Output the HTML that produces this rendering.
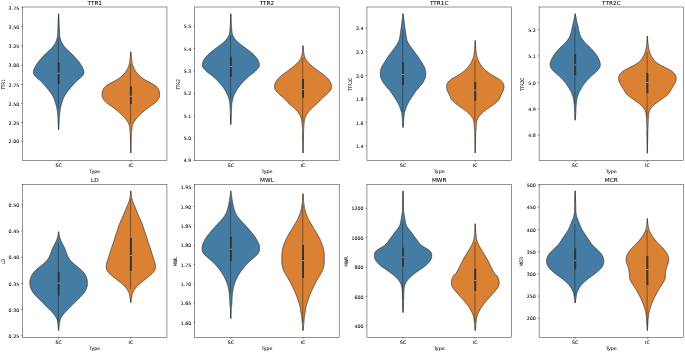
<!DOCTYPE html>
<html><head><meta charset="utf-8"><title>Violin plots</title>
<style>html,body{margin:0;padding:0;background:#fff}svg{display:block}text{font-family:"DejaVu Sans","Liberation Sans",sans-serif;fill:#000;stroke:#000;stroke-width:0.15px;text-rendering:geometricPrecision}</style>
</head><body>
<svg width="685" height="352" viewBox="0 0 685 352">
<rect width="685" height="352" fill="#fff"/>
<path d="M58.59,13.76 L58.58,14.16 L58.56,14.56 L58.55,14.96 L58.53,15.36 L58.51,15.76 L58.49,16.16 L58.48,16.56 L58.46,16.96 L58.44,17.36 L58.42,17.76 L58.41,18.16 L58.39,18.56 L58.37,18.96 L58.35,19.36 L58.33,19.76 L58.31,20.16 L58.29,20.56 L58.27,20.96 L58.25,21.36 L58.24,21.76 L58.22,22.16 L58.20,22.56 L58.18,22.96 L58.16,23.36 L58.14,23.76 L58.11,24.16 L58.09,24.56 L58.07,24.96 L58.05,25.36 L58.03,25.76 L58.01,26.16 L57.99,26.56 L57.98,26.96 L57.96,27.36 L57.94,27.76 L57.93,28.16 L57.91,28.56 L57.89,28.96 L57.88,29.36 L57.87,29.76 L57.85,30.16 L57.84,30.56 L57.82,30.96 L57.81,31.36 L57.79,31.76 L57.77,32.16 L57.75,32.56 L57.73,32.96 L57.71,33.36 L57.69,33.76 L57.66,34.16 L57.63,34.56 L57.59,34.96 L57.55,35.36 L57.51,35.76 L57.47,36.16 L57.42,36.56 L57.36,36.96 L57.30,37.36 L57.24,37.76 L57.16,38.16 L57.08,38.56 L56.98,38.96 L56.86,39.36 L56.73,39.76 L56.59,40.16 L56.44,40.56 L56.28,40.96 L56.12,41.36 L55.94,41.76 L55.75,42.16 L55.56,42.56 L55.35,42.96 L55.13,43.36 L54.90,43.76 L54.66,44.16 L54.40,44.56 L54.14,44.96 L53.86,45.36 L53.57,45.76 L53.26,46.16 L52.95,46.56 L52.62,46.96 L52.28,47.36 L51.93,47.76 L51.57,48.16 L51.19,48.56 L50.80,48.96 L50.40,49.36 L49.99,49.76 L49.57,50.16 L49.15,50.56 L48.72,50.96 L48.29,51.36 L47.85,51.76 L47.41,52.16 L46.96,52.56 L46.52,52.96 L46.08,53.36 L45.65,53.76 L45.23,54.16 L44.83,54.56 L44.44,54.96 L44.06,55.36 L43.70,55.76 L43.34,56.16 L42.98,56.56 L42.63,56.96 L42.28,57.36 L41.92,57.76 L41.55,58.16 L41.19,58.56 L40.82,58.96 L40.45,59.36 L40.09,59.76 L39.73,60.16 L39.39,60.56 L39.05,60.96 L38.73,61.36 L38.41,61.76 L38.11,62.16 L37.82,62.56 L37.54,62.96 L37.26,63.36 L36.99,63.76 L36.73,64.16 L36.48,64.56 L36.23,64.96 L35.99,65.36 L35.76,65.76 L35.54,66.16 L35.32,66.56 L35.10,66.96 L34.89,67.36 L34.69,67.76 L34.49,68.16 L34.29,68.56 L34.11,68.96 L33.94,69.36 L33.80,69.76 L33.68,70.16 L33.59,70.56 L33.51,70.96 L33.45,71.36 L33.41,71.76 L33.39,72.16 L33.40,72.56 L33.44,72.96 L33.52,73.36 L33.63,73.76 L33.78,74.16 L33.96,74.56 L34.18,74.96 L34.44,75.36 L34.75,75.76 L35.11,76.16 L35.51,76.56 L35.93,76.96 L36.38,77.36 L36.84,77.76 L37.31,78.16 L37.79,78.56 L38.27,78.96 L38.75,79.36 L39.22,79.76 L39.68,80.16 L40.13,80.56 L40.56,80.96 L40.98,81.36 L41.39,81.76 L41.79,82.16 L42.18,82.56 L42.56,82.96 L42.94,83.36 L43.31,83.76 L43.66,84.16 L44.02,84.56 L44.36,84.96 L44.70,85.36 L45.04,85.76 L45.37,86.16 L45.71,86.56 L46.05,86.96 L46.39,87.36 L46.73,87.76 L47.08,88.16 L47.42,88.56 L47.77,88.96 L48.10,89.36 L48.44,89.76 L48.76,90.16 L49.07,90.56 L49.38,90.96 L49.67,91.36 L49.96,91.76 L50.25,92.16 L50.53,92.56 L50.80,92.96 L51.07,93.36 L51.33,93.76 L51.59,94.16 L51.85,94.56 L52.10,94.96 L52.35,95.36 L52.60,95.76 L52.83,96.16 L53.06,96.56 L53.27,96.96 L53.48,97.36 L53.67,97.76 L53.85,98.16 L54.02,98.56 L54.18,98.96 L54.34,99.36 L54.49,99.76 L54.64,100.16 L54.78,100.56 L54.91,100.96 L55.05,101.36 L55.17,101.76 L55.30,102.16 L55.42,102.56 L55.54,102.96 L55.65,103.36 L55.76,103.76 L55.87,104.16 L55.98,104.56 L56.09,104.96 L56.19,105.36 L56.29,105.76 L56.39,106.16 L56.49,106.56 L56.58,106.96 L56.68,107.36 L56.77,107.76 L56.85,108.16 L56.94,108.56 L57.01,108.96 L57.08,109.36 L57.14,109.76 L57.20,110.16 L57.26,110.56 L57.31,110.96 L57.36,111.36 L57.41,111.76 L57.45,112.16 L57.50,112.56 L57.54,112.96 L57.58,113.36 L57.62,113.76 L57.66,114.16 L57.69,114.56 L57.73,114.96 L57.77,115.36 L57.80,115.76 L57.84,116.16 L57.87,116.56 L57.90,116.96 L57.93,117.36 L57.96,117.76 L57.98,118.16 L58.01,118.56 L58.03,118.96 L58.05,119.36 L58.07,119.76 L58.09,120.16 L58.11,120.56 L58.13,120.96 L58.14,121.36 L58.16,121.76 L58.18,122.16 L58.20,122.56 L58.22,122.96 L58.24,123.36 L58.26,123.76 L58.28,124.16 L58.30,124.56 L58.32,124.96 L58.35,125.36 L58.37,125.76 L58.39,126.16 L58.41,126.56 L58.43,126.96 L58.45,127.36 L58.48,127.76 L58.50,128.16 L58.52,128.56 L58.54,128.96 L58.56,129.36 L58.57,129.76 L58.73,129.76 L58.74,129.36 L58.76,128.96 L58.78,128.56 L58.80,128.16 L58.82,127.76 L58.85,127.36 L58.87,126.96 L58.89,126.56 L58.91,126.16 L58.93,125.76 L58.95,125.36 L58.98,124.96 L59.00,124.56 L59.02,124.16 L59.04,123.76 L59.06,123.36 L59.08,122.96 L59.10,122.56 L59.12,122.16 L59.14,121.76 L59.16,121.36 L59.17,120.96 L59.19,120.56 L59.21,120.16 L59.23,119.76 L59.25,119.36 L59.27,118.96 L59.29,118.56 L59.32,118.16 L59.34,117.76 L59.37,117.36 L59.40,116.96 L59.43,116.56 L59.46,116.16 L59.50,115.76 L59.53,115.36 L59.57,114.96 L59.61,114.56 L59.64,114.16 L59.68,113.76 L59.72,113.36 L59.76,112.96 L59.80,112.56 L59.85,112.16 L59.89,111.76 L59.94,111.36 L59.99,110.96 L60.04,110.56 L60.10,110.16 L60.16,109.76 L60.22,109.36 L60.29,108.96 L60.36,108.56 L60.45,108.16 L60.53,107.76 L60.62,107.36 L60.72,106.96 L60.81,106.56 L60.91,106.16 L61.01,105.76 L61.11,105.36 L61.21,104.96 L61.32,104.56 L61.43,104.16 L61.54,103.76 L61.65,103.36 L61.76,102.96 L61.88,102.56 L62.00,102.16 L62.13,101.76 L62.25,101.36 L62.39,100.96 L62.52,100.56 L62.66,100.16 L62.81,99.76 L62.96,99.36 L63.12,98.96 L63.28,98.56 L63.45,98.16 L63.63,97.76 L63.82,97.36 L64.03,96.96 L64.24,96.56 L64.47,96.16 L64.70,95.76 L64.95,95.36 L65.20,94.96 L65.45,94.56 L65.71,94.16 L65.97,93.76 L66.23,93.36 L66.50,92.96 L66.77,92.56 L67.05,92.16 L67.34,91.76 L67.63,91.36 L67.92,90.96 L68.23,90.56 L68.54,90.16 L68.86,89.76 L69.20,89.36 L69.53,88.96 L69.88,88.56 L70.22,88.16 L70.57,87.76 L70.91,87.36 L71.25,86.96 L71.59,86.56 L71.93,86.16 L72.26,85.76 L72.60,85.36 L72.94,84.96 L73.28,84.56 L73.64,84.16 L73.99,83.76 L74.36,83.36 L74.74,82.96 L75.12,82.56 L75.51,82.16 L75.91,81.76 L76.32,81.36 L76.74,80.96 L77.17,80.56 L77.62,80.16 L78.08,79.76 L78.55,79.36 L79.03,78.96 L79.51,78.56 L79.99,78.16 L80.46,77.76 L80.92,77.36 L81.37,76.96 L81.79,76.56 L82.19,76.16 L82.55,75.76 L82.86,75.36 L83.12,74.96 L83.34,74.56 L83.52,74.16 L83.67,73.76 L83.78,73.36 L83.86,72.96 L83.90,72.56 L83.91,72.16 L83.89,71.76 L83.85,71.36 L83.79,70.96 L83.71,70.56 L83.62,70.16 L83.50,69.76 L83.36,69.36 L83.19,68.96 L83.01,68.56 L82.81,68.16 L82.61,67.76 L82.41,67.36 L82.20,66.96 L81.98,66.56 L81.76,66.16 L81.54,65.76 L81.31,65.36 L81.07,64.96 L80.82,64.56 L80.57,64.16 L80.31,63.76 L80.04,63.36 L79.76,62.96 L79.48,62.56 L79.19,62.16 L78.89,61.76 L78.57,61.36 L78.25,60.96 L77.91,60.56 L77.57,60.16 L77.21,59.76 L76.85,59.36 L76.48,58.96 L76.11,58.56 L75.75,58.16 L75.38,57.76 L75.02,57.36 L74.67,56.96 L74.32,56.56 L73.96,56.16 L73.60,55.76 L73.24,55.36 L72.86,54.96 L72.47,54.56 L72.07,54.16 L71.65,53.76 L71.22,53.36 L70.78,52.96 L70.34,52.56 L69.89,52.16 L69.45,51.76 L69.01,51.36 L68.58,50.96 L68.15,50.56 L67.73,50.16 L67.31,49.76 L66.90,49.36 L66.50,48.96 L66.11,48.56 L65.73,48.16 L65.37,47.76 L65.02,47.36 L64.68,46.96 L64.35,46.56 L64.04,46.16 L63.73,45.76 L63.44,45.36 L63.16,44.96 L62.90,44.56 L62.64,44.16 L62.40,43.76 L62.17,43.36 L61.95,42.96 L61.74,42.56 L61.55,42.16 L61.36,41.76 L61.18,41.36 L61.02,40.96 L60.86,40.56 L60.71,40.16 L60.57,39.76 L60.44,39.36 L60.32,38.96 L60.22,38.56 L60.14,38.16 L60.06,37.76 L60.00,37.36 L59.94,36.96 L59.88,36.56 L59.83,36.16 L59.79,35.76 L59.75,35.36 L59.71,34.96 L59.67,34.56 L59.64,34.16 L59.61,33.76 L59.59,33.36 L59.57,32.96 L59.55,32.56 L59.53,32.16 L59.51,31.76 L59.49,31.36 L59.48,30.96 L59.46,30.56 L59.45,30.16 L59.43,29.76 L59.42,29.36 L59.41,28.96 L59.39,28.56 L59.37,28.16 L59.36,27.76 L59.34,27.36 L59.32,26.96 L59.31,26.56 L59.29,26.16 L59.27,25.76 L59.25,25.36 L59.23,24.96 L59.21,24.56 L59.19,24.16 L59.16,23.76 L59.14,23.36 L59.12,22.96 L59.10,22.56 L59.08,22.16 L59.06,21.76 L59.05,21.36 L59.03,20.96 L59.01,20.56 L58.99,20.16 L58.97,19.76 L58.95,19.36 L58.93,18.96 L58.91,18.56 L58.89,18.16 L58.88,17.76 L58.86,17.36 L58.84,16.96 L58.82,16.56 L58.81,16.16 L58.79,15.76 L58.77,15.36 L58.75,14.96 L58.74,14.56 L58.72,14.16 L58.71,13.76Z" fill="#457ca3" stroke="#303030" stroke-width="0.72" stroke-linejoin="round"/>
<line x1="58.45" x2="58.45" y1="13.76" y2="22.56" stroke="#222" stroke-width="0.45"/>
<line x1="58.45" x2="58.45" y1="122.16" y2="129.76" stroke="#222" stroke-width="0.45"/>
<line x1="58.35" x2="58.35" y1="38" y2="108.4" stroke="#222" stroke-width="0.5"/>
<line x1="58.65" x2="58.65" y1="62.7" y2="83.8" stroke="#333" stroke-width="1.9"/>
<rect x="57.65" y="72.90" width="2.0" height="0.6" fill="#fff" opacity="0.8"/>
<path d="M130.77,51.76 L130.75,52.16 L130.72,52.56 L130.68,52.96 L130.65,53.36 L130.61,53.76 L130.57,54.16 L130.53,54.56 L130.49,54.96 L130.45,55.36 L130.41,55.76 L130.38,56.16 L130.34,56.56 L130.30,56.96 L130.26,57.36 L130.23,57.76 L130.19,58.16 L130.15,58.56 L130.11,58.96 L130.07,59.36 L130.03,59.76 L129.99,60.16 L129.94,60.56 L129.89,60.96 L129.83,61.36 L129.77,61.76 L129.71,62.16 L129.65,62.56 L129.58,62.96 L129.51,63.36 L129.43,63.76 L129.34,64.16 L129.23,64.56 L129.11,64.96 L128.97,65.36 L128.82,65.76 L128.66,66.16 L128.50,66.56 L128.33,66.96 L128.16,67.36 L127.98,67.76 L127.79,68.16 L127.59,68.56 L127.38,68.96 L127.17,69.36 L126.95,69.76 L126.72,70.16 L126.48,70.56 L126.23,70.96 L125.97,71.36 L125.70,71.76 L125.42,72.16 L125.13,72.56 L124.82,72.96 L124.50,73.36 L124.16,73.76 L123.80,74.16 L123.42,74.56 L123.02,74.96 L122.60,75.36 L122.17,75.76 L121.72,76.16 L121.26,76.56 L120.79,76.96 L120.29,77.36 L119.78,77.76 L119.25,78.16 L118.69,78.56 L118.11,78.96 L117.49,79.36 L116.83,79.76 L116.13,80.16 L115.39,80.56 L114.63,80.96 L113.85,81.36 L113.07,81.76 L112.30,82.16 L111.54,82.56 L110.80,82.96 L110.07,83.36 L109.36,83.76 L108.67,84.16 L108.00,84.56 L107.36,84.96 L106.77,85.36 L106.22,85.76 L105.73,86.16 L105.29,86.56 L104.89,86.96 L104.52,87.36 L104.19,87.76 L103.88,88.16 L103.61,88.56 L103.37,88.96 L103.16,89.36 L102.97,89.76 L102.81,90.16 L102.67,90.56 L102.54,90.96 L102.42,91.36 L102.32,91.76 L102.25,92.16 L102.19,92.56 L102.15,92.96 L102.13,93.36 L102.12,93.76 L102.12,94.16 L102.12,94.56 L102.12,94.96 L102.12,95.36 L102.13,95.76 L102.15,96.16 L102.19,96.56 L102.26,96.96 L102.38,97.36 L102.53,97.76 L102.72,98.16 L102.95,98.56 L103.20,98.96 L103.46,99.36 L103.75,99.76 L104.05,100.16 L104.37,100.56 L104.73,100.96 L105.10,101.36 L105.51,101.76 L105.93,102.16 L106.38,102.56 L106.84,102.96 L107.32,103.36 L107.82,103.76 L108.34,104.16 L108.89,104.56 L109.45,104.96 L110.02,105.36 L110.60,105.76 L111.17,106.16 L111.74,106.56 L112.31,106.96 L112.87,107.36 L113.42,107.76 L113.97,108.16 L114.52,108.56 L115.05,108.96 L115.58,109.36 L116.10,109.76 L116.61,110.16 L117.10,110.56 L117.59,110.96 L118.06,111.36 L118.53,111.76 L118.99,112.16 L119.44,112.56 L119.88,112.96 L120.32,113.36 L120.75,113.76 L121.17,114.16 L121.59,114.56 L122.00,114.96 L122.40,115.36 L122.80,115.76 L123.19,116.16 L123.56,116.56 L123.93,116.96 L124.28,117.36 L124.63,117.76 L124.97,118.16 L125.30,118.56 L125.62,118.96 L125.93,119.36 L126.23,119.76 L126.52,120.16 L126.80,120.56 L127.08,120.96 L127.35,121.36 L127.61,121.76 L127.86,122.16 L128.09,122.56 L128.31,122.96 L128.51,123.36 L128.70,123.76 L128.86,124.16 L129.02,124.56 L129.15,124.96 L129.27,125.36 L129.36,125.76 L129.45,126.16 L129.52,126.56 L129.59,126.96 L129.64,127.36 L129.70,127.76 L129.75,128.16 L129.80,128.56 L129.84,128.96 L129.88,129.36 L129.93,129.76 L129.97,130.16 L130.01,130.56 L130.05,130.96 L130.09,131.36 L130.13,131.76 L130.17,132.16 L130.21,132.56 L130.24,132.96 L130.28,133.36 L130.31,133.76 L130.34,134.16 L130.36,134.56 L130.39,134.96 L130.41,135.36 L130.43,135.76 L130.45,136.16 L130.47,136.56 L130.48,136.96 L130.50,137.36 L130.51,137.76 L130.52,138.16 L130.54,138.56 L130.55,138.96 L130.56,139.36 L130.57,139.76 L130.58,140.16 L130.59,140.56 L130.60,140.96 L130.62,141.36 L130.63,141.76 L130.64,142.16 L130.65,142.56 L130.66,142.96 L130.67,143.36 L130.67,143.76 L130.68,144.16 L130.69,144.56 L130.70,144.96 L130.71,145.36 L130.72,145.76 L130.73,146.16 L130.73,146.56 L130.74,146.96 L130.75,147.36 L130.75,147.76 L130.76,148.16 L130.76,148.56 L130.77,148.96 L130.77,149.36 L130.78,149.76 L130.78,150.16 L130.79,150.56 L130.79,150.96 L130.79,151.36 L130.79,151.76 L130.80,152.16 L130.80,152.56 L130.80,152.96 L130.90,152.96 L130.90,152.56 L130.90,152.16 L130.91,151.76 L130.91,151.36 L130.91,150.96 L130.91,150.56 L130.92,150.16 L130.92,149.76 L130.93,149.36 L130.93,148.96 L130.94,148.56 L130.94,148.16 L130.95,147.76 L130.95,147.36 L130.96,146.96 L130.97,146.56 L130.97,146.16 L130.98,145.76 L130.99,145.36 L131.00,144.96 L131.01,144.56 L131.02,144.16 L131.03,143.76 L131.03,143.36 L131.04,142.96 L131.05,142.56 L131.06,142.16 L131.07,141.76 L131.08,141.36 L131.10,140.96 L131.11,140.56 L131.12,140.16 L131.13,139.76 L131.14,139.36 L131.15,138.96 L131.16,138.56 L131.18,138.16 L131.19,137.76 L131.20,137.36 L131.22,136.96 L131.23,136.56 L131.25,136.16 L131.27,135.76 L131.29,135.36 L131.31,134.96 L131.34,134.56 L131.36,134.16 L131.39,133.76 L131.42,133.36 L131.46,132.96 L131.49,132.56 L131.53,132.16 L131.57,131.76 L131.61,131.36 L131.65,130.96 L131.69,130.56 L131.73,130.16 L131.77,129.76 L131.82,129.36 L131.86,128.96 L131.90,128.56 L131.95,128.16 L132.00,127.76 L132.06,127.36 L132.11,126.96 L132.18,126.56 L132.25,126.16 L132.34,125.76 L132.43,125.36 L132.55,124.96 L132.68,124.56 L132.84,124.16 L133.00,123.76 L133.19,123.36 L133.39,122.96 L133.61,122.56 L133.84,122.16 L134.09,121.76 L134.35,121.36 L134.62,120.96 L134.90,120.56 L135.18,120.16 L135.47,119.76 L135.77,119.36 L136.08,118.96 L136.40,118.56 L136.73,118.16 L137.07,117.76 L137.42,117.36 L137.77,116.96 L138.14,116.56 L138.51,116.16 L138.90,115.76 L139.30,115.36 L139.70,114.96 L140.11,114.56 L140.53,114.16 L140.95,113.76 L141.38,113.36 L141.82,112.96 L142.26,112.56 L142.71,112.16 L143.17,111.76 L143.64,111.36 L144.11,110.96 L144.60,110.56 L145.09,110.16 L145.60,109.76 L146.12,109.36 L146.65,108.96 L147.18,108.56 L147.73,108.16 L148.28,107.76 L148.83,107.36 L149.39,106.96 L149.96,106.56 L150.53,106.16 L151.10,105.76 L151.68,105.36 L152.25,104.96 L152.81,104.56 L153.36,104.16 L153.88,103.76 L154.38,103.36 L154.86,102.96 L155.32,102.56 L155.77,102.16 L156.19,101.76 L156.60,101.36 L156.97,100.96 L157.33,100.56 L157.65,100.16 L157.95,99.76 L158.24,99.36 L158.50,98.96 L158.75,98.56 L158.98,98.16 L159.17,97.76 L159.32,97.36 L159.44,96.96 L159.51,96.56 L159.55,96.16 L159.57,95.76 L159.58,95.36 L159.58,94.96 L159.58,94.56 L159.58,94.16 L159.58,93.76 L159.57,93.36 L159.55,92.96 L159.51,92.56 L159.45,92.16 L159.38,91.76 L159.28,91.36 L159.16,90.96 L159.03,90.56 L158.89,90.16 L158.73,89.76 L158.54,89.36 L158.33,88.96 L158.09,88.56 L157.82,88.16 L157.51,87.76 L157.18,87.36 L156.81,86.96 L156.41,86.56 L155.97,86.16 L155.48,85.76 L154.93,85.36 L154.34,84.96 L153.70,84.56 L153.03,84.16 L152.34,83.76 L151.63,83.36 L150.90,82.96 L150.16,82.56 L149.40,82.16 L148.63,81.76 L147.85,81.36 L147.07,80.96 L146.31,80.56 L145.57,80.16 L144.87,79.76 L144.21,79.36 L143.59,78.96 L143.01,78.56 L142.45,78.16 L141.92,77.76 L141.41,77.36 L140.91,76.96 L140.44,76.56 L139.98,76.16 L139.53,75.76 L139.10,75.36 L138.68,74.96 L138.28,74.56 L137.90,74.16 L137.54,73.76 L137.20,73.36 L136.88,72.96 L136.57,72.56 L136.28,72.16 L136.00,71.76 L135.73,71.36 L135.47,70.96 L135.22,70.56 L134.98,70.16 L134.75,69.76 L134.53,69.36 L134.32,68.96 L134.11,68.56 L133.91,68.16 L133.72,67.76 L133.54,67.36 L133.37,66.96 L133.20,66.56 L133.04,66.16 L132.88,65.76 L132.73,65.36 L132.59,64.96 L132.47,64.56 L132.36,64.16 L132.27,63.76 L132.19,63.36 L132.12,62.96 L132.05,62.56 L131.99,62.16 L131.93,61.76 L131.87,61.36 L131.81,60.96 L131.76,60.56 L131.71,60.16 L131.67,59.76 L131.63,59.36 L131.59,58.96 L131.55,58.56 L131.51,58.16 L131.47,57.76 L131.44,57.36 L131.40,56.96 L131.36,56.56 L131.32,56.16 L131.29,55.76 L131.25,55.36 L131.21,54.96 L131.17,54.56 L131.13,54.16 L131.09,53.76 L131.05,53.36 L131.02,52.96 L130.98,52.56 L130.95,52.16 L130.93,51.76Z" fill="#db8134" stroke="#303030" stroke-width="0.72" stroke-linejoin="round"/>
<line x1="130.65" x2="130.65" y1="51.76" y2="56.16" stroke="#222" stroke-width="0.45"/>
<line x1="130.65" x2="130.65" y1="134.96" y2="152.96" stroke="#222" stroke-width="0.45"/>
<line x1="130.55" x2="130.55" y1="64" y2="124" stroke="#222" stroke-width="0.5"/>
<line x1="130.85" x2="130.85" y1="86.4" y2="104.0" stroke="#333" stroke-width="1.9"/>
<rect x="129.85" y="95.90" width="2.0" height="0.6" fill="#fff" opacity="0.8"/>
<rect x="22.55" y="7.0" width="144.40" height="153.40" fill="none" stroke="#000" stroke-width="0.42"/>
<line x1="21.15" x2="22.55" y1="7.75" y2="7.75" stroke="#000" stroke-width="0.42"/>
<text transform="translate(19.20,9.85) scale(0.3425,0.33)" text-anchor="end" font-size="13.89">3.75</text>
<line x1="21.15" x2="22.55" y1="26.7" y2="26.7" stroke="#000" stroke-width="0.42"/>
<text transform="translate(19.20,28.80) scale(0.3425,0.33)" text-anchor="end" font-size="13.89">3.50</text>
<line x1="21.15" x2="22.55" y1="46.0" y2="46.0" stroke="#000" stroke-width="0.42"/>
<text transform="translate(19.20,48.10) scale(0.3425,0.33)" text-anchor="end" font-size="13.89">3.25</text>
<line x1="21.15" x2="22.55" y1="65.3" y2="65.3" stroke="#000" stroke-width="0.42"/>
<text transform="translate(19.20,67.40) scale(0.3425,0.33)" text-anchor="end" font-size="13.89">3.00</text>
<line x1="21.15" x2="22.55" y1="84.5" y2="84.5" stroke="#000" stroke-width="0.42"/>
<text transform="translate(19.20,86.60) scale(0.3425,0.33)" text-anchor="end" font-size="13.89">2.75</text>
<line x1="21.15" x2="22.55" y1="103.5" y2="103.5" stroke="#000" stroke-width="0.42"/>
<text transform="translate(19.20,105.60) scale(0.3425,0.33)" text-anchor="end" font-size="13.89">2.50</text>
<line x1="21.15" x2="22.55" y1="122.4" y2="122.4" stroke="#000" stroke-width="0.42"/>
<text transform="translate(19.20,124.50) scale(0.3425,0.33)" text-anchor="end" font-size="13.89">2.25</text>
<line x1="21.15" x2="22.55" y1="141.3" y2="141.3" stroke="#000" stroke-width="0.42"/>
<text transform="translate(19.20,143.40) scale(0.3425,0.33)" text-anchor="end" font-size="13.89">2.00</text>
<line x1="58.65" x2="58.65" y1="160.4" y2="161.80" stroke="#000" stroke-width="0.42"/>
<text transform="translate(58.65,166.85) scale(0.3425,0.33)" text-anchor="middle" font-size="13.89">SC</text>
<line x1="130.85" x2="130.85" y1="160.4" y2="161.80" stroke="#000" stroke-width="0.42"/>
<text transform="translate(130.85,166.85) scale(0.3425,0.33)" text-anchor="middle" font-size="13.89">IC</text>
<text transform="translate(94.75,172.55) scale(0.3425,0.33)" text-anchor="middle" font-size="13.89">Type</text>
<text transform="translate(94.75,4.70) scale(0.3425,0.33)" text-anchor="middle" font-size="16.67">TTR1</text>
<text transform="translate(4.83,84.40) scale(0.3425,0.2933) rotate(-90)" text-anchor="middle" font-size="13.89">TTR1</text>
<path d="M230.79,13.76 L230.78,14.16 L230.76,14.56 L230.75,14.96 L230.73,15.36 L230.71,15.76 L230.69,16.16 L230.68,16.56 L230.66,16.96 L230.64,17.36 L230.62,17.76 L230.61,18.16 L230.59,18.56 L230.57,18.96 L230.55,19.36 L230.53,19.76 L230.51,20.16 L230.49,20.56 L230.48,20.96 L230.46,21.36 L230.44,21.76 L230.42,22.16 L230.41,22.56 L230.39,22.96 L230.37,23.36 L230.35,23.76 L230.33,24.16 L230.31,24.56 L230.29,24.96 L230.27,25.36 L230.25,25.76 L230.22,26.16 L230.20,26.56 L230.17,26.96 L230.15,27.36 L230.12,27.76 L230.09,28.16 L230.06,28.56 L230.02,28.96 L229.99,29.36 L229.95,29.76 L229.91,30.16 L229.87,30.56 L229.83,30.96 L229.78,31.36 L229.73,31.76 L229.68,32.16 L229.62,32.56 L229.56,32.96 L229.49,33.36 L229.41,33.76 L229.31,34.16 L229.20,34.56 L229.05,34.96 L228.89,35.36 L228.71,35.76 L228.52,36.16 L228.31,36.56 L228.09,36.96 L227.85,37.36 L227.60,37.76 L227.32,38.16 L227.03,38.56 L226.72,38.96 L226.39,39.36 L226.05,39.76 L225.69,40.16 L225.32,40.56 L224.94,40.96 L224.54,41.36 L224.13,41.76 L223.71,42.16 L223.27,42.56 L222.82,42.96 L222.35,43.36 L221.88,43.76 L221.39,44.16 L220.88,44.56 L220.37,44.96 L219.84,45.36 L219.30,45.76 L218.75,46.16 L218.20,46.56 L217.65,46.96 L217.11,47.36 L216.57,47.76 L216.04,48.16 L215.51,48.56 L214.98,48.96 L214.46,49.36 L213.94,49.76 L213.43,50.16 L212.92,50.56 L212.41,50.96 L211.90,51.36 L211.40,51.76 L210.90,52.16 L210.41,52.56 L209.93,52.96 L209.46,53.36 L209.00,53.76 L208.56,54.16 L208.14,54.56 L207.73,54.96 L207.33,55.36 L206.95,55.76 L206.58,56.16 L206.23,56.56 L205.89,56.96 L205.57,57.36 L205.26,57.76 L204.97,58.16 L204.68,58.56 L204.41,58.96 L204.15,59.36 L203.91,59.76 L203.68,60.16 L203.48,60.56 L203.29,60.96 L203.12,61.36 L202.97,61.76 L202.83,62.16 L202.71,62.56 L202.59,62.96 L202.50,63.36 L202.42,63.76 L202.37,64.16 L202.34,64.56 L202.33,64.96 L202.35,65.36 L202.39,65.76 L202.46,66.16 L202.57,66.56 L202.73,66.96 L202.96,67.36 L203.26,67.76 L203.59,68.16 L203.94,68.56 L204.29,68.96 L204.62,69.36 L204.95,69.76 L205.29,70.16 L205.63,70.56 L206.01,70.96 L206.41,71.36 L206.86,71.76 L207.34,72.16 L207.85,72.56 L208.39,72.96 L208.95,73.36 L209.51,73.76 L210.06,74.16 L210.60,74.56 L211.11,74.96 L211.61,75.36 L212.10,75.76 L212.57,76.16 L213.04,76.56 L213.49,76.96 L213.94,77.36 L214.38,77.76 L214.81,78.16 L215.24,78.56 L215.66,78.96 L216.07,79.36 L216.47,79.76 L216.87,80.16 L217.27,80.56 L217.66,80.96 L218.04,81.36 L218.42,81.76 L218.80,82.16 L219.17,82.56 L219.54,82.96 L219.91,83.36 L220.27,83.76 L220.62,84.16 L220.96,84.56 L221.30,84.96 L221.63,85.36 L221.95,85.76 L222.26,86.16 L222.57,86.56 L222.87,86.96 L223.17,87.36 L223.45,87.76 L223.73,88.16 L224.00,88.56 L224.27,88.96 L224.52,89.36 L224.77,89.76 L225.01,90.16 L225.25,90.56 L225.48,90.96 L225.71,91.36 L225.94,91.76 L226.15,92.16 L226.37,92.56 L226.58,92.96 L226.79,93.36 L226.99,93.76 L227.19,94.16 L227.38,94.56 L227.56,94.96 L227.73,95.36 L227.89,95.76 L228.05,96.16 L228.20,96.56 L228.34,96.96 L228.48,97.36 L228.62,97.76 L228.74,98.16 L228.87,98.56 L228.98,98.96 L229.10,99.36 L229.20,99.76 L229.29,100.16 L229.37,100.56 L229.45,100.96 L229.51,101.36 L229.58,101.76 L229.63,102.16 L229.69,102.56 L229.74,102.96 L229.79,103.36 L229.84,103.76 L229.88,104.16 L229.92,104.56 L229.96,104.96 L229.99,105.36 L230.02,105.76 L230.05,106.16 L230.07,106.56 L230.09,106.96 L230.10,107.36 L230.12,107.76 L230.14,108.16 L230.15,108.56 L230.17,108.96 L230.19,109.36 L230.21,109.76 L230.23,110.16 L230.25,110.56 L230.27,110.96 L230.29,111.36 L230.31,111.76 L230.32,112.16 L230.34,112.56 L230.35,112.96 L230.37,113.36 L230.38,113.76 L230.39,114.16 L230.40,114.56 L230.40,114.96 L230.41,115.36 L230.42,115.76 L230.43,116.16 L230.44,116.56 L230.45,116.96 L230.46,117.36 L230.47,117.76 L230.48,118.16 L230.49,118.56 L230.50,118.96 L230.52,119.36 L230.53,119.76 L230.55,120.16 L230.56,120.56 L230.58,120.96 L230.60,121.36 L230.62,121.76 L230.64,122.16 L230.67,122.56 L230.69,122.96 L230.71,123.36 L230.73,123.76 L230.75,124.16 L230.77,124.56 L230.93,124.56 L230.95,124.16 L230.97,123.76 L230.99,123.36 L231.01,122.96 L231.03,122.56 L231.06,122.16 L231.08,121.76 L231.10,121.36 L231.12,120.96 L231.14,120.56 L231.15,120.16 L231.17,119.76 L231.18,119.36 L231.20,118.96 L231.21,118.56 L231.22,118.16 L231.23,117.76 L231.24,117.36 L231.25,116.96 L231.26,116.56 L231.27,116.16 L231.28,115.76 L231.29,115.36 L231.30,114.96 L231.30,114.56 L231.31,114.16 L231.32,113.76 L231.33,113.36 L231.35,112.96 L231.36,112.56 L231.38,112.16 L231.39,111.76 L231.41,111.36 L231.43,110.96 L231.45,110.56 L231.47,110.16 L231.49,109.76 L231.51,109.36 L231.53,108.96 L231.55,108.56 L231.56,108.16 L231.58,107.76 L231.60,107.36 L231.61,106.96 L231.63,106.56 L231.65,106.16 L231.68,105.76 L231.71,105.36 L231.74,104.96 L231.78,104.56 L231.82,104.16 L231.86,103.76 L231.91,103.36 L231.96,102.96 L232.01,102.56 L232.07,102.16 L232.12,101.76 L232.19,101.36 L232.25,100.96 L232.33,100.56 L232.41,100.16 L232.50,99.76 L232.60,99.36 L232.72,98.96 L232.83,98.56 L232.96,98.16 L233.08,97.76 L233.22,97.36 L233.36,96.96 L233.50,96.56 L233.65,96.16 L233.81,95.76 L233.97,95.36 L234.14,94.96 L234.32,94.56 L234.51,94.16 L234.71,93.76 L234.91,93.36 L235.12,92.96 L235.33,92.56 L235.55,92.16 L235.76,91.76 L235.99,91.36 L236.22,90.96 L236.45,90.56 L236.69,90.16 L236.93,89.76 L237.18,89.36 L237.43,88.96 L237.70,88.56 L237.97,88.16 L238.25,87.76 L238.53,87.36 L238.83,86.96 L239.13,86.56 L239.44,86.16 L239.75,85.76 L240.07,85.36 L240.40,84.96 L240.74,84.56 L241.08,84.16 L241.43,83.76 L241.79,83.36 L242.16,82.96 L242.53,82.56 L242.90,82.16 L243.28,81.76 L243.66,81.36 L244.04,80.96 L244.43,80.56 L244.83,80.16 L245.23,79.76 L245.63,79.36 L246.04,78.96 L246.46,78.56 L246.89,78.16 L247.32,77.76 L247.76,77.36 L248.21,76.96 L248.66,76.56 L249.13,76.16 L249.60,75.76 L250.09,75.36 L250.59,74.96 L251.10,74.56 L251.64,74.16 L252.19,73.76 L252.75,73.36 L253.31,72.96 L253.85,72.56 L254.36,72.16 L254.84,71.76 L255.29,71.36 L255.69,70.96 L256.07,70.56 L256.41,70.16 L256.75,69.76 L257.08,69.36 L257.41,68.96 L257.76,68.56 L258.11,68.16 L258.44,67.76 L258.74,67.36 L258.97,66.96 L259.13,66.56 L259.24,66.16 L259.31,65.76 L259.35,65.36 L259.37,64.96 L259.36,64.56 L259.33,64.16 L259.28,63.76 L259.20,63.36 L259.11,62.96 L258.99,62.56 L258.87,62.16 L258.73,61.76 L258.58,61.36 L258.41,60.96 L258.22,60.56 L258.02,60.16 L257.79,59.76 L257.55,59.36 L257.29,58.96 L257.02,58.56 L256.73,58.16 L256.44,57.76 L256.13,57.36 L255.81,56.96 L255.47,56.56 L255.12,56.16 L254.75,55.76 L254.37,55.36 L253.97,54.96 L253.56,54.56 L253.14,54.16 L252.70,53.76 L252.24,53.36 L251.77,52.96 L251.29,52.56 L250.80,52.16 L250.30,51.76 L249.80,51.36 L249.29,50.96 L248.78,50.56 L248.27,50.16 L247.76,49.76 L247.24,49.36 L246.72,48.96 L246.19,48.56 L245.66,48.16 L245.13,47.76 L244.59,47.36 L244.05,46.96 L243.50,46.56 L242.95,46.16 L242.40,45.76 L241.86,45.36 L241.33,44.96 L240.82,44.56 L240.31,44.16 L239.82,43.76 L239.35,43.36 L238.88,42.96 L238.43,42.56 L237.99,42.16 L237.57,41.76 L237.16,41.36 L236.76,40.96 L236.38,40.56 L236.01,40.16 L235.65,39.76 L235.31,39.36 L234.98,38.96 L234.67,38.56 L234.38,38.16 L234.10,37.76 L233.85,37.36 L233.61,36.96 L233.39,36.56 L233.18,36.16 L232.99,35.76 L232.81,35.36 L232.65,34.96 L232.50,34.56 L232.39,34.16 L232.29,33.76 L232.21,33.36 L232.14,32.96 L232.08,32.56 L232.02,32.16 L231.97,31.76 L231.92,31.36 L231.87,30.96 L231.83,30.56 L231.79,30.16 L231.75,29.76 L231.71,29.36 L231.68,28.96 L231.64,28.56 L231.61,28.16 L231.58,27.76 L231.55,27.36 L231.53,26.96 L231.50,26.56 L231.48,26.16 L231.45,25.76 L231.43,25.36 L231.41,24.96 L231.39,24.56 L231.37,24.16 L231.35,23.76 L231.33,23.36 L231.31,22.96 L231.29,22.56 L231.28,22.16 L231.26,21.76 L231.24,21.36 L231.22,20.96 L231.21,20.56 L231.19,20.16 L231.17,19.76 L231.15,19.36 L231.13,18.96 L231.11,18.56 L231.09,18.16 L231.08,17.76 L231.06,17.36 L231.04,16.96 L231.02,16.56 L231.01,16.16 L230.99,15.76 L230.97,15.36 L230.95,14.96 L230.94,14.56 L230.92,14.16 L230.91,13.76Z" fill="#457ca3" stroke="#303030" stroke-width="0.72" stroke-linejoin="round"/>
<line x1="230.65" x2="230.65" y1="13.76" y2="22.96" stroke="#222" stroke-width="0.45"/>
<line x1="230.65" x2="230.65" y1="114.56" y2="124.56" stroke="#222" stroke-width="0.45"/>
<line x1="230.55" x2="230.55" y1="36" y2="99.6" stroke="#222" stroke-width="0.5"/>
<line x1="230.85" x2="230.85" y1="56.5" y2="76.5" stroke="#333" stroke-width="1.9"/>
<rect x="229.85" y="66.40" width="2.0" height="0.6" fill="#fff" opacity="0.8"/>
<path d="M302.98,45.71 L302.96,46.11 L302.94,46.51 L302.92,46.91 L302.89,47.31 L302.85,47.71 L302.82,48.11 L302.78,48.51 L302.74,48.91 L302.70,49.31 L302.66,49.71 L302.62,50.11 L302.57,50.51 L302.53,50.91 L302.48,51.31 L302.43,51.71 L302.38,52.11 L302.32,52.51 L302.27,52.91 L302.21,53.31 L302.15,53.71 L302.09,54.11 L302.02,54.51 L301.95,54.91 L301.86,55.31 L301.77,55.71 L301.67,56.11 L301.56,56.51 L301.43,56.91 L301.27,57.31 L301.09,57.71 L300.90,58.11 L300.69,58.51 L300.47,58.91 L300.24,59.31 L299.99,59.71 L299.74,60.11 L299.46,60.51 L299.17,60.91 L298.87,61.31 L298.54,61.71 L298.19,62.11 L297.83,62.51 L297.45,62.91 L297.05,63.31 L296.65,63.71 L296.23,64.11 L295.80,64.51 L295.36,64.91 L294.91,65.31 L294.45,65.71 L293.97,66.11 L293.49,66.51 L292.99,66.91 L292.49,67.31 L291.98,67.71 L291.47,68.11 L290.94,68.51 L290.41,68.91 L289.88,69.31 L289.34,69.71 L288.79,70.11 L288.24,70.51 L287.70,70.91 L287.15,71.31 L286.60,71.71 L286.05,72.11 L285.50,72.51 L284.96,72.91 L284.41,73.31 L283.88,73.71 L283.35,74.11 L282.83,74.51 L282.32,74.91 L281.82,75.31 L281.33,75.71 L280.84,76.11 L280.37,76.51 L279.92,76.91 L279.48,77.31 L279.07,77.71 L278.68,78.11 L278.30,78.51 L277.95,78.91 L277.62,79.31 L277.30,79.71 L277.00,80.11 L276.71,80.51 L276.45,80.91 L276.20,81.31 L275.97,81.71 L275.75,82.11 L275.53,82.51 L275.34,82.91 L275.15,83.31 L275.00,83.71 L274.87,84.11 L274.78,84.51 L274.72,84.91 L274.68,85.31 L274.67,85.71 L274.66,86.11 L274.66,86.51 L274.66,86.91 L274.66,87.31 L274.68,87.71 L274.71,88.11 L274.77,88.51 L274.87,88.91 L275.03,89.31 L275.24,89.71 L275.50,90.11 L275.79,90.51 L276.11,90.91 L276.45,91.31 L276.79,91.71 L277.14,92.11 L277.49,92.51 L277.87,92.91 L278.25,93.31 L278.66,93.71 L279.08,94.11 L279.51,94.51 L279.96,94.91 L280.42,95.31 L280.90,95.71 L281.41,96.11 L281.92,96.51 L282.44,96.91 L282.96,97.31 L283.45,97.71 L283.90,98.11 L284.32,98.51 L284.70,98.91 L285.05,99.31 L285.38,99.71 L285.71,100.11 L286.05,100.51 L286.40,100.91 L286.77,101.31 L287.14,101.71 L287.53,102.11 L287.92,102.51 L288.33,102.91 L288.75,103.31 L289.18,103.71 L289.62,104.11 L290.07,104.51 L290.54,104.91 L291.00,105.31 L291.47,105.71 L291.93,106.11 L292.38,106.51 L292.82,106.91 L293.25,107.31 L293.68,107.71 L294.09,108.11 L294.50,108.51 L294.90,108.91 L295.28,109.31 L295.66,109.71 L296.03,110.11 L296.39,110.51 L296.74,110.91 L297.09,111.31 L297.42,111.71 L297.74,112.11 L298.06,112.51 L298.36,112.91 L298.64,113.31 L298.92,113.71 L299.18,114.11 L299.43,114.51 L299.67,114.91 L299.90,115.31 L300.12,115.71 L300.32,116.11 L300.51,116.51 L300.69,116.91 L300.85,117.31 L301.00,117.71 L301.15,118.11 L301.28,118.51 L301.39,118.91 L301.49,119.31 L301.57,119.71 L301.64,120.11 L301.71,120.51 L301.77,120.91 L301.82,121.31 L301.86,121.71 L301.91,122.11 L301.95,122.51 L301.99,122.91 L302.03,123.31 L302.06,123.71 L302.10,124.11 L302.14,124.51 L302.17,124.91 L302.21,125.31 L302.24,125.71 L302.27,126.11 L302.31,126.51 L302.34,126.91 L302.36,127.31 L302.39,127.71 L302.41,128.11 L302.44,128.51 L302.46,128.91 L302.48,129.31 L302.49,129.71 L302.51,130.11 L302.53,130.51 L302.54,130.91 L302.55,131.31 L302.57,131.71 L302.58,132.11 L302.59,132.51 L302.60,132.91 L302.61,133.31 L302.62,133.71 L302.63,134.11 L302.64,134.51 L302.65,134.91 L302.66,135.31 L302.67,135.71 L302.68,136.11 L302.69,136.51 L302.69,136.91 L302.70,137.31 L302.71,137.71 L302.72,138.11 L302.73,138.51 L302.74,138.91 L302.75,139.31 L302.75,139.71 L302.76,140.11 L302.77,140.51 L302.78,140.91 L302.79,141.31 L302.80,141.71 L302.80,142.11 L302.81,142.51 L302.82,142.91 L302.83,143.31 L302.84,143.71 L302.84,144.11 L302.85,144.51 L302.86,144.91 L302.87,145.31 L302.87,145.71 L302.88,146.11 L302.89,146.51 L302.90,146.91 L302.90,147.31 L302.91,147.71 L302.92,148.11 L302.92,148.51 L302.93,148.91 L302.94,149.31 L302.94,149.71 L302.95,150.11 L302.96,150.51 L302.96,150.91 L302.97,151.31 L302.98,151.71 L302.98,152.11 L302.99,152.51 L302.99,152.91 L303.11,152.91 L303.11,152.51 L303.12,152.11 L303.12,151.71 L303.13,151.31 L303.14,150.91 L303.14,150.51 L303.15,150.11 L303.16,149.71 L303.16,149.31 L303.17,148.91 L303.18,148.51 L303.18,148.11 L303.19,147.71 L303.20,147.31 L303.20,146.91 L303.21,146.51 L303.22,146.11 L303.23,145.71 L303.23,145.31 L303.24,144.91 L303.25,144.51 L303.26,144.11 L303.26,143.71 L303.27,143.31 L303.28,142.91 L303.29,142.51 L303.30,142.11 L303.30,141.71 L303.31,141.31 L303.32,140.91 L303.33,140.51 L303.34,140.11 L303.35,139.71 L303.35,139.31 L303.36,138.91 L303.37,138.51 L303.38,138.11 L303.39,137.71 L303.40,137.31 L303.41,136.91 L303.41,136.51 L303.42,136.11 L303.43,135.71 L303.44,135.31 L303.45,134.91 L303.46,134.51 L303.47,134.11 L303.48,133.71 L303.49,133.31 L303.50,132.91 L303.51,132.51 L303.52,132.11 L303.53,131.71 L303.55,131.31 L303.56,130.91 L303.57,130.51 L303.59,130.11 L303.61,129.71 L303.62,129.31 L303.64,128.91 L303.66,128.51 L303.69,128.11 L303.71,127.71 L303.74,127.31 L303.76,126.91 L303.79,126.51 L303.83,126.11 L303.86,125.71 L303.89,125.31 L303.93,124.91 L303.96,124.51 L304.00,124.11 L304.04,123.71 L304.07,123.31 L304.11,122.91 L304.15,122.51 L304.19,122.11 L304.24,121.71 L304.28,121.31 L304.33,120.91 L304.39,120.51 L304.46,120.11 L304.53,119.71 L304.61,119.31 L304.71,118.91 L304.82,118.51 L304.95,118.11 L305.10,117.71 L305.25,117.31 L305.41,116.91 L305.59,116.51 L305.78,116.11 L305.98,115.71 L306.20,115.31 L306.43,114.91 L306.67,114.51 L306.92,114.11 L307.18,113.71 L307.46,113.31 L307.74,112.91 L308.04,112.51 L308.36,112.11 L308.68,111.71 L309.01,111.31 L309.36,110.91 L309.71,110.51 L310.07,110.11 L310.44,109.71 L310.82,109.31 L311.20,108.91 L311.60,108.51 L312.01,108.11 L312.42,107.71 L312.85,107.31 L313.28,106.91 L313.72,106.51 L314.17,106.11 L314.63,105.71 L315.10,105.31 L315.56,104.91 L316.03,104.51 L316.48,104.11 L316.92,103.71 L317.35,103.31 L317.77,102.91 L318.18,102.51 L318.57,102.11 L318.96,101.71 L319.33,101.31 L319.70,100.91 L320.05,100.51 L320.39,100.11 L320.72,99.71 L321.05,99.31 L321.40,98.91 L321.78,98.51 L322.20,98.11 L322.65,97.71 L323.14,97.31 L323.66,96.91 L324.18,96.51 L324.69,96.11 L325.20,95.71 L325.68,95.31 L326.14,94.91 L326.59,94.51 L327.02,94.11 L327.44,93.71 L327.85,93.31 L328.23,92.91 L328.61,92.51 L328.96,92.11 L329.31,91.71 L329.65,91.31 L329.99,90.91 L330.31,90.51 L330.60,90.11 L330.86,89.71 L331.07,89.31 L331.23,88.91 L331.33,88.51 L331.39,88.11 L331.42,87.71 L331.44,87.31 L331.44,86.91 L331.44,86.51 L331.44,86.11 L331.43,85.71 L331.42,85.31 L331.38,84.91 L331.32,84.51 L331.23,84.11 L331.10,83.71 L330.95,83.31 L330.76,82.91 L330.57,82.51 L330.35,82.11 L330.13,81.71 L329.90,81.31 L329.65,80.91 L329.39,80.51 L329.10,80.11 L328.80,79.71 L328.48,79.31 L328.15,78.91 L327.80,78.51 L327.42,78.11 L327.03,77.71 L326.62,77.31 L326.18,76.91 L325.73,76.51 L325.26,76.11 L324.77,75.71 L324.28,75.31 L323.78,74.91 L323.27,74.51 L322.75,74.11 L322.22,73.71 L321.69,73.31 L321.14,72.91 L320.60,72.51 L320.05,72.11 L319.50,71.71 L318.95,71.31 L318.40,70.91 L317.86,70.51 L317.31,70.11 L316.76,69.71 L316.22,69.31 L315.69,68.91 L315.16,68.51 L314.63,68.11 L314.12,67.71 L313.61,67.31 L313.11,66.91 L312.61,66.51 L312.13,66.11 L311.65,65.71 L311.19,65.31 L310.74,64.91 L310.30,64.51 L309.87,64.11 L309.45,63.71 L309.05,63.31 L308.65,62.91 L308.27,62.51 L307.91,62.11 L307.56,61.71 L307.23,61.31 L306.93,60.91 L306.64,60.51 L306.36,60.11 L306.11,59.71 L305.86,59.31 L305.63,58.91 L305.41,58.51 L305.20,58.11 L305.01,57.71 L304.83,57.31 L304.67,56.91 L304.54,56.51 L304.43,56.11 L304.33,55.71 L304.24,55.31 L304.15,54.91 L304.08,54.51 L304.01,54.11 L303.95,53.71 L303.89,53.31 L303.83,52.91 L303.78,52.51 L303.72,52.11 L303.67,51.71 L303.62,51.31 L303.57,50.91 L303.53,50.51 L303.48,50.11 L303.44,49.71 L303.40,49.31 L303.36,48.91 L303.32,48.51 L303.28,48.11 L303.25,47.71 L303.21,47.31 L303.18,46.91 L303.16,46.51 L303.14,46.11 L303.12,45.71Z" fill="#db8134" stroke="#303030" stroke-width="0.72" stroke-linejoin="round"/>
<line x1="302.85" x2="302.85" y1="45.71" y2="50.51" stroke="#222" stroke-width="0.45"/>
<line x1="302.85" x2="302.85" y1="132.51" y2="152.91" stroke="#222" stroke-width="0.45"/>
<line x1="302.75" x2="302.75" y1="58" y2="122" stroke="#222" stroke-width="0.5"/>
<line x1="303.05" x2="303.05" y1="79.0" y2="97.8" stroke="#333" stroke-width="1.9"/>
<rect x="302.05" y="89.00" width="2.0" height="0.6" fill="#fff" opacity="0.8"/>
<rect x="194.75" y="7.0" width="144.40" height="153.40" fill="none" stroke="#000" stroke-width="0.42"/>
<line x1="193.35" x2="194.75" y1="26.1" y2="26.1" stroke="#000" stroke-width="0.42"/>
<text transform="translate(191.40,28.20) scale(0.3425,0.33)" text-anchor="end" font-size="13.89">5.5</text>
<line x1="193.35" x2="194.75" y1="48.4" y2="48.4" stroke="#000" stroke-width="0.42"/>
<text transform="translate(191.40,50.50) scale(0.3425,0.33)" text-anchor="end" font-size="13.89">5.4</text>
<line x1="193.35" x2="194.75" y1="70.9" y2="70.9" stroke="#000" stroke-width="0.42"/>
<text transform="translate(191.40,73.00) scale(0.3425,0.33)" text-anchor="end" font-size="13.89">5.3</text>
<line x1="193.35" x2="194.75" y1="93.25" y2="93.25" stroke="#000" stroke-width="0.42"/>
<text transform="translate(191.40,95.35) scale(0.3425,0.33)" text-anchor="end" font-size="13.89">5.2</text>
<line x1="193.35" x2="194.75" y1="115.5" y2="115.5" stroke="#000" stroke-width="0.42"/>
<text transform="translate(191.40,117.60) scale(0.3425,0.33)" text-anchor="end" font-size="13.89">5.1</text>
<line x1="193.35" x2="194.75" y1="137.9" y2="137.9" stroke="#000" stroke-width="0.42"/>
<text transform="translate(191.40,140.00) scale(0.3425,0.33)" text-anchor="end" font-size="13.89">5.0</text>
<line x1="193.35" x2="194.75" y1="160.2" y2="160.2" stroke="#000" stroke-width="0.42"/>
<text transform="translate(191.40,162.30) scale(0.3425,0.33)" text-anchor="end" font-size="13.89">4.9</text>
<line x1="230.85" x2="230.85" y1="160.4" y2="161.80" stroke="#000" stroke-width="0.42"/>
<text transform="translate(230.85,166.85) scale(0.3425,0.33)" text-anchor="middle" font-size="13.89">SC</text>
<line x1="303.05" x2="303.05" y1="160.4" y2="161.80" stroke="#000" stroke-width="0.42"/>
<text transform="translate(303.05,166.85) scale(0.3425,0.33)" text-anchor="middle" font-size="13.89">IC</text>
<text transform="translate(266.95,172.55) scale(0.3425,0.33)" text-anchor="middle" font-size="13.89">Type</text>
<text transform="translate(266.95,4.70) scale(0.3425,0.33)" text-anchor="middle" font-size="16.67">TTR2</text>
<text transform="translate(180.06,84.40) scale(0.3425,0.2933) rotate(-90)" text-anchor="middle" font-size="13.89">TTR2</text>
<path d="M402.95,13.76 L402.92,14.16 L402.87,14.56 L402.82,14.96 L402.76,15.36 L402.70,15.76 L402.64,16.16 L402.58,16.56 L402.52,16.96 L402.46,17.36 L402.40,17.76 L402.34,18.16 L402.29,18.56 L402.24,18.96 L402.19,19.36 L402.14,19.76 L402.09,20.16 L402.05,20.56 L402.00,20.96 L401.96,21.36 L401.92,21.76 L401.88,22.16 L401.84,22.56 L401.79,22.96 L401.75,23.36 L401.71,23.76 L401.66,24.16 L401.62,24.56 L401.57,24.96 L401.53,25.36 L401.48,25.76 L401.43,26.16 L401.37,26.56 L401.32,26.96 L401.26,27.36 L401.20,27.76 L401.14,28.16 L401.08,28.56 L401.02,28.96 L400.96,29.36 L400.90,29.76 L400.84,30.16 L400.78,30.56 L400.72,30.96 L400.66,31.36 L400.60,31.76 L400.54,32.16 L400.48,32.56 L400.42,32.96 L400.36,33.36 L400.30,33.76 L400.24,34.16 L400.18,34.56 L400.13,34.96 L400.07,35.36 L400.01,35.76 L399.95,36.16 L399.89,36.56 L399.82,36.96 L399.75,37.36 L399.67,37.76 L399.59,38.16 L399.50,38.56 L399.40,38.96 L399.30,39.36 L399.19,39.76 L399.07,40.16 L398.94,40.56 L398.80,40.96 L398.64,41.36 L398.47,41.76 L398.28,42.16 L398.08,42.56 L397.87,42.96 L397.65,43.36 L397.42,43.76 L397.18,44.16 L396.93,44.56 L396.68,44.96 L396.41,45.36 L396.13,45.76 L395.85,46.16 L395.56,46.56 L395.26,46.96 L394.97,47.36 L394.67,47.76 L394.38,48.16 L394.08,48.56 L393.78,48.96 L393.48,49.36 L393.18,49.76 L392.88,50.16 L392.58,50.56 L392.27,50.96 L391.97,51.36 L391.67,51.76 L391.37,52.16 L391.07,52.56 L390.76,52.96 L390.47,53.36 L390.17,53.76 L389.87,54.16 L389.58,54.56 L389.29,54.96 L389.00,55.36 L388.72,55.76 L388.44,56.16 L388.16,56.56 L387.88,56.96 L387.61,57.36 L387.35,57.76 L387.09,58.16 L386.84,58.56 L386.59,58.96 L386.35,59.36 L386.10,59.76 L385.85,60.16 L385.60,60.56 L385.34,60.96 L385.09,61.36 L384.83,61.76 L384.58,62.16 L384.32,62.56 L384.07,62.96 L383.82,63.36 L383.58,63.76 L383.33,64.16 L383.09,64.56 L382.84,64.96 L382.60,65.36 L382.35,65.76 L382.12,66.16 L381.90,66.56 L381.69,66.96 L381.51,67.36 L381.34,67.76 L381.20,68.16 L381.07,68.56 L380.96,68.96 L380.86,69.36 L380.77,69.76 L380.69,70.16 L380.61,70.56 L380.55,70.96 L380.49,71.36 L380.44,71.76 L380.40,72.16 L380.37,72.56 L380.35,72.96 L380.33,73.36 L380.32,73.76 L380.31,74.16 L380.32,74.56 L380.34,74.96 L380.37,75.36 L380.41,75.76 L380.47,76.16 L380.53,76.56 L380.62,76.96 L380.73,77.36 L380.86,77.76 L381.00,78.16 L381.16,78.56 L381.33,78.96 L381.51,79.36 L381.70,79.76 L381.89,80.16 L382.09,80.56 L382.29,80.96 L382.50,81.36 L382.72,81.76 L382.96,82.16 L383.20,82.56 L383.46,82.96 L383.74,83.36 L384.03,83.76 L384.35,84.16 L384.69,84.56 L385.06,84.96 L385.42,85.36 L385.78,85.76 L386.10,86.16 L386.40,86.56 L386.67,86.96 L386.94,87.36 L387.23,87.76 L387.55,88.16 L387.91,88.56 L388.30,88.96 L388.71,89.36 L389.11,89.76 L389.48,90.16 L389.82,90.56 L390.13,90.96 L390.42,91.36 L390.69,91.76 L390.95,92.16 L391.21,92.56 L391.46,92.96 L391.71,93.36 L391.97,93.76 L392.24,94.16 L392.51,94.56 L392.79,94.96 L393.08,95.36 L393.36,95.76 L393.65,96.16 L393.94,96.56 L394.22,96.96 L394.50,97.36 L394.78,97.76 L395.04,98.16 L395.30,98.56 L395.56,98.96 L395.81,99.36 L396.05,99.76 L396.29,100.16 L396.53,100.56 L396.76,100.96 L396.99,101.36 L397.21,101.76 L397.43,102.16 L397.65,102.56 L397.87,102.96 L398.09,103.36 L398.31,103.76 L398.52,104.16 L398.72,104.56 L398.92,104.96 L399.11,105.36 L399.30,105.76 L399.47,106.16 L399.64,106.56 L399.79,106.96 L399.94,107.36 L400.08,107.76 L400.22,108.16 L400.35,108.56 L400.48,108.96 L400.60,109.36 L400.73,109.76 L400.86,110.16 L400.98,110.56 L401.11,110.96 L401.24,111.36 L401.36,111.76 L401.47,112.16 L401.56,112.56 L401.65,112.96 L401.72,113.36 L401.79,113.76 L401.85,114.16 L401.90,114.56 L401.95,114.96 L401.99,115.36 L402.03,115.76 L402.07,116.16 L402.11,116.56 L402.14,116.96 L402.18,117.36 L402.21,117.76 L402.24,118.16 L402.27,118.56 L402.30,118.96 L402.32,119.36 L402.35,119.76 L402.38,120.16 L402.41,120.56 L402.43,120.96 L402.46,121.36 L402.49,121.76 L402.52,122.16 L402.55,122.56 L402.58,122.96 L402.61,123.36 L402.64,123.76 L402.67,124.16 L402.70,124.56 L402.74,124.96 L402.77,125.36 L402.81,125.76 L402.84,126.16 L402.88,126.56 L402.91,126.96 L402.93,127.36 L403.17,127.36 L403.19,126.96 L403.22,126.56 L403.26,126.16 L403.29,125.76 L403.33,125.36 L403.36,124.96 L403.40,124.56 L403.43,124.16 L403.46,123.76 L403.49,123.36 L403.52,122.96 L403.55,122.56 L403.58,122.16 L403.61,121.76 L403.64,121.36 L403.67,120.96 L403.69,120.56 L403.72,120.16 L403.75,119.76 L403.78,119.36 L403.80,118.96 L403.83,118.56 L403.86,118.16 L403.89,117.76 L403.92,117.36 L403.96,116.96 L403.99,116.56 L404.03,116.16 L404.07,115.76 L404.11,115.36 L404.15,114.96 L404.20,114.56 L404.25,114.16 L404.31,113.76 L404.38,113.36 L404.45,112.96 L404.54,112.56 L404.63,112.16 L404.74,111.76 L404.86,111.36 L404.99,110.96 L405.12,110.56 L405.24,110.16 L405.37,109.76 L405.50,109.36 L405.62,108.96 L405.75,108.56 L405.88,108.16 L406.02,107.76 L406.16,107.36 L406.31,106.96 L406.46,106.56 L406.63,106.16 L406.80,105.76 L406.99,105.36 L407.18,104.96 L407.38,104.56 L407.58,104.16 L407.79,103.76 L408.01,103.36 L408.23,102.96 L408.45,102.56 L408.67,102.16 L408.89,101.76 L409.11,101.36 L409.34,100.96 L409.57,100.56 L409.81,100.16 L410.05,99.76 L410.29,99.36 L410.54,98.96 L410.80,98.56 L411.06,98.16 L411.32,97.76 L411.60,97.36 L411.88,96.96 L412.16,96.56 L412.45,96.16 L412.74,95.76 L413.02,95.36 L413.31,94.96 L413.59,94.56 L413.86,94.16 L414.13,93.76 L414.39,93.36 L414.64,92.96 L414.89,92.56 L415.15,92.16 L415.41,91.76 L415.68,91.36 L415.97,90.96 L416.28,90.56 L416.62,90.16 L416.99,89.76 L417.39,89.36 L417.80,88.96 L418.19,88.56 L418.55,88.16 L418.87,87.76 L419.16,87.36 L419.43,86.96 L419.70,86.56 L420.00,86.16 L420.32,85.76 L420.68,85.36 L421.04,84.96 L421.41,84.56 L421.75,84.16 L422.07,83.76 L422.36,83.36 L422.64,82.96 L422.90,82.56 L423.14,82.16 L423.38,81.76 L423.60,81.36 L423.81,80.96 L424.01,80.56 L424.21,80.16 L424.40,79.76 L424.59,79.36 L424.77,78.96 L424.94,78.56 L425.10,78.16 L425.24,77.76 L425.37,77.36 L425.48,76.96 L425.57,76.56 L425.63,76.16 L425.69,75.76 L425.73,75.36 L425.76,74.96 L425.78,74.56 L425.79,74.16 L425.78,73.76 L425.77,73.36 L425.75,72.96 L425.73,72.56 L425.70,72.16 L425.66,71.76 L425.61,71.36 L425.55,70.96 L425.49,70.56 L425.41,70.16 L425.33,69.76 L425.24,69.36 L425.14,68.96 L425.03,68.56 L424.90,68.16 L424.76,67.76 L424.59,67.36 L424.41,66.96 L424.20,66.56 L423.98,66.16 L423.75,65.76 L423.50,65.36 L423.26,64.96 L423.01,64.56 L422.77,64.16 L422.52,63.76 L422.28,63.36 L422.03,62.96 L421.78,62.56 L421.52,62.16 L421.27,61.76 L421.01,61.36 L420.76,60.96 L420.50,60.56 L420.25,60.16 L420.00,59.76 L419.75,59.36 L419.51,58.96 L419.26,58.56 L419.01,58.16 L418.75,57.76 L418.49,57.36 L418.22,56.96 L417.94,56.56 L417.66,56.16 L417.38,55.76 L417.10,55.36 L416.81,54.96 L416.52,54.56 L416.23,54.16 L415.93,53.76 L415.63,53.36 L415.34,52.96 L415.03,52.56 L414.73,52.16 L414.43,51.76 L414.13,51.36 L413.83,50.96 L413.52,50.56 L413.22,50.16 L412.92,49.76 L412.62,49.36 L412.32,48.96 L412.02,48.56 L411.72,48.16 L411.43,47.76 L411.13,47.36 L410.84,46.96 L410.54,46.56 L410.25,46.16 L409.97,45.76 L409.69,45.36 L409.42,44.96 L409.17,44.56 L408.92,44.16 L408.68,43.76 L408.45,43.36 L408.23,42.96 L408.02,42.56 L407.82,42.16 L407.63,41.76 L407.46,41.36 L407.30,40.96 L407.16,40.56 L407.03,40.16 L406.91,39.76 L406.80,39.36 L406.70,38.96 L406.60,38.56 L406.51,38.16 L406.43,37.76 L406.35,37.36 L406.28,36.96 L406.21,36.56 L406.15,36.16 L406.09,35.76 L406.03,35.36 L405.97,34.96 L405.92,34.56 L405.86,34.16 L405.80,33.76 L405.74,33.36 L405.68,32.96 L405.62,32.56 L405.56,32.16 L405.50,31.76 L405.44,31.36 L405.38,30.96 L405.32,30.56 L405.26,30.16 L405.20,29.76 L405.14,29.36 L405.08,28.96 L405.02,28.56 L404.96,28.16 L404.90,27.76 L404.84,27.36 L404.78,26.96 L404.73,26.56 L404.67,26.16 L404.62,25.76 L404.57,25.36 L404.53,24.96 L404.48,24.56 L404.44,24.16 L404.39,23.76 L404.35,23.36 L404.31,22.96 L404.26,22.56 L404.22,22.16 L404.18,21.76 L404.14,21.36 L404.10,20.96 L404.05,20.56 L404.01,20.16 L403.96,19.76 L403.91,19.36 L403.86,18.96 L403.81,18.56 L403.76,18.16 L403.70,17.76 L403.64,17.36 L403.58,16.96 L403.52,16.56 L403.46,16.16 L403.40,15.76 L403.34,15.36 L403.28,14.96 L403.23,14.56 L403.18,14.16 L403.15,13.76Z" fill="#457ca3" stroke="#303030" stroke-width="0.72" stroke-linejoin="round"/>
<line x1="402.85" x2="402.85" y1="13.76" y2="16.56" stroke="#222" stroke-width="0.45"/>
<line x1="402.85" x2="402.85" y1="122.96" y2="127.36" stroke="#222" stroke-width="0.45"/>
<line x1="402.75" x2="402.75" y1="30.5" y2="112" stroke="#222" stroke-width="0.5"/>
<line x1="403.05" x2="403.05" y1="62.6" y2="85.0" stroke="#333" stroke-width="1.9"/>
<rect x="402.05" y="74.00" width="2.0" height="0.6" fill="#fff" opacity="0.8"/>
<path d="M475.19,40.56 L475.18,40.96 L475.17,41.36 L475.16,41.76 L475.15,42.16 L475.13,42.56 L475.11,42.96 L475.09,43.36 L475.07,43.76 L475.05,44.16 L475.03,44.56 L475.01,44.96 L474.98,45.36 L474.96,45.76 L474.93,46.16 L474.90,46.56 L474.88,46.96 L474.85,47.36 L474.81,47.76 L474.78,48.16 L474.74,48.56 L474.71,48.96 L474.67,49.36 L474.62,49.76 L474.58,50.16 L474.54,50.56 L474.49,50.96 L474.45,51.36 L474.40,51.76 L474.35,52.16 L474.30,52.56 L474.24,52.96 L474.18,53.36 L474.13,53.76 L474.06,54.16 L474.00,54.56 L473.93,54.96 L473.86,55.36 L473.78,55.76 L473.70,56.16 L473.60,56.56 L473.49,56.96 L473.36,57.36 L473.23,57.76 L473.09,58.16 L472.95,58.56 L472.80,58.96 L472.63,59.36 L472.47,59.76 L472.29,60.16 L472.11,60.56 L471.92,60.96 L471.72,61.36 L471.52,61.76 L471.31,62.16 L471.09,62.56 L470.87,62.96 L470.64,63.36 L470.40,63.76 L470.15,64.16 L469.90,64.56 L469.63,64.96 L469.36,65.36 L469.08,65.76 L468.79,66.16 L468.49,66.56 L468.18,66.96 L467.86,67.36 L467.52,67.76 L467.17,68.16 L466.80,68.56 L466.42,68.96 L466.02,69.36 L465.59,69.76 L465.15,70.16 L464.70,70.56 L464.22,70.96 L463.73,71.36 L463.22,71.76 L462.70,72.16 L462.16,72.56 L461.61,72.96 L461.03,73.36 L460.44,73.76 L459.83,74.16 L459.21,74.56 L458.58,74.96 L457.92,75.36 L457.25,75.76 L456.56,76.16 L455.86,76.56 L455.14,76.96 L454.42,77.36 L453.71,77.76 L453.03,78.16 L452.37,78.56 L451.76,78.96 L451.18,79.36 L450.64,79.76 L450.13,80.16 L449.65,80.56 L449.21,80.96 L448.81,81.36 L448.43,81.76 L448.09,82.16 L447.78,82.56 L447.50,82.96 L447.26,83.36 L447.07,83.76 L446.92,84.16 L446.80,84.56 L446.72,84.96 L446.65,85.36 L446.60,85.76 L446.57,86.16 L446.56,86.56 L446.56,86.96 L446.58,87.36 L446.62,87.76 L446.68,88.16 L446.75,88.56 L446.82,88.96 L446.92,89.36 L447.03,89.76 L447.16,90.16 L447.30,90.56 L447.46,90.96 L447.63,91.36 L447.81,91.76 L448.00,92.16 L448.19,92.56 L448.38,92.96 L448.58,93.36 L448.78,93.76 L448.99,94.16 L449.20,94.56 L449.40,94.96 L449.60,95.36 L449.79,95.76 L449.97,96.16 L450.14,96.56 L450.29,96.96 L450.44,97.36 L450.59,97.76 L450.75,98.16 L450.93,98.56 L451.12,98.96 L451.35,99.36 L451.61,99.76 L451.92,100.16 L452.27,100.56 L452.65,100.96 L453.06,101.36 L453.50,101.76 L453.95,102.16 L454.42,102.56 L454.90,102.96 L455.39,103.36 L455.90,103.76 L456.43,104.16 L456.97,104.56 L457.52,104.96 L458.08,105.36 L458.64,105.76 L459.21,106.16 L459.79,106.56 L460.37,106.96 L460.96,107.36 L461.54,107.76 L462.13,108.16 L462.71,108.56 L463.28,108.96 L463.84,109.36 L464.38,109.76 L464.91,110.16 L465.42,110.56 L465.92,110.96 L466.41,111.36 L466.89,111.76 L467.35,112.16 L467.79,112.56 L468.22,112.96 L468.64,113.36 L469.04,113.76 L469.43,114.16 L469.81,114.56 L470.17,114.96 L470.52,115.36 L470.86,115.76 L471.17,116.16 L471.48,116.56 L471.78,116.96 L472.06,117.36 L472.33,117.76 L472.59,118.16 L472.83,118.56 L473.04,118.96 L473.23,119.36 L473.40,119.76 L473.53,120.16 L473.64,120.56 L473.72,120.96 L473.79,121.36 L473.85,121.76 L473.91,122.16 L473.95,122.56 L474.00,122.96 L474.04,123.36 L474.07,123.76 L474.10,124.16 L474.13,124.56 L474.16,124.96 L474.19,125.36 L474.22,125.76 L474.24,126.16 L474.27,126.56 L474.30,126.96 L474.34,127.36 L474.37,127.76 L474.40,128.16 L474.44,128.56 L474.47,128.96 L474.50,129.36 L474.54,129.76 L474.56,130.16 L474.59,130.56 L474.62,130.96 L474.64,131.36 L474.67,131.76 L474.69,132.16 L474.72,132.56 L474.74,132.96 L474.76,133.36 L474.78,133.76 L474.80,134.16 L474.82,134.56 L474.83,134.96 L474.85,135.36 L474.87,135.76 L474.88,136.16 L474.89,136.56 L474.91,136.96 L474.92,137.36 L474.93,137.76 L474.94,138.16 L474.95,138.56 L474.96,138.96 L474.97,139.36 L474.98,139.76 L474.99,140.16 L475.01,140.56 L475.02,140.96 L475.03,141.36 L475.04,141.76 L475.05,142.16 L475.05,142.56 L475.06,142.96 L475.07,143.36 L475.08,143.76 L475.09,144.16 L475.10,144.56 L475.11,144.96 L475.12,145.36 L475.12,145.76 L475.13,146.16 L475.14,146.56 L475.14,146.96 L475.15,147.36 L475.16,147.76 L475.16,148.16 L475.17,148.56 L475.17,148.96 L475.18,149.36 L475.18,149.76 L475.18,150.16 L475.19,150.56 L475.19,150.96 L475.19,151.36 L475.19,151.76 L475.20,152.16 L475.20,152.56 L475.20,152.96 L475.30,152.96 L475.30,152.56 L475.30,152.16 L475.31,151.76 L475.31,151.36 L475.31,150.96 L475.31,150.56 L475.32,150.16 L475.32,149.76 L475.32,149.36 L475.33,148.96 L475.33,148.56 L475.34,148.16 L475.34,147.76 L475.35,147.36 L475.36,146.96 L475.36,146.56 L475.37,146.16 L475.38,145.76 L475.38,145.36 L475.39,144.96 L475.40,144.56 L475.41,144.16 L475.42,143.76 L475.43,143.36 L475.44,142.96 L475.45,142.56 L475.45,142.16 L475.46,141.76 L475.47,141.36 L475.48,140.96 L475.49,140.56 L475.51,140.16 L475.52,139.76 L475.53,139.36 L475.54,138.96 L475.55,138.56 L475.56,138.16 L475.57,137.76 L475.58,137.36 L475.59,136.96 L475.61,136.56 L475.62,136.16 L475.63,135.76 L475.65,135.36 L475.67,134.96 L475.68,134.56 L475.70,134.16 L475.72,133.76 L475.74,133.36 L475.76,132.96 L475.78,132.56 L475.81,132.16 L475.83,131.76 L475.86,131.36 L475.88,130.96 L475.91,130.56 L475.94,130.16 L475.96,129.76 L476.00,129.36 L476.03,128.96 L476.06,128.56 L476.10,128.16 L476.13,127.76 L476.16,127.36 L476.20,126.96 L476.23,126.56 L476.26,126.16 L476.28,125.76 L476.31,125.36 L476.34,124.96 L476.37,124.56 L476.40,124.16 L476.43,123.76 L476.46,123.36 L476.50,122.96 L476.55,122.56 L476.59,122.16 L476.65,121.76 L476.71,121.36 L476.78,120.96 L476.86,120.56 L476.97,120.16 L477.10,119.76 L477.27,119.36 L477.46,118.96 L477.67,118.56 L477.91,118.16 L478.17,117.76 L478.44,117.36 L478.72,116.96 L479.02,116.56 L479.33,116.16 L479.64,115.76 L479.98,115.36 L480.33,114.96 L480.69,114.56 L481.07,114.16 L481.46,113.76 L481.86,113.36 L482.28,112.96 L482.71,112.56 L483.15,112.16 L483.61,111.76 L484.09,111.36 L484.58,110.96 L485.08,110.56 L485.59,110.16 L486.12,109.76 L486.66,109.36 L487.22,108.96 L487.79,108.56 L488.37,108.16 L488.96,107.76 L489.54,107.36 L490.13,106.96 L490.71,106.56 L491.29,106.16 L491.86,105.76 L492.42,105.36 L492.98,104.96 L493.53,104.56 L494.07,104.16 L494.60,103.76 L495.11,103.36 L495.60,102.96 L496.08,102.56 L496.55,102.16 L497.00,101.76 L497.44,101.36 L497.85,100.96 L498.23,100.56 L498.58,100.16 L498.89,99.76 L499.15,99.36 L499.38,98.96 L499.57,98.56 L499.75,98.16 L499.91,97.76 L500.06,97.36 L500.21,96.96 L500.36,96.56 L500.53,96.16 L500.71,95.76 L500.90,95.36 L501.10,94.96 L501.30,94.56 L501.51,94.16 L501.72,93.76 L501.92,93.36 L502.12,92.96 L502.31,92.56 L502.50,92.16 L502.69,91.76 L502.87,91.36 L503.04,90.96 L503.20,90.56 L503.34,90.16 L503.47,89.76 L503.58,89.36 L503.68,88.96 L503.75,88.56 L503.82,88.16 L503.88,87.76 L503.92,87.36 L503.94,86.96 L503.94,86.56 L503.93,86.16 L503.90,85.76 L503.85,85.36 L503.78,84.96 L503.70,84.56 L503.58,84.16 L503.43,83.76 L503.24,83.36 L503.00,82.96 L502.72,82.56 L502.41,82.16 L502.07,81.76 L501.69,81.36 L501.29,80.96 L500.85,80.56 L500.37,80.16 L499.86,79.76 L499.32,79.36 L498.74,78.96 L498.13,78.56 L497.47,78.16 L496.79,77.76 L496.08,77.36 L495.36,76.96 L494.64,76.56 L493.94,76.16 L493.25,75.76 L492.58,75.36 L491.92,74.96 L491.29,74.56 L490.67,74.16 L490.06,73.76 L489.47,73.36 L488.89,72.96 L488.34,72.56 L487.80,72.16 L487.28,71.76 L486.77,71.36 L486.28,70.96 L485.80,70.56 L485.35,70.16 L484.91,69.76 L484.48,69.36 L484.08,68.96 L483.70,68.56 L483.33,68.16 L482.98,67.76 L482.64,67.36 L482.32,66.96 L482.01,66.56 L481.71,66.16 L481.42,65.76 L481.14,65.36 L480.87,64.96 L480.60,64.56 L480.35,64.16 L480.10,63.76 L479.86,63.36 L479.63,62.96 L479.41,62.56 L479.19,62.16 L478.98,61.76 L478.78,61.36 L478.58,60.96 L478.39,60.56 L478.21,60.16 L478.03,59.76 L477.87,59.36 L477.70,58.96 L477.55,58.56 L477.41,58.16 L477.27,57.76 L477.14,57.36 L477.01,56.96 L476.90,56.56 L476.80,56.16 L476.72,55.76 L476.64,55.36 L476.57,54.96 L476.50,54.56 L476.44,54.16 L476.37,53.76 L476.32,53.36 L476.26,52.96 L476.20,52.56 L476.15,52.16 L476.10,51.76 L476.05,51.36 L476.01,50.96 L475.96,50.56 L475.92,50.16 L475.88,49.76 L475.83,49.36 L475.79,48.96 L475.76,48.56 L475.72,48.16 L475.69,47.76 L475.65,47.36 L475.62,46.96 L475.60,46.56 L475.57,46.16 L475.54,45.76 L475.52,45.36 L475.49,44.96 L475.47,44.56 L475.45,44.16 L475.43,43.76 L475.41,43.36 L475.39,42.96 L475.37,42.56 L475.35,42.16 L475.34,41.76 L475.33,41.36 L475.32,40.96 L475.31,40.56Z" fill="#db8134" stroke="#303030" stroke-width="0.72" stroke-linejoin="round"/>
<line x1="475.05" x2="475.05" y1="40.56" y2="48.16" stroke="#222" stroke-width="0.45"/>
<line x1="475.05" x2="475.05" y1="134.16" y2="152.96" stroke="#222" stroke-width="0.45"/>
<line x1="474.95" x2="474.95" y1="60" y2="121.6" stroke="#222" stroke-width="0.5"/>
<line x1="475.25" x2="475.25" y1="82.1" y2="100.8" stroke="#333" stroke-width="1.9"/>
<rect x="474.25" y="89.80" width="2.0" height="0.6" fill="#fff" opacity="0.8"/>
<rect x="366.95" y="7.0" width="144.40" height="153.40" fill="none" stroke="#000" stroke-width="0.42"/>
<line x1="365.55" x2="366.95" y1="28.1" y2="28.1" stroke="#000" stroke-width="0.42"/>
<text transform="translate(363.60,30.20) scale(0.3425,0.33)" text-anchor="end" font-size="13.89">2.4</text>
<line x1="365.55" x2="366.95" y1="51.7" y2="51.7" stroke="#000" stroke-width="0.42"/>
<text transform="translate(363.60,53.80) scale(0.3425,0.33)" text-anchor="end" font-size="13.89">2.2</text>
<line x1="365.55" x2="366.95" y1="75.5" y2="75.5" stroke="#000" stroke-width="0.42"/>
<text transform="translate(363.60,77.60) scale(0.3425,0.33)" text-anchor="end" font-size="13.89">2.0</text>
<line x1="365.55" x2="366.95" y1="99.0" y2="99.0" stroke="#000" stroke-width="0.42"/>
<text transform="translate(363.60,101.10) scale(0.3425,0.33)" text-anchor="end" font-size="13.89">1.8</text>
<line x1="365.55" x2="366.95" y1="122.4" y2="122.4" stroke="#000" stroke-width="0.42"/>
<text transform="translate(363.60,124.50) scale(0.3425,0.33)" text-anchor="end" font-size="13.89">1.6</text>
<line x1="365.55" x2="366.95" y1="145.9" y2="145.9" stroke="#000" stroke-width="0.42"/>
<text transform="translate(363.60,148.00) scale(0.3425,0.33)" text-anchor="end" font-size="13.89">1.4</text>
<line x1="403.05" x2="403.05" y1="160.4" y2="161.80" stroke="#000" stroke-width="0.42"/>
<text transform="translate(403.05,166.85) scale(0.3425,0.33)" text-anchor="middle" font-size="13.89">SC</text>
<line x1="475.25" x2="475.25" y1="160.4" y2="161.80" stroke="#000" stroke-width="0.42"/>
<text transform="translate(475.25,166.85) scale(0.3425,0.33)" text-anchor="middle" font-size="13.89">IC</text>
<text transform="translate(439.15,172.55) scale(0.3425,0.33)" text-anchor="middle" font-size="13.89">Type</text>
<text transform="translate(439.15,4.70) scale(0.3425,0.33)" text-anchor="middle" font-size="16.67">TTR1C</text>
<text transform="translate(352.26,84.40) scale(0.3425,0.2933) rotate(-90)" text-anchor="middle" font-size="13.89">TTR1C</text>
<path d="M575.09,13.76 L575.04,14.16 L574.98,14.56 L574.91,14.96 L574.83,15.36 L574.75,15.76 L574.66,16.16 L574.57,16.56 L574.49,16.96 L574.40,17.36 L574.33,17.76 L574.25,18.16 L574.17,18.56 L574.10,18.96 L574.03,19.36 L573.96,19.76 L573.89,20.16 L573.81,20.56 L573.74,20.96 L573.66,21.36 L573.57,21.76 L573.48,22.16 L573.39,22.56 L573.29,22.96 L573.18,23.36 L573.08,23.76 L572.98,24.16 L572.88,24.56 L572.78,24.96 L572.68,25.36 L572.58,25.76 L572.48,26.16 L572.38,26.56 L572.29,26.96 L572.20,27.36 L572.12,27.76 L572.04,28.16 L571.96,28.56 L571.88,28.96 L571.80,29.36 L571.72,29.76 L571.64,30.16 L571.55,30.56 L571.46,30.96 L571.37,31.36 L571.28,31.76 L571.18,32.16 L571.08,32.56 L570.98,32.96 L570.87,33.36 L570.75,33.76 L570.63,34.16 L570.49,34.56 L570.35,34.96 L570.20,35.36 L570.05,35.76 L569.88,36.16 L569.70,36.56 L569.51,36.96 L569.30,37.36 L569.08,37.76 L568.84,38.16 L568.58,38.56 L568.30,38.96 L568.02,39.36 L567.72,39.76 L567.41,40.16 L567.09,40.56 L566.77,40.96 L566.44,41.36 L566.10,41.76 L565.75,42.16 L565.39,42.56 L565.03,42.96 L564.65,43.36 L564.26,43.76 L563.86,44.16 L563.44,44.56 L563.01,44.96 L562.58,45.36 L562.13,45.76 L561.68,46.16 L561.24,46.56 L560.81,46.96 L560.38,47.36 L559.98,47.76 L559.59,48.16 L559.21,48.56 L558.84,48.96 L558.48,49.36 L558.12,49.76 L557.77,50.16 L557.43,50.56 L557.09,50.96 L556.75,51.36 L556.41,51.76 L556.08,52.16 L555.75,52.56 L555.43,52.96 L555.11,53.36 L554.81,53.76 L554.52,54.16 L554.24,54.56 L553.97,54.96 L553.71,55.36 L553.46,55.76 L553.21,56.16 L552.98,56.56 L552.75,56.96 L552.53,57.36 L552.31,57.76 L552.10,58.16 L551.90,58.56 L551.70,58.96 L551.50,59.36 L551.32,59.76 L551.15,60.16 L550.99,60.56 L550.85,60.96 L550.72,61.36 L550.60,61.76 L550.49,62.16 L550.39,62.56 L550.30,62.96 L550.22,63.36 L550.16,63.76 L550.12,64.16 L550.11,64.56 L550.12,64.96 L550.16,65.36 L550.22,65.76 L550.31,66.16 L550.43,66.56 L550.57,66.96 L550.74,67.36 L550.94,67.76 L551.16,68.16 L551.40,68.56 L551.66,68.96 L551.94,69.36 L552.25,69.76 L552.58,70.16 L552.94,70.56 L553.33,70.96 L553.75,71.36 L554.17,71.76 L554.61,72.16 L555.05,72.56 L555.49,72.96 L555.95,73.36 L556.40,73.76 L556.87,74.16 L557.33,74.56 L557.80,74.96 L558.26,75.36 L558.71,75.76 L559.15,76.16 L559.59,76.56 L560.01,76.96 L560.43,77.36 L560.83,77.76 L561.23,78.16 L561.63,78.56 L562.01,78.96 L562.39,79.36 L562.76,79.76 L563.13,80.16 L563.49,80.56 L563.84,80.96 L564.18,81.36 L564.52,81.76 L564.85,82.16 L565.17,82.56 L565.48,82.96 L565.79,83.36 L566.09,83.76 L566.38,84.16 L566.67,84.56 L566.95,84.96 L567.22,85.36 L567.49,85.76 L567.76,86.16 L568.02,86.56 L568.27,86.96 L568.53,87.36 L568.77,87.76 L569.02,88.16 L569.25,88.56 L569.49,88.96 L569.72,89.36 L569.94,89.76 L570.16,90.16 L570.38,90.56 L570.59,90.96 L570.80,91.36 L571.00,91.76 L571.20,92.16 L571.39,92.56 L571.57,92.96 L571.74,93.36 L571.90,93.76 L572.06,94.16 L572.21,94.56 L572.35,94.96 L572.49,95.36 L572.62,95.76 L572.75,96.16 L572.87,96.56 L572.99,96.96 L573.11,97.36 L573.22,97.76 L573.32,98.16 L573.43,98.56 L573.52,98.96 L573.60,99.36 L573.67,99.76 L573.73,100.16 L573.79,100.56 L573.84,100.96 L573.89,101.36 L573.93,101.76 L573.97,102.16 L574.01,102.56 L574.05,102.96 L574.09,103.36 L574.12,103.76 L574.16,104.16 L574.19,104.56 L574.22,104.96 L574.25,105.36 L574.28,105.76 L574.31,106.16 L574.34,106.56 L574.36,106.96 L574.38,107.36 L574.40,107.76 L574.42,108.16 L574.44,108.56 L574.46,108.96 L574.47,109.36 L574.49,109.76 L574.51,110.16 L574.53,110.56 L574.54,110.96 L574.56,111.36 L574.58,111.76 L574.60,112.16 L574.62,112.56 L574.64,112.96 L574.66,113.36 L574.69,113.76 L574.71,114.16 L574.73,114.56 L574.76,114.96 L574.78,115.36 L574.81,115.76 L574.83,116.16 L574.86,116.56 L574.89,116.96 L574.92,117.36 L574.95,117.76 L574.98,118.16 L575.01,118.56 L575.04,118.96 L575.07,119.36 L575.09,119.76 L575.11,120.16 L575.29,120.16 L575.31,119.76 L575.33,119.36 L575.36,118.96 L575.39,118.56 L575.42,118.16 L575.45,117.76 L575.48,117.36 L575.51,116.96 L575.54,116.56 L575.57,116.16 L575.59,115.76 L575.62,115.36 L575.64,114.96 L575.67,114.56 L575.69,114.16 L575.71,113.76 L575.74,113.36 L575.76,112.96 L575.78,112.56 L575.80,112.16 L575.82,111.76 L575.84,111.36 L575.86,110.96 L575.87,110.56 L575.89,110.16 L575.91,109.76 L575.93,109.36 L575.94,108.96 L575.96,108.56 L575.98,108.16 L576.00,107.76 L576.02,107.36 L576.04,106.96 L576.06,106.56 L576.09,106.16 L576.12,105.76 L576.15,105.36 L576.18,104.96 L576.21,104.56 L576.24,104.16 L576.28,103.76 L576.31,103.36 L576.35,102.96 L576.39,102.56 L576.43,102.16 L576.47,101.76 L576.51,101.36 L576.56,100.96 L576.61,100.56 L576.67,100.16 L576.73,99.76 L576.80,99.36 L576.88,98.96 L576.97,98.56 L577.08,98.16 L577.18,97.76 L577.29,97.36 L577.41,96.96 L577.53,96.56 L577.65,96.16 L577.78,95.76 L577.91,95.36 L578.05,94.96 L578.19,94.56 L578.34,94.16 L578.50,93.76 L578.66,93.36 L578.83,92.96 L579.01,92.56 L579.20,92.16 L579.40,91.76 L579.60,91.36 L579.81,90.96 L580.02,90.56 L580.24,90.16 L580.46,89.76 L580.68,89.36 L580.91,88.96 L581.15,88.56 L581.38,88.16 L581.63,87.76 L581.87,87.36 L582.13,86.96 L582.38,86.56 L582.64,86.16 L582.91,85.76 L583.18,85.36 L583.45,84.96 L583.73,84.56 L584.02,84.16 L584.31,83.76 L584.61,83.36 L584.92,82.96 L585.23,82.56 L585.55,82.16 L585.88,81.76 L586.22,81.36 L586.56,80.96 L586.91,80.56 L587.27,80.16 L587.64,79.76 L588.01,79.36 L588.39,78.96 L588.77,78.56 L589.17,78.16 L589.57,77.76 L589.97,77.36 L590.39,76.96 L590.81,76.56 L591.25,76.16 L591.69,75.76 L592.14,75.36 L592.60,74.96 L593.07,74.56 L593.53,74.16 L594.00,73.76 L594.45,73.36 L594.91,72.96 L595.35,72.56 L595.79,72.16 L596.23,71.76 L596.65,71.36 L597.07,70.96 L597.46,70.56 L597.82,70.16 L598.15,69.76 L598.46,69.36 L598.74,68.96 L599.00,68.56 L599.24,68.16 L599.46,67.76 L599.66,67.36 L599.83,66.96 L599.97,66.56 L600.09,66.16 L600.18,65.76 L600.24,65.36 L600.28,64.96 L600.29,64.56 L600.28,64.16 L600.24,63.76 L600.18,63.36 L600.10,62.96 L600.01,62.56 L599.91,62.16 L599.80,61.76 L599.68,61.36 L599.55,60.96 L599.41,60.56 L599.25,60.16 L599.08,59.76 L598.90,59.36 L598.70,58.96 L598.50,58.56 L598.30,58.16 L598.09,57.76 L597.87,57.36 L597.65,56.96 L597.42,56.56 L597.19,56.16 L596.94,55.76 L596.69,55.36 L596.43,54.96 L596.16,54.56 L595.88,54.16 L595.59,53.76 L595.29,53.36 L594.97,52.96 L594.65,52.56 L594.32,52.16 L593.99,51.76 L593.65,51.36 L593.31,50.96 L592.97,50.56 L592.63,50.16 L592.28,49.76 L591.92,49.36 L591.56,48.96 L591.19,48.56 L590.81,48.16 L590.42,47.76 L590.02,47.36 L589.59,46.96 L589.16,46.56 L588.72,46.16 L588.27,45.76 L587.82,45.36 L587.39,44.96 L586.96,44.56 L586.54,44.16 L586.14,43.76 L585.75,43.36 L585.37,42.96 L585.01,42.56 L584.65,42.16 L584.30,41.76 L583.96,41.36 L583.63,40.96 L583.31,40.56 L582.99,40.16 L582.68,39.76 L582.38,39.36 L582.10,38.96 L581.82,38.56 L581.56,38.16 L581.32,37.76 L581.10,37.36 L580.89,36.96 L580.70,36.56 L580.52,36.16 L580.35,35.76 L580.20,35.36 L580.05,34.96 L579.91,34.56 L579.77,34.16 L579.65,33.76 L579.53,33.36 L579.42,32.96 L579.32,32.56 L579.22,32.16 L579.12,31.76 L579.03,31.36 L578.94,30.96 L578.85,30.56 L578.76,30.16 L578.68,29.76 L578.60,29.36 L578.52,28.96 L578.44,28.56 L578.36,28.16 L578.28,27.76 L578.20,27.36 L578.11,26.96 L578.02,26.56 L577.92,26.16 L577.82,25.76 L577.72,25.36 L577.62,24.96 L577.52,24.56 L577.42,24.16 L577.32,23.76 L577.22,23.36 L577.11,22.96 L577.01,22.56 L576.92,22.16 L576.83,21.76 L576.74,21.36 L576.66,20.96 L576.59,20.56 L576.51,20.16 L576.44,19.76 L576.37,19.36 L576.30,18.96 L576.23,18.56 L576.15,18.16 L576.07,17.76 L576.00,17.36 L575.91,16.96 L575.83,16.56 L575.74,16.16 L575.65,15.76 L575.57,15.36 L575.49,14.96 L575.42,14.56 L575.36,14.16 L575.31,13.76Z" fill="#457ca3" stroke="#303030" stroke-width="0.72" stroke-linejoin="round"/>
<line x1="575.00" x2="575.00" y1="13.76" y2="15.76" stroke="#222" stroke-width="0.45"/>
<line x1="575.00" x2="575.00" y1="114.56" y2="120.16" stroke="#222" stroke-width="0.45"/>
<line x1="574.90" x2="574.90" y1="26.2" y2="104" stroke="#222" stroke-width="0.5"/>
<line x1="575.20" x2="575.20" y1="54.1" y2="75.4" stroke="#333" stroke-width="1.9"/>
<rect x="574.20" y="64.70" width="2.0" height="0.6" fill="#fff" opacity="0.8"/>
<path d="M647.34,36.05 L647.32,36.45 L647.31,36.85 L647.29,37.25 L647.27,37.65 L647.25,38.05 L647.22,38.45 L647.20,38.85 L647.17,39.25 L647.14,39.65 L647.12,40.05 L647.09,40.45 L647.05,40.85 L647.02,41.25 L646.99,41.65 L646.95,42.05 L646.92,42.45 L646.87,42.85 L646.83,43.25 L646.78,43.65 L646.73,44.05 L646.68,44.45 L646.62,44.85 L646.57,45.25 L646.50,45.65 L646.44,46.05 L646.38,46.45 L646.32,46.85 L646.25,47.25 L646.19,47.65 L646.13,48.05 L646.06,48.45 L645.99,48.85 L645.92,49.25 L645.84,49.65 L645.75,50.05 L645.65,50.45 L645.54,50.85 L645.42,51.25 L645.30,51.65 L645.17,52.05 L645.04,52.45 L644.91,52.85 L644.76,53.25 L644.61,53.65 L644.45,54.05 L644.28,54.45 L644.10,54.85 L643.92,55.25 L643.71,55.65 L643.50,56.05 L643.28,56.45 L643.05,56.85 L642.81,57.25 L642.56,57.65 L642.30,58.05 L642.02,58.45 L641.74,58.85 L641.44,59.25 L641.13,59.65 L640.80,60.05 L640.46,60.45 L640.09,60.85 L639.69,61.25 L639.27,61.65 L638.82,62.05 L638.33,62.45 L637.82,62.85 L637.27,63.25 L636.70,63.65 L636.10,64.05 L635.46,64.45 L634.79,64.85 L634.08,65.25 L633.32,65.65 L632.54,66.05 L631.72,66.45 L630.90,66.85 L630.08,67.25 L629.27,67.65 L628.48,68.05 L627.71,68.45 L626.95,68.85 L626.21,69.25 L625.49,69.65 L624.79,70.05 L624.13,70.45 L623.51,70.85 L622.94,71.25 L622.41,71.65 L621.92,72.05 L621.47,72.45 L621.05,72.85 L620.66,73.25 L620.30,73.65 L619.99,74.05 L619.72,74.45 L619.49,74.85 L619.29,75.25 L619.13,75.65 L618.99,76.05 L618.88,76.45 L618.80,76.85 L618.74,77.25 L618.70,77.65 L618.68,78.05 L618.67,78.45 L618.67,78.85 L618.67,79.25 L618.69,79.65 L618.71,80.05 L618.77,80.45 L618.85,80.85 L618.97,81.25 L619.12,81.65 L619.29,82.05 L619.48,82.45 L619.68,82.85 L619.89,83.25 L620.10,83.65 L620.32,84.05 L620.55,84.45 L620.78,84.85 L621.02,85.25 L621.27,85.65 L621.52,86.05 L621.77,86.45 L622.01,86.85 L622.26,87.25 L622.50,87.65 L622.74,88.05 L622.98,88.45 L623.22,88.85 L623.46,89.25 L623.70,89.65 L623.94,90.05 L624.17,90.45 L624.40,90.85 L624.63,91.25 L624.85,91.65 L625.08,92.05 L625.32,92.45 L625.57,92.85 L625.85,93.25 L626.15,93.65 L626.49,94.05 L626.87,94.45 L627.29,94.85 L627.75,95.25 L628.25,95.65 L628.77,96.05 L629.30,96.45 L629.85,96.85 L630.39,97.25 L630.94,97.65 L631.49,98.05 L632.05,98.45 L632.61,98.85 L633.17,99.25 L633.74,99.65 L634.30,100.05 L634.87,100.45 L635.43,100.85 L635.99,101.25 L636.55,101.65 L637.11,102.05 L637.66,102.45 L638.20,102.85 L638.73,103.25 L639.25,103.65 L639.74,104.05 L640.21,104.45 L640.67,104.85 L641.11,105.25 L641.54,105.65 L641.95,106.05 L642.34,106.45 L642.71,106.85 L643.06,107.25 L643.38,107.65 L643.69,108.05 L643.98,108.45 L644.25,108.85 L644.51,109.25 L644.75,109.65 L644.97,110.05 L645.17,110.45 L645.35,110.85 L645.51,111.25 L645.65,111.65 L645.76,112.05 L645.86,112.45 L645.94,112.85 L646.01,113.25 L646.07,113.65 L646.13,114.05 L646.17,114.45 L646.21,114.85 L646.25,115.25 L646.29,115.65 L646.32,116.05 L646.34,116.45 L646.37,116.85 L646.39,117.25 L646.42,117.65 L646.44,118.05 L646.46,118.45 L646.47,118.85 L646.49,119.25 L646.51,119.65 L646.52,120.05 L646.54,120.45 L646.55,120.85 L646.57,121.25 L646.58,121.65 L646.60,122.05 L646.62,122.45 L646.63,122.85 L646.65,123.25 L646.67,123.65 L646.69,124.05 L646.71,124.45 L646.73,124.85 L646.75,125.25 L646.77,125.65 L646.79,126.05 L646.81,126.45 L646.83,126.85 L646.85,127.25 L646.86,127.65 L646.88,128.05 L646.90,128.45 L646.91,128.85 L646.92,129.25 L646.93,129.65 L646.95,130.05 L646.96,130.45 L646.97,130.85 L646.98,131.25 L646.99,131.65 L647.00,132.05 L647.01,132.45 L647.01,132.85 L647.02,133.25 L647.03,133.65 L647.04,134.05 L647.05,134.45 L647.06,134.85 L647.06,135.25 L647.07,135.65 L647.08,136.05 L647.09,136.45 L647.10,136.85 L647.10,137.25 L647.11,137.65 L647.12,138.05 L647.13,138.45 L647.13,138.85 L647.14,139.25 L647.15,139.65 L647.16,140.05 L647.16,140.45 L647.17,140.85 L647.18,141.25 L647.19,141.65 L647.19,142.05 L647.20,142.45 L647.21,142.85 L647.21,143.25 L647.22,143.65 L647.23,144.05 L647.23,144.45 L647.24,144.85 L647.25,145.25 L647.25,145.65 L647.26,146.05 L647.26,146.45 L647.27,146.85 L647.28,147.25 L647.28,147.65 L647.29,148.05 L647.29,148.45 L647.30,148.85 L647.30,149.25 L647.31,149.65 L647.31,150.05 L647.32,150.45 L647.32,150.85 L647.33,151.25 L647.33,151.65 L647.33,152.05 L647.34,152.45 L647.34,152.85 L647.34,153.25 L647.46,153.25 L647.46,152.85 L647.46,152.45 L647.47,152.05 L647.47,151.65 L647.47,151.25 L647.48,150.85 L647.48,150.45 L647.49,150.05 L647.49,149.65 L647.50,149.25 L647.50,148.85 L647.51,148.45 L647.51,148.05 L647.52,147.65 L647.52,147.25 L647.53,146.85 L647.54,146.45 L647.54,146.05 L647.55,145.65 L647.55,145.25 L647.56,144.85 L647.57,144.45 L647.57,144.05 L647.58,143.65 L647.59,143.25 L647.59,142.85 L647.60,142.45 L647.61,142.05 L647.61,141.65 L647.62,141.25 L647.63,140.85 L647.64,140.45 L647.64,140.05 L647.65,139.65 L647.66,139.25 L647.67,138.85 L647.67,138.45 L647.68,138.05 L647.69,137.65 L647.70,137.25 L647.70,136.85 L647.71,136.45 L647.72,136.05 L647.73,135.65 L647.74,135.25 L647.74,134.85 L647.75,134.45 L647.76,134.05 L647.77,133.65 L647.78,133.25 L647.79,132.85 L647.79,132.45 L647.80,132.05 L647.81,131.65 L647.82,131.25 L647.83,130.85 L647.84,130.45 L647.85,130.05 L647.87,129.65 L647.88,129.25 L647.89,128.85 L647.90,128.45 L647.92,128.05 L647.94,127.65 L647.95,127.25 L647.97,126.85 L647.99,126.45 L648.01,126.05 L648.03,125.65 L648.05,125.25 L648.07,124.85 L648.09,124.45 L648.11,124.05 L648.13,123.65 L648.15,123.25 L648.17,122.85 L648.18,122.45 L648.20,122.05 L648.22,121.65 L648.23,121.25 L648.25,120.85 L648.26,120.45 L648.28,120.05 L648.29,119.65 L648.31,119.25 L648.33,118.85 L648.34,118.45 L648.36,118.05 L648.38,117.65 L648.41,117.25 L648.43,116.85 L648.46,116.45 L648.48,116.05 L648.51,115.65 L648.55,115.25 L648.59,114.85 L648.63,114.45 L648.67,114.05 L648.73,113.65 L648.79,113.25 L648.86,112.85 L648.94,112.45 L649.04,112.05 L649.15,111.65 L649.29,111.25 L649.45,110.85 L649.63,110.45 L649.83,110.05 L650.05,109.65 L650.29,109.25 L650.55,108.85 L650.82,108.45 L651.11,108.05 L651.42,107.65 L651.74,107.25 L652.09,106.85 L652.46,106.45 L652.85,106.05 L653.26,105.65 L653.69,105.25 L654.13,104.85 L654.59,104.45 L655.06,104.05 L655.55,103.65 L656.07,103.25 L656.60,102.85 L657.14,102.45 L657.69,102.05 L658.25,101.65 L658.81,101.25 L659.37,100.85 L659.93,100.45 L660.50,100.05 L661.06,99.65 L661.63,99.25 L662.19,98.85 L662.75,98.45 L663.31,98.05 L663.86,97.65 L664.41,97.25 L664.95,96.85 L665.50,96.45 L666.03,96.05 L666.55,95.65 L667.05,95.25 L667.51,94.85 L667.93,94.45 L668.31,94.05 L668.65,93.65 L668.95,93.25 L669.23,92.85 L669.48,92.45 L669.72,92.05 L669.95,91.65 L670.17,91.25 L670.40,90.85 L670.63,90.45 L670.86,90.05 L671.10,89.65 L671.34,89.25 L671.58,88.85 L671.82,88.45 L672.06,88.05 L672.30,87.65 L672.54,87.25 L672.79,86.85 L673.03,86.45 L673.28,86.05 L673.53,85.65 L673.78,85.25 L674.02,84.85 L674.25,84.45 L674.48,84.05 L674.70,83.65 L674.91,83.25 L675.12,82.85 L675.32,82.45 L675.51,82.05 L675.68,81.65 L675.83,81.25 L675.95,80.85 L676.03,80.45 L676.09,80.05 L676.11,79.65 L676.13,79.25 L676.13,78.85 L676.13,78.45 L676.12,78.05 L676.10,77.65 L676.06,77.25 L676.00,76.85 L675.92,76.45 L675.81,76.05 L675.67,75.65 L675.51,75.25 L675.31,74.85 L675.08,74.45 L674.81,74.05 L674.50,73.65 L674.14,73.25 L673.75,72.85 L673.33,72.45 L672.88,72.05 L672.39,71.65 L671.86,71.25 L671.29,70.85 L670.67,70.45 L670.01,70.05 L669.31,69.65 L668.59,69.25 L667.85,68.85 L667.09,68.45 L666.32,68.05 L665.53,67.65 L664.72,67.25 L663.90,66.85 L663.08,66.45 L662.26,66.05 L661.48,65.65 L660.72,65.25 L660.01,64.85 L659.34,64.45 L658.70,64.05 L658.10,63.65 L657.53,63.25 L656.98,62.85 L656.47,62.45 L655.98,62.05 L655.53,61.65 L655.11,61.25 L654.71,60.85 L654.34,60.45 L654.00,60.05 L653.67,59.65 L653.36,59.25 L653.06,58.85 L652.78,58.45 L652.50,58.05 L652.24,57.65 L651.99,57.25 L651.75,56.85 L651.52,56.45 L651.30,56.05 L651.09,55.65 L650.88,55.25 L650.70,54.85 L650.52,54.45 L650.35,54.05 L650.19,53.65 L650.04,53.25 L649.89,52.85 L649.76,52.45 L649.63,52.05 L649.50,51.65 L649.38,51.25 L649.26,50.85 L649.15,50.45 L649.05,50.05 L648.96,49.65 L648.88,49.25 L648.81,48.85 L648.74,48.45 L648.67,48.05 L648.61,47.65 L648.55,47.25 L648.48,46.85 L648.42,46.45 L648.36,46.05 L648.30,45.65 L648.23,45.25 L648.18,44.85 L648.12,44.45 L648.07,44.05 L648.02,43.65 L647.97,43.25 L647.93,42.85 L647.88,42.45 L647.85,42.05 L647.81,41.65 L647.78,41.25 L647.75,40.85 L647.71,40.45 L647.68,40.05 L647.66,39.65 L647.63,39.25 L647.60,38.85 L647.58,38.45 L647.55,38.05 L647.53,37.65 L647.51,37.25 L647.49,36.85 L647.48,36.45 L647.46,36.05Z" fill="#db8134" stroke="#303030" stroke-width="0.72" stroke-linejoin="round"/>
<line x1="647.20" x2="647.20" y1="36.05" y2="42.45" stroke="#222" stroke-width="0.45"/>
<line x1="647.20" x2="647.20" y1="130.05" y2="153.25" stroke="#222" stroke-width="0.45"/>
<line x1="647.10" x2="647.10" y1="52" y2="118" stroke="#222" stroke-width="0.5"/>
<line x1="647.40" x2="647.40" y1="72.9" y2="93.2" stroke="#333" stroke-width="1.9"/>
<rect x="646.40" y="82.00" width="2.0" height="0.6" fill="#fff" opacity="0.8"/>
<rect x="539.1" y="7.0" width="144.40" height="153.40" fill="none" stroke="#000" stroke-width="0.42"/>
<line x1="537.70" x2="539.1" y1="29.5" y2="29.5" stroke="#000" stroke-width="0.42"/>
<text transform="translate(535.75,31.60) scale(0.3425,0.33)" text-anchor="end" font-size="13.89">5.2</text>
<line x1="537.70" x2="539.1" y1="55.9" y2="55.9" stroke="#000" stroke-width="0.42"/>
<text transform="translate(535.75,58.00) scale(0.3425,0.33)" text-anchor="end" font-size="13.89">5.1</text>
<line x1="537.70" x2="539.1" y1="82.4" y2="82.4" stroke="#000" stroke-width="0.42"/>
<text transform="translate(535.75,84.50) scale(0.3425,0.33)" text-anchor="end" font-size="13.89">5.0</text>
<line x1="537.70" x2="539.1" y1="109.0" y2="109.0" stroke="#000" stroke-width="0.42"/>
<text transform="translate(535.75,111.10) scale(0.3425,0.33)" text-anchor="end" font-size="13.89">4.9</text>
<line x1="537.70" x2="539.1" y1="135.3" y2="135.3" stroke="#000" stroke-width="0.42"/>
<text transform="translate(535.75,137.40) scale(0.3425,0.33)" text-anchor="end" font-size="13.89">4.8</text>
<line x1="575.20" x2="575.20" y1="160.4" y2="161.80" stroke="#000" stroke-width="0.42"/>
<text transform="translate(575.20,166.85) scale(0.3425,0.33)" text-anchor="middle" font-size="13.89">SC</text>
<line x1="647.40" x2="647.40" y1="160.4" y2="161.80" stroke="#000" stroke-width="0.42"/>
<text transform="translate(647.40,166.85) scale(0.3425,0.33)" text-anchor="middle" font-size="13.89">IC</text>
<text transform="translate(611.30,172.55) scale(0.3425,0.33)" text-anchor="middle" font-size="13.89">Type</text>
<text transform="translate(611.30,4.70) scale(0.3425,0.33)" text-anchor="middle" font-size="16.67">TTR2C</text>
<text transform="translate(524.41,84.40) scale(0.3425,0.2933) rotate(-90)" text-anchor="middle" font-size="13.89">TTR2C</text>
<path d="M58.57,231.76 L58.54,232.16 L58.50,232.56 L58.45,232.96 L58.39,233.36 L58.33,233.76 L58.26,234.16 L58.18,234.56 L58.09,234.96 L58.00,235.36 L57.91,235.76 L57.82,236.16 L57.72,236.56 L57.63,236.96 L57.53,237.36 L57.43,237.76 L57.33,238.16 L57.22,238.56 L57.09,238.96 L56.94,239.36 L56.77,239.76 L56.59,240.16 L56.40,240.56 L56.21,240.96 L56.02,241.36 L55.83,241.76 L55.63,242.16 L55.44,242.56 L55.24,242.96 L55.04,243.36 L54.84,243.76 L54.63,244.16 L54.43,244.56 L54.23,244.96 L54.02,245.36 L53.82,245.76 L53.61,246.16 L53.40,246.56 L53.20,246.96 L53.00,247.36 L52.81,247.76 L52.63,248.16 L52.46,248.56 L52.30,248.96 L52.15,249.36 L52.00,249.76 L51.86,250.16 L51.73,250.56 L51.59,250.96 L51.45,251.36 L51.31,251.76 L51.17,252.16 L51.02,252.56 L50.86,252.96 L50.71,253.36 L50.55,253.76 L50.39,254.16 L50.22,254.56 L50.05,254.96 L49.88,255.36 L49.70,255.76 L49.52,256.16 L49.34,256.56 L49.14,256.96 L48.94,257.36 L48.73,257.76 L48.51,258.16 L48.27,258.56 L48.01,258.96 L47.73,259.36 L47.43,259.76 L47.11,260.16 L46.77,260.56 L46.41,260.96 L46.04,261.36 L45.65,261.76 L45.25,262.16 L44.82,262.56 L44.38,262.96 L43.92,263.36 L43.44,263.76 L42.95,264.16 L42.45,264.56 L41.96,264.96 L41.46,265.36 L40.97,265.76 L40.48,266.16 L39.99,266.56 L39.50,266.96 L39.01,267.36 L38.53,267.76 L38.06,268.16 L37.60,268.56 L37.14,268.96 L36.70,269.36 L36.26,269.76 L35.84,270.16 L35.42,270.56 L35.02,270.96 L34.63,271.36 L34.27,271.76 L33.92,272.16 L33.59,272.56 L33.28,272.96 L32.98,273.36 L32.70,273.76 L32.43,274.16 L32.18,274.56 L31.94,274.96 L31.72,275.36 L31.51,275.76 L31.32,276.16 L31.14,276.56 L30.98,276.96 L30.83,277.36 L30.69,277.76 L30.57,278.16 L30.45,278.56 L30.34,278.96 L30.25,279.36 L30.16,279.76 L30.08,280.16 L30.02,280.56 L29.97,280.96 L29.94,281.36 L29.93,281.76 L29.92,282.16 L29.92,282.56 L29.92,282.96 L29.92,283.36 L29.92,283.76 L29.92,284.16 L29.93,284.56 L29.96,284.96 L30.00,285.36 L30.06,285.76 L30.14,286.16 L30.24,286.56 L30.35,286.96 L30.48,287.36 L30.61,287.76 L30.75,288.16 L30.91,288.56 L31.07,288.96 L31.25,289.36 L31.44,289.76 L31.64,290.16 L31.85,290.56 L32.08,290.96 L32.31,291.36 L32.56,291.76 L32.81,292.16 L33.08,292.56 L33.37,292.96 L33.66,293.36 L33.97,293.76 L34.29,294.16 L34.62,294.56 L34.96,294.96 L35.32,295.36 L35.69,295.76 L36.07,296.16 L36.47,296.56 L36.87,296.96 L37.28,297.36 L37.69,297.76 L38.10,298.16 L38.51,298.56 L38.91,298.96 L39.32,299.36 L39.72,299.76 L40.12,300.16 L40.52,300.56 L40.92,300.96 L41.32,301.36 L41.72,301.76 L42.12,302.16 L42.52,302.56 L42.92,302.96 L43.32,303.36 L43.72,303.76 L44.12,304.16 L44.52,304.56 L44.92,304.96 L45.32,305.36 L45.72,305.76 L46.12,306.16 L46.52,306.56 L46.92,306.96 L47.32,307.36 L47.72,307.76 L48.12,308.16 L48.52,308.56 L48.93,308.96 L49.33,309.36 L49.74,309.76 L50.15,310.16 L50.55,310.56 L50.95,310.96 L51.34,311.36 L51.72,311.76 L52.09,312.16 L52.45,312.56 L52.80,312.96 L53.14,313.36 L53.46,313.76 L53.78,314.16 L54.09,314.56 L54.39,314.96 L54.68,315.36 L54.97,315.76 L55.24,316.16 L55.51,316.56 L55.77,316.96 L56.02,317.36 L56.25,317.76 L56.47,318.16 L56.67,318.56 L56.85,318.96 L57.01,319.36 L57.13,319.76 L57.24,320.16 L57.33,320.56 L57.42,320.96 L57.50,321.36 L57.57,321.76 L57.63,322.16 L57.70,322.56 L57.76,322.96 L57.81,323.36 L57.87,323.76 L57.92,324.16 L57.97,324.56 L58.03,324.96 L58.08,325.36 L58.13,325.76 L58.17,326.16 L58.22,326.56 L58.27,326.96 L58.31,327.36 L58.35,327.76 L58.39,328.16 L58.43,328.56 L58.47,328.96 L58.50,329.36 L58.53,329.76 L58.55,330.16 L58.57,330.56 L58.73,330.56 L58.75,330.16 L58.77,329.76 L58.80,329.36 L58.83,328.96 L58.87,328.56 L58.91,328.16 L58.95,327.76 L58.99,327.36 L59.03,326.96 L59.08,326.56 L59.13,326.16 L59.17,325.76 L59.22,325.36 L59.27,324.96 L59.33,324.56 L59.38,324.16 L59.43,323.76 L59.49,323.36 L59.54,322.96 L59.60,322.56 L59.67,322.16 L59.73,321.76 L59.80,321.36 L59.88,320.96 L59.97,320.56 L60.06,320.16 L60.17,319.76 L60.29,319.36 L60.45,318.96 L60.63,318.56 L60.83,318.16 L61.05,317.76 L61.28,317.36 L61.53,316.96 L61.79,316.56 L62.06,316.16 L62.33,315.76 L62.62,315.36 L62.91,314.96 L63.21,314.56 L63.52,314.16 L63.84,313.76 L64.16,313.36 L64.50,312.96 L64.85,312.56 L65.21,312.16 L65.58,311.76 L65.96,311.36 L66.35,310.96 L66.75,310.56 L67.15,310.16 L67.56,309.76 L67.97,309.36 L68.37,308.96 L68.78,308.56 L69.18,308.16 L69.58,307.76 L69.98,307.36 L70.38,306.96 L70.78,306.56 L71.18,306.16 L71.58,305.76 L71.98,305.36 L72.38,304.96 L72.78,304.56 L73.18,304.16 L73.58,303.76 L73.98,303.36 L74.38,302.96 L74.78,302.56 L75.18,302.16 L75.58,301.76 L75.98,301.36 L76.38,300.96 L76.78,300.56 L77.18,300.16 L77.58,299.76 L77.98,299.36 L78.39,298.96 L78.79,298.56 L79.20,298.16 L79.61,297.76 L80.02,297.36 L80.43,296.96 L80.83,296.56 L81.23,296.16 L81.61,295.76 L81.98,295.36 L82.34,294.96 L82.68,294.56 L83.01,294.16 L83.33,293.76 L83.64,293.36 L83.93,292.96 L84.22,292.56 L84.49,292.16 L84.74,291.76 L84.99,291.36 L85.22,290.96 L85.45,290.56 L85.66,290.16 L85.86,289.76 L86.05,289.36 L86.23,288.96 L86.39,288.56 L86.55,288.16 L86.69,287.76 L86.82,287.36 L86.95,286.96 L87.06,286.56 L87.16,286.16 L87.24,285.76 L87.30,285.36 L87.34,284.96 L87.37,284.56 L87.38,284.16 L87.38,283.76 L87.38,283.36 L87.38,282.96 L87.38,282.56 L87.38,282.16 L87.37,281.76 L87.36,281.36 L87.33,280.96 L87.28,280.56 L87.22,280.16 L87.14,279.76 L87.05,279.36 L86.96,278.96 L86.85,278.56 L86.73,278.16 L86.61,277.76 L86.47,277.36 L86.32,276.96 L86.16,276.56 L85.98,276.16 L85.79,275.76 L85.58,275.36 L85.36,274.96 L85.12,274.56 L84.87,274.16 L84.60,273.76 L84.32,273.36 L84.02,272.96 L83.71,272.56 L83.38,272.16 L83.03,271.76 L82.67,271.36 L82.28,270.96 L81.88,270.56 L81.46,270.16 L81.04,269.76 L80.60,269.36 L80.16,268.96 L79.70,268.56 L79.24,268.16 L78.77,267.76 L78.29,267.36 L77.80,266.96 L77.31,266.56 L76.82,266.16 L76.33,265.76 L75.84,265.36 L75.34,264.96 L74.85,264.56 L74.35,264.16 L73.86,263.76 L73.38,263.36 L72.92,262.96 L72.48,262.56 L72.05,262.16 L71.65,261.76 L71.26,261.36 L70.89,260.96 L70.53,260.56 L70.19,260.16 L69.87,259.76 L69.57,259.36 L69.29,258.96 L69.03,258.56 L68.79,258.16 L68.57,257.76 L68.36,257.36 L68.16,256.96 L67.96,256.56 L67.78,256.16 L67.60,255.76 L67.42,255.36 L67.25,254.96 L67.08,254.56 L66.91,254.16 L66.75,253.76 L66.59,253.36 L66.44,252.96 L66.28,252.56 L66.13,252.16 L65.99,251.76 L65.85,251.36 L65.71,250.96 L65.57,250.56 L65.44,250.16 L65.30,249.76 L65.15,249.36 L65.00,248.96 L64.84,248.56 L64.67,248.16 L64.49,247.76 L64.30,247.36 L64.10,246.96 L63.90,246.56 L63.69,246.16 L63.48,245.76 L63.28,245.36 L63.07,244.96 L62.87,244.56 L62.67,244.16 L62.46,243.76 L62.26,243.36 L62.06,242.96 L61.86,242.56 L61.67,242.16 L61.47,241.76 L61.28,241.36 L61.09,240.96 L60.90,240.56 L60.71,240.16 L60.53,239.76 L60.36,239.36 L60.21,238.96 L60.08,238.56 L59.97,238.16 L59.87,237.76 L59.77,237.36 L59.67,236.96 L59.58,236.56 L59.48,236.16 L59.39,235.76 L59.30,235.36 L59.21,234.96 L59.12,234.56 L59.04,234.16 L58.97,233.76 L58.91,233.36 L58.85,232.96 L58.80,232.56 L58.76,232.16 L58.73,231.76Z" fill="#457ca3" stroke="#303030" stroke-width="0.72" stroke-linejoin="round"/>
<line x1="58.45" x2="58.45" y1="231.76" y2="234.56" stroke="#222" stroke-width="0.45"/>
<line x1="58.45" x2="58.45" y1="326.16" y2="330.56" stroke="#222" stroke-width="0.45"/>
<line x1="58.35" x2="58.35" y1="243" y2="322" stroke="#222" stroke-width="0.5"/>
<line x1="58.65" x2="58.65" y1="272.1" y2="295.6" stroke="#333" stroke-width="1.9"/>
<rect x="57.65" y="282.80" width="2.0" height="0.6" fill="#fff" opacity="0.8"/>
<path d="M130.79,190.90 L130.78,191.30 L130.77,191.70 L130.75,192.10 L130.72,192.50 L130.69,192.90 L130.66,193.30 L130.62,193.70 L130.58,194.10 L130.54,194.50 L130.49,194.90 L130.43,195.30 L130.37,195.70 L130.30,196.10 L130.22,196.50 L130.14,196.90 L130.06,197.30 L129.98,197.70 L129.90,198.10 L129.82,198.50 L129.73,198.90 L129.64,199.30 L129.55,199.70 L129.45,200.10 L129.33,200.50 L129.21,200.90 L129.07,201.30 L128.91,201.70 L128.76,202.10 L128.61,202.50 L128.45,202.90 L128.29,203.30 L128.13,203.70 L127.97,204.10 L127.80,204.50 L127.63,204.90 L127.46,205.30 L127.28,205.70 L127.10,206.10 L126.92,206.50 L126.74,206.90 L126.56,207.30 L126.38,207.70 L126.20,208.10 L126.03,208.50 L125.86,208.90 L125.70,209.30 L125.54,209.70 L125.37,210.10 L125.22,210.50 L125.06,210.90 L124.90,211.30 L124.74,211.70 L124.58,212.10 L124.43,212.50 L124.27,212.90 L124.11,213.30 L123.95,213.70 L123.79,214.10 L123.63,214.50 L123.46,214.90 L123.30,215.30 L123.12,215.70 L122.95,216.10 L122.77,216.50 L122.59,216.90 L122.41,217.30 L122.23,217.70 L122.05,218.10 L121.87,218.50 L121.68,218.90 L121.50,219.30 L121.32,219.70 L121.14,220.10 L120.96,220.50 L120.78,220.90 L120.60,221.30 L120.42,221.70 L120.25,222.10 L120.08,222.50 L119.91,222.90 L119.74,223.30 L119.58,223.70 L119.41,224.10 L119.26,224.50 L119.11,224.90 L118.96,225.30 L118.82,225.70 L118.69,226.10 L118.57,226.50 L118.45,226.90 L118.33,227.30 L118.21,227.70 L118.09,228.10 L117.97,228.50 L117.85,228.90 L117.72,229.30 L117.58,229.70 L117.45,230.10 L117.31,230.50 L117.17,230.90 L117.02,231.30 L116.88,231.70 L116.74,232.10 L116.60,232.50 L116.46,232.90 L116.31,233.30 L116.17,233.70 L116.03,234.10 L115.89,234.50 L115.75,234.90 L115.62,235.30 L115.48,235.70 L115.35,236.10 L115.23,236.50 L115.11,236.90 L114.98,237.30 L114.87,237.70 L114.75,238.10 L114.63,238.50 L114.51,238.90 L114.39,239.30 L114.28,239.70 L114.16,240.10 L114.04,240.50 L113.92,240.90 L113.80,241.30 L113.68,241.70 L113.56,242.10 L113.43,242.50 L113.30,242.90 L113.16,243.30 L113.02,243.70 L112.88,244.10 L112.73,244.50 L112.59,244.90 L112.44,245.30 L112.30,245.70 L112.16,246.10 L112.01,246.50 L111.87,246.90 L111.73,247.30 L111.59,247.70 L111.45,248.10 L111.31,248.50 L111.17,248.90 L111.04,249.30 L110.91,249.70 L110.79,250.10 L110.66,250.50 L110.54,250.90 L110.42,251.30 L110.30,251.70 L110.19,252.10 L110.07,252.50 L109.95,252.90 L109.83,253.30 L109.71,253.70 L109.60,254.10 L109.48,254.50 L109.36,254.90 L109.24,255.30 L109.11,255.70 L108.98,256.10 L108.85,256.50 L108.72,256.90 L108.58,257.30 L108.44,257.70 L108.30,258.10 L108.15,258.50 L108.02,258.90 L107.88,259.30 L107.74,259.70 L107.61,260.10 L107.48,260.50 L107.36,260.90 L107.23,261.30 L107.11,261.70 L106.99,262.10 L106.88,262.50 L106.78,262.90 L106.67,263.30 L106.57,263.70 L106.48,264.10 L106.39,264.50 L106.33,264.90 L106.28,265.30 L106.25,265.70 L106.23,266.10 L106.22,266.50 L106.22,266.90 L106.22,267.30 L106.24,267.70 L106.27,268.10 L106.33,268.50 L106.42,268.90 L106.55,269.30 L106.72,269.70 L106.91,270.10 L107.13,270.50 L107.37,270.90 L107.63,271.30 L107.92,271.70 L108.23,272.10 L108.57,272.50 L108.93,272.90 L109.30,273.30 L109.70,273.70 L110.12,274.10 L110.56,274.50 L111.01,274.90 L111.48,275.30 L111.96,275.70 L112.44,276.10 L112.93,276.50 L113.42,276.90 L113.91,277.30 L114.40,277.70 L114.90,278.10 L115.40,278.50 L115.90,278.90 L116.41,279.30 L116.91,279.70 L117.42,280.10 L117.93,280.50 L118.44,280.90 L118.95,281.30 L119.46,281.70 L119.97,282.10 L120.46,282.50 L120.95,282.90 L121.42,283.30 L121.87,283.70 L122.31,284.10 L122.74,284.50 L123.16,284.90 L123.57,285.30 L123.96,285.70 L124.35,286.10 L124.72,286.50 L125.07,286.90 L125.42,287.30 L125.75,287.70 L126.08,288.10 L126.39,288.50 L126.69,288.90 L126.98,289.30 L127.26,289.70 L127.52,290.10 L127.77,290.50 L128.01,290.90 L128.24,291.30 L128.46,291.70 L128.67,292.10 L128.87,292.50 L129.05,292.90 L129.21,293.30 L129.34,293.70 L129.44,294.10 L129.53,294.50 L129.62,294.90 L129.69,295.30 L129.76,295.70 L129.83,296.10 L129.90,296.50 L129.96,296.90 L130.02,297.30 L130.09,297.70 L130.16,298.10 L130.22,298.50 L130.29,298.90 L130.36,299.30 L130.42,299.70 L130.48,300.10 L130.54,300.50 L130.59,300.90 L130.64,301.30 L130.69,301.70 L130.72,302.10 L130.75,302.50 L130.95,302.50 L130.98,302.10 L131.01,301.70 L131.06,301.30 L131.11,300.90 L131.16,300.50 L131.22,300.10 L131.28,299.70 L131.34,299.30 L131.41,298.90 L131.48,298.50 L131.54,298.10 L131.61,297.70 L131.68,297.30 L131.74,296.90 L131.80,296.50 L131.87,296.10 L131.94,295.70 L132.01,295.30 L132.08,294.90 L132.17,294.50 L132.26,294.10 L132.36,293.70 L132.49,293.30 L132.65,292.90 L132.83,292.50 L133.03,292.10 L133.24,291.70 L133.46,291.30 L133.69,290.90 L133.93,290.50 L134.18,290.10 L134.44,289.70 L134.72,289.30 L135.01,288.90 L135.31,288.50 L135.62,288.10 L135.95,287.70 L136.28,287.30 L136.63,286.90 L136.98,286.50 L137.35,286.10 L137.74,285.70 L138.13,285.30 L138.54,284.90 L138.96,284.50 L139.39,284.10 L139.83,283.70 L140.28,283.30 L140.75,282.90 L141.24,282.50 L141.73,282.10 L142.24,281.70 L142.75,281.30 L143.26,280.90 L143.77,280.50 L144.28,280.10 L144.79,279.70 L145.29,279.30 L145.80,278.90 L146.30,278.50 L146.80,278.10 L147.30,277.70 L147.79,277.30 L148.28,276.90 L148.77,276.50 L149.26,276.10 L149.74,275.70 L150.22,275.30 L150.69,274.90 L151.14,274.50 L151.58,274.10 L152.00,273.70 L152.40,273.30 L152.77,272.90 L153.13,272.50 L153.47,272.10 L153.78,271.70 L154.07,271.30 L154.33,270.90 L154.57,270.50 L154.79,270.10 L154.98,269.70 L155.15,269.30 L155.28,268.90 L155.37,268.50 L155.43,268.10 L155.46,267.70 L155.48,267.30 L155.48,266.90 L155.48,266.50 L155.47,266.10 L155.45,265.70 L155.42,265.30 L155.37,264.90 L155.31,264.50 L155.22,264.10 L155.13,263.70 L155.03,263.30 L154.92,262.90 L154.82,262.50 L154.71,262.10 L154.59,261.70 L154.47,261.30 L154.34,260.90 L154.22,260.50 L154.09,260.10 L153.96,259.70 L153.82,259.30 L153.68,258.90 L153.55,258.50 L153.40,258.10 L153.26,257.70 L153.12,257.30 L152.98,256.90 L152.85,256.50 L152.72,256.10 L152.59,255.70 L152.46,255.30 L152.34,254.90 L152.22,254.50 L152.10,254.10 L151.99,253.70 L151.87,253.30 L151.75,252.90 L151.63,252.50 L151.51,252.10 L151.40,251.70 L151.28,251.30 L151.16,250.90 L151.04,250.50 L150.91,250.10 L150.79,249.70 L150.66,249.30 L150.53,248.90 L150.39,248.50 L150.25,248.10 L150.11,247.70 L149.97,247.30 L149.83,246.90 L149.69,246.50 L149.54,246.10 L149.40,245.70 L149.26,245.30 L149.11,244.90 L148.97,244.50 L148.82,244.10 L148.68,243.70 L148.54,243.30 L148.40,242.90 L148.27,242.50 L148.14,242.10 L148.02,241.70 L147.90,241.30 L147.78,240.90 L147.66,240.50 L147.54,240.10 L147.42,239.70 L147.31,239.30 L147.19,238.90 L147.07,238.50 L146.95,238.10 L146.83,237.70 L146.72,237.30 L146.59,236.90 L146.47,236.50 L146.35,236.10 L146.22,235.70 L146.08,235.30 L145.95,234.90 L145.81,234.50 L145.67,234.10 L145.53,233.70 L145.39,233.30 L145.24,232.90 L145.10,232.50 L144.96,232.10 L144.82,231.70 L144.68,231.30 L144.53,230.90 L144.39,230.50 L144.25,230.10 L144.12,229.70 L143.98,229.30 L143.85,228.90 L143.73,228.50 L143.61,228.10 L143.49,227.70 L143.37,227.30 L143.25,226.90 L143.13,226.50 L143.01,226.10 L142.88,225.70 L142.74,225.30 L142.59,224.90 L142.44,224.50 L142.29,224.10 L142.12,223.70 L141.96,223.30 L141.79,222.90 L141.62,222.50 L141.45,222.10 L141.28,221.70 L141.10,221.30 L140.92,220.90 L140.74,220.50 L140.56,220.10 L140.38,219.70 L140.20,219.30 L140.02,218.90 L139.83,218.50 L139.65,218.10 L139.47,217.70 L139.29,217.30 L139.11,216.90 L138.93,216.50 L138.75,216.10 L138.58,215.70 L138.40,215.30 L138.24,214.90 L138.07,214.50 L137.91,214.10 L137.75,213.70 L137.59,213.30 L137.43,212.90 L137.27,212.50 L137.12,212.10 L136.96,211.70 L136.80,211.30 L136.64,210.90 L136.48,210.50 L136.33,210.10 L136.16,209.70 L136.00,209.30 L135.84,208.90 L135.67,208.50 L135.50,208.10 L135.32,207.70 L135.14,207.30 L134.96,206.90 L134.78,206.50 L134.60,206.10 L134.42,205.70 L134.24,205.30 L134.07,204.90 L133.90,204.50 L133.73,204.10 L133.57,203.70 L133.41,203.30 L133.25,202.90 L133.09,202.50 L132.94,202.10 L132.79,201.70 L132.63,201.30 L132.49,200.90 L132.37,200.50 L132.25,200.10 L132.15,199.70 L132.06,199.30 L131.97,198.90 L131.88,198.50 L131.80,198.10 L131.72,197.70 L131.64,197.30 L131.56,196.90 L131.48,196.50 L131.40,196.10 L131.33,195.70 L131.27,195.30 L131.21,194.90 L131.16,194.50 L131.12,194.10 L131.08,193.70 L131.04,193.30 L131.01,192.90 L130.98,192.50 L130.95,192.10 L130.93,191.70 L130.92,191.30 L130.91,190.90Z" fill="#db8134" stroke="#303030" stroke-width="0.72" stroke-linejoin="round"/>
<line x1="130.65" x2="130.65" y1="190.90" y2="195.70" stroke="#222" stroke-width="0.45"/>
<line x1="130.65" x2="130.65" y1="299.30" y2="302.50" stroke="#222" stroke-width="0.45"/>
<line x1="130.55" x2="130.55" y1="199" y2="289.6" stroke="#222" stroke-width="0.5"/>
<line x1="130.85" x2="130.85" y1="237.9" y2="270.8" stroke="#333" stroke-width="1.9"/>
<rect x="129.85" y="255.10" width="2.0" height="0.6" fill="#fff" opacity="0.8"/>
<rect x="22.55" y="184.4" width="144.40" height="153.05" fill="none" stroke="#000" stroke-width="0.42"/>
<line x1="21.15" x2="22.55" y1="204.65" y2="204.65" stroke="#000" stroke-width="0.42"/>
<text transform="translate(19.20,206.75) scale(0.3425,0.33)" text-anchor="end" font-size="13.89">0.50</text>
<line x1="21.15" x2="22.55" y1="231.0" y2="231.0" stroke="#000" stroke-width="0.42"/>
<text transform="translate(19.20,233.10) scale(0.3425,0.33)" text-anchor="end" font-size="13.89">0.45</text>
<line x1="21.15" x2="22.55" y1="257.35" y2="257.35" stroke="#000" stroke-width="0.42"/>
<text transform="translate(19.20,259.45) scale(0.3425,0.33)" text-anchor="end" font-size="13.89">0.40</text>
<line x1="21.15" x2="22.55" y1="283.5" y2="283.5" stroke="#000" stroke-width="0.42"/>
<text transform="translate(19.20,285.60) scale(0.3425,0.33)" text-anchor="end" font-size="13.89">0.35</text>
<line x1="21.15" x2="22.55" y1="309.6" y2="309.6" stroke="#000" stroke-width="0.42"/>
<text transform="translate(19.20,311.70) scale(0.3425,0.33)" text-anchor="end" font-size="13.89">0.30</text>
<line x1="21.15" x2="22.55" y1="335.7" y2="335.7" stroke="#000" stroke-width="0.42"/>
<text transform="translate(19.20,337.80) scale(0.3425,0.33)" text-anchor="end" font-size="13.89">0.25</text>
<line x1="58.65" x2="58.65" y1="337.45" y2="338.85" stroke="#000" stroke-width="0.42"/>
<text transform="translate(58.65,343.90) scale(0.3425,0.33)" text-anchor="middle" font-size="13.89">SC</text>
<line x1="130.85" x2="130.85" y1="337.45" y2="338.85" stroke="#000" stroke-width="0.42"/>
<text transform="translate(130.85,343.90) scale(0.3425,0.33)" text-anchor="middle" font-size="13.89">IC</text>
<text transform="translate(94.75,349.60) scale(0.3425,0.33)" text-anchor="middle" font-size="13.89">Type</text>
<text transform="translate(94.75,182.10) scale(0.3425,0.33)" text-anchor="middle" font-size="16.67">LD</text>
<text transform="translate(4.83,261.62) scale(0.3425,0.2933) rotate(-90)" text-anchor="middle" font-size="13.89">LD</text>
<path d="M230.77,190.90 L230.75,191.30 L230.72,191.70 L230.68,192.10 L230.64,192.50 L230.59,192.90 L230.55,193.30 L230.49,193.70 L230.44,194.10 L230.38,194.50 L230.32,194.90 L230.25,195.30 L230.18,195.70 L230.11,196.10 L230.04,196.50 L229.97,196.90 L229.91,197.30 L229.84,197.70 L229.78,198.10 L229.72,198.50 L229.67,198.90 L229.61,199.30 L229.55,199.70 L229.50,200.10 L229.44,200.50 L229.38,200.90 L229.31,201.30 L229.25,201.70 L229.18,202.10 L229.11,202.50 L229.03,202.90 L228.95,203.30 L228.87,203.70 L228.79,204.10 L228.71,204.50 L228.62,204.90 L228.53,205.30 L228.44,205.70 L228.35,206.10 L228.25,206.50 L228.15,206.90 L228.05,207.30 L227.94,207.70 L227.84,208.10 L227.73,208.50 L227.62,208.90 L227.51,209.30 L227.40,209.70 L227.29,210.10 L227.17,210.50 L227.04,210.90 L226.91,211.30 L226.76,211.70 L226.61,212.10 L226.45,212.50 L226.27,212.90 L226.09,213.30 L225.89,213.70 L225.68,214.10 L225.46,214.50 L225.23,214.90 L224.99,215.30 L224.74,215.70 L224.47,216.10 L224.19,216.50 L223.89,216.90 L223.59,217.30 L223.27,217.70 L222.95,218.10 L222.63,218.50 L222.29,218.90 L221.95,219.30 L221.60,219.70 L221.25,220.10 L220.89,220.50 L220.53,220.90 L220.16,221.30 L219.79,221.70 L219.41,222.10 L219.04,222.50 L218.66,222.90 L218.28,223.30 L217.90,223.70 L217.52,224.10 L217.14,224.50 L216.76,224.90 L216.38,225.30 L216.01,225.70 L215.64,226.10 L215.27,226.50 L214.91,226.90 L214.55,227.30 L214.19,227.70 L213.83,228.10 L213.48,228.50 L213.13,228.90 L212.78,229.30 L212.43,229.70 L212.09,230.10 L211.74,230.50 L211.40,230.90 L211.07,231.30 L210.73,231.70 L210.40,232.10 L210.06,232.50 L209.73,232.90 L209.40,233.30 L209.07,233.70 L208.75,234.10 L208.43,234.50 L208.12,234.90 L207.81,235.30 L207.51,235.70 L207.22,236.10 L206.94,236.50 L206.67,236.90 L206.40,237.30 L206.14,237.70 L205.88,238.10 L205.64,238.50 L205.40,238.90 L205.17,239.30 L204.95,239.70 L204.74,240.10 L204.54,240.50 L204.34,240.90 L204.14,241.30 L203.94,241.70 L203.74,242.10 L203.55,242.50 L203.35,242.90 L203.15,243.30 L202.98,243.70 L202.82,244.10 L202.68,244.50 L202.55,244.90 L202.45,245.30 L202.36,245.70 L202.28,246.10 L202.22,246.50 L202.17,246.90 L202.14,247.30 L202.13,247.70 L202.12,248.10 L202.12,248.50 L202.12,248.90 L202.13,249.30 L202.15,249.70 L202.18,250.10 L202.25,250.50 L202.34,250.90 L202.47,251.30 L202.62,251.70 L202.80,252.10 L203.00,252.50 L203.24,252.90 L203.50,253.30 L203.80,253.70 L204.13,254.10 L204.48,254.50 L204.85,254.90 L205.24,255.30 L205.64,255.70 L206.05,256.10 L206.48,256.50 L206.92,256.90 L207.37,257.30 L207.83,257.70 L208.30,258.10 L208.78,258.50 L209.25,258.90 L209.71,259.30 L210.17,259.70 L210.62,260.10 L211.07,260.50 L211.52,260.90 L211.96,261.30 L212.40,261.70 L212.83,262.10 L213.25,262.50 L213.66,262.90 L214.07,263.30 L214.46,263.70 L214.85,264.10 L215.24,264.50 L215.62,264.90 L215.98,265.30 L216.35,265.70 L216.70,266.10 L217.05,266.50 L217.39,266.90 L217.72,267.30 L218.04,267.70 L218.36,268.10 L218.68,268.50 L218.99,268.90 L219.29,269.30 L219.59,269.70 L219.89,270.10 L220.18,270.50 L220.47,270.90 L220.75,271.30 L221.03,271.70 L221.30,272.10 L221.57,272.50 L221.83,272.90 L222.09,273.30 L222.35,273.70 L222.60,274.10 L222.84,274.50 L223.08,274.90 L223.32,275.30 L223.55,275.70 L223.77,276.10 L224.00,276.50 L224.21,276.90 L224.43,277.30 L224.63,277.70 L224.84,278.10 L225.04,278.50 L225.23,278.90 L225.42,279.30 L225.60,279.70 L225.78,280.10 L225.96,280.50 L226.13,280.90 L226.29,281.30 L226.45,281.70 L226.61,282.10 L226.76,282.50 L226.91,282.90 L227.05,283.30 L227.19,283.70 L227.32,284.10 L227.45,284.50 L227.57,284.90 L227.69,285.30 L227.80,285.70 L227.91,286.10 L228.02,286.50 L228.11,286.90 L228.21,287.30 L228.29,287.70 L228.38,288.10 L228.46,288.50 L228.54,288.90 L228.61,289.30 L228.68,289.70 L228.75,290.10 L228.82,290.50 L228.89,290.90 L228.95,291.30 L229.01,291.70 L229.07,292.10 L229.13,292.50 L229.18,292.90 L229.22,293.30 L229.27,293.70 L229.30,294.10 L229.34,294.50 L229.37,294.90 L229.40,295.30 L229.43,295.70 L229.46,296.10 L229.49,296.50 L229.52,296.90 L229.55,297.30 L229.58,297.70 L229.61,298.10 L229.64,298.50 L229.66,298.90 L229.69,299.30 L229.72,299.70 L229.74,300.10 L229.76,300.50 L229.78,300.90 L229.79,301.30 L229.81,301.70 L229.82,302.10 L229.83,302.50 L229.85,302.90 L229.87,303.30 L229.89,303.70 L229.92,304.10 L229.95,304.50 L229.98,304.90 L230.02,305.30 L230.07,305.70 L230.12,306.10 L230.17,306.50 L230.21,306.90 L230.26,307.30 L230.30,307.70 L230.33,308.10 L230.36,308.50 L230.39,308.90 L230.42,309.30 L230.44,309.70 L230.47,310.10 L230.49,310.50 L230.51,310.90 L230.54,311.30 L230.56,311.70 L230.58,312.10 L230.60,312.50 L230.62,312.90 L230.64,313.30 L230.65,313.70 L230.67,314.10 L230.69,314.50 L230.70,314.90 L230.71,315.30 L230.72,315.70 L230.74,316.10 L230.74,316.50 L230.75,316.90 L230.76,317.30 L230.76,317.70 L230.77,318.10 L230.77,318.50 L230.93,318.50 L230.93,318.10 L230.94,317.70 L230.94,317.30 L230.95,316.90 L230.96,316.50 L230.96,316.10 L230.98,315.70 L230.99,315.30 L231.00,314.90 L231.01,314.50 L231.03,314.10 L231.05,313.70 L231.06,313.30 L231.08,312.90 L231.10,312.50 L231.12,312.10 L231.14,311.70 L231.16,311.30 L231.19,310.90 L231.21,310.50 L231.23,310.10 L231.26,309.70 L231.28,309.30 L231.31,308.90 L231.34,308.50 L231.37,308.10 L231.40,307.70 L231.44,307.30 L231.49,306.90 L231.53,306.50 L231.58,306.10 L231.63,305.70 L231.68,305.30 L231.72,304.90 L231.75,304.50 L231.78,304.10 L231.81,303.70 L231.83,303.30 L231.85,302.90 L231.87,302.50 L231.88,302.10 L231.89,301.70 L231.91,301.30 L231.92,300.90 L231.94,300.50 L231.96,300.10 L231.98,299.70 L232.01,299.30 L232.04,298.90 L232.06,298.50 L232.09,298.10 L232.12,297.70 L232.15,297.30 L232.18,296.90 L232.21,296.50 L232.24,296.10 L232.27,295.70 L232.30,295.30 L232.33,294.90 L232.36,294.50 L232.40,294.10 L232.43,293.70 L232.48,293.30 L232.52,292.90 L232.57,292.50 L232.63,292.10 L232.69,291.70 L232.75,291.30 L232.81,290.90 L232.88,290.50 L232.95,290.10 L233.02,289.70 L233.09,289.30 L233.16,288.90 L233.24,288.50 L233.32,288.10 L233.41,287.70 L233.49,287.30 L233.59,286.90 L233.68,286.50 L233.79,286.10 L233.90,285.70 L234.01,285.30 L234.13,284.90 L234.25,284.50 L234.38,284.10 L234.51,283.70 L234.65,283.30 L234.79,282.90 L234.94,282.50 L235.09,282.10 L235.25,281.70 L235.41,281.30 L235.57,280.90 L235.74,280.50 L235.92,280.10 L236.10,279.70 L236.28,279.30 L236.47,278.90 L236.66,278.50 L236.86,278.10 L237.07,277.70 L237.27,277.30 L237.49,276.90 L237.70,276.50 L237.93,276.10 L238.15,275.70 L238.38,275.30 L238.62,274.90 L238.86,274.50 L239.10,274.10 L239.35,273.70 L239.61,273.30 L239.87,272.90 L240.13,272.50 L240.40,272.10 L240.67,271.70 L240.95,271.30 L241.23,270.90 L241.52,270.50 L241.81,270.10 L242.11,269.70 L242.41,269.30 L242.71,268.90 L243.02,268.50 L243.34,268.10 L243.66,267.70 L243.98,267.30 L244.31,266.90 L244.65,266.50 L245.00,266.10 L245.35,265.70 L245.72,265.30 L246.08,264.90 L246.46,264.50 L246.85,264.10 L247.24,263.70 L247.63,263.30 L248.04,262.90 L248.45,262.50 L248.87,262.10 L249.30,261.70 L249.74,261.30 L250.18,260.90 L250.63,260.50 L251.08,260.10 L251.53,259.70 L251.99,259.30 L252.45,258.90 L252.92,258.50 L253.40,258.10 L253.87,257.70 L254.33,257.30 L254.78,256.90 L255.22,256.50 L255.65,256.10 L256.06,255.70 L256.46,255.30 L256.85,254.90 L257.22,254.50 L257.57,254.10 L257.90,253.70 L258.20,253.30 L258.46,252.90 L258.70,252.50 L258.90,252.10 L259.08,251.70 L259.23,251.30 L259.36,250.90 L259.45,250.50 L259.52,250.10 L259.55,249.70 L259.57,249.30 L259.58,248.90 L259.58,248.50 L259.58,248.10 L259.57,247.70 L259.56,247.30 L259.53,246.90 L259.48,246.50 L259.42,246.10 L259.34,245.70 L259.25,245.30 L259.15,244.90 L259.02,244.50 L258.88,244.10 L258.72,243.70 L258.55,243.30 L258.35,242.90 L258.15,242.50 L257.96,242.10 L257.76,241.70 L257.56,241.30 L257.36,240.90 L257.16,240.50 L256.96,240.10 L256.75,239.70 L256.53,239.30 L256.30,238.90 L256.06,238.50 L255.82,238.10 L255.56,237.70 L255.30,237.30 L255.03,236.90 L254.76,236.50 L254.48,236.10 L254.19,235.70 L253.89,235.30 L253.58,234.90 L253.27,234.50 L252.95,234.10 L252.63,233.70 L252.30,233.30 L251.97,232.90 L251.64,232.50 L251.30,232.10 L250.97,231.70 L250.63,231.30 L250.30,230.90 L249.96,230.50 L249.61,230.10 L249.27,229.70 L248.92,229.30 L248.57,228.90 L248.22,228.50 L247.87,228.10 L247.51,227.70 L247.15,227.30 L246.79,226.90 L246.43,226.50 L246.06,226.10 L245.69,225.70 L245.32,225.30 L244.94,224.90 L244.56,224.50 L244.18,224.10 L243.80,223.70 L243.42,223.30 L243.04,222.90 L242.66,222.50 L242.29,222.10 L241.91,221.70 L241.54,221.30 L241.17,220.90 L240.81,220.50 L240.45,220.10 L240.10,219.70 L239.75,219.30 L239.41,218.90 L239.07,218.50 L238.75,218.10 L238.43,217.70 L238.11,217.30 L237.81,216.90 L237.51,216.50 L237.23,216.10 L236.96,215.70 L236.71,215.30 L236.47,214.90 L236.24,214.50 L236.02,214.10 L235.81,213.70 L235.61,213.30 L235.43,212.90 L235.25,212.50 L235.09,212.10 L234.94,211.70 L234.79,211.30 L234.66,210.90 L234.53,210.50 L234.41,210.10 L234.30,209.70 L234.19,209.30 L234.08,208.90 L233.97,208.50 L233.86,208.10 L233.76,207.70 L233.65,207.30 L233.55,206.90 L233.45,206.50 L233.35,206.10 L233.26,205.70 L233.17,205.30 L233.08,204.90 L232.99,204.50 L232.91,204.10 L232.83,203.70 L232.75,203.30 L232.67,202.90 L232.59,202.50 L232.52,202.10 L232.45,201.70 L232.39,201.30 L232.32,200.90 L232.26,200.50 L232.20,200.10 L232.15,199.70 L232.09,199.30 L232.03,198.90 L231.98,198.50 L231.92,198.10 L231.86,197.70 L231.79,197.30 L231.73,196.90 L231.66,196.50 L231.59,196.10 L231.52,195.70 L231.45,195.30 L231.38,194.90 L231.32,194.50 L231.26,194.10 L231.21,193.70 L231.15,193.30 L231.11,192.90 L231.06,192.50 L231.02,192.10 L230.98,191.70 L230.95,191.30 L230.93,190.90Z" fill="#457ca3" stroke="#303030" stroke-width="0.72" stroke-linejoin="round"/>
<line x1="230.65" x2="230.65" y1="190.90" y2="194.50" stroke="#222" stroke-width="0.45"/>
<line x1="230.65" x2="230.65" y1="308.90" y2="318.50" stroke="#222" stroke-width="0.45"/>
<line x1="230.55" x2="230.55" y1="202.5" y2="294.4" stroke="#222" stroke-width="0.5"/>
<line x1="230.85" x2="230.85" y1="236.7" y2="261.1" stroke="#333" stroke-width="1.9"/>
<rect x="229.85" y="248.80" width="2.0" height="0.6" fill="#fff" opacity="0.8"/>
<path d="M302.98,193.76 L302.97,194.16 L302.96,194.56 L302.94,194.96 L302.92,195.36 L302.89,195.76 L302.87,196.16 L302.85,196.56 L302.82,196.96 L302.79,197.36 L302.76,197.76 L302.74,198.16 L302.71,198.56 L302.67,198.96 L302.64,199.36 L302.61,199.76 L302.58,200.16 L302.54,200.56 L302.50,200.96 L302.46,201.36 L302.42,201.76 L302.38,202.16 L302.34,202.56 L302.29,202.96 L302.25,203.36 L302.20,203.76 L302.15,204.16 L302.09,204.56 L302.04,204.96 L301.98,205.36 L301.92,205.76 L301.86,206.16 L301.80,206.56 L301.74,206.96 L301.67,207.36 L301.60,207.76 L301.52,208.16 L301.44,208.56 L301.36,208.96 L301.26,209.36 L301.15,209.76 L301.05,210.16 L300.94,210.56 L300.83,210.96 L300.72,211.36 L300.60,211.76 L300.48,212.16 L300.36,212.56 L300.24,212.96 L300.11,213.36 L299.98,213.76 L299.84,214.16 L299.69,214.56 L299.54,214.96 L299.39,215.36 L299.23,215.76 L299.06,216.16 L298.90,216.56 L298.72,216.96 L298.54,217.36 L298.36,217.76 L298.18,218.16 L297.98,218.56 L297.79,218.96 L297.58,219.36 L297.38,219.76 L297.17,220.16 L296.95,220.56 L296.73,220.96 L296.50,221.36 L296.27,221.76 L296.03,222.16 L295.79,222.56 L295.55,222.96 L295.30,223.36 L295.06,223.76 L294.81,224.16 L294.57,224.56 L294.33,224.96 L294.09,225.36 L293.85,225.76 L293.61,226.16 L293.37,226.56 L293.13,226.96 L292.89,227.36 L292.65,227.76 L292.41,228.16 L292.17,228.56 L291.93,228.96 L291.69,229.36 L291.45,229.76 L291.21,230.16 L290.97,230.56 L290.73,230.96 L290.49,231.36 L290.25,231.76 L290.00,232.16 L289.76,232.56 L289.52,232.96 L289.28,233.36 L289.05,233.76 L288.81,234.16 L288.58,234.56 L288.35,234.96 L288.12,235.36 L287.89,235.76 L287.67,236.16 L287.45,236.56 L287.24,236.96 L287.03,237.36 L286.83,237.76 L286.63,238.16 L286.44,238.56 L286.25,238.96 L286.07,239.36 L285.89,239.76 L285.71,240.16 L285.54,240.56 L285.37,240.96 L285.20,241.36 L285.03,241.76 L284.86,242.16 L284.70,242.56 L284.53,242.96 L284.37,243.36 L284.22,243.76 L284.07,244.16 L283.92,244.56 L283.78,244.96 L283.65,245.36 L283.51,245.76 L283.39,246.16 L283.26,246.56 L283.15,246.96 L283.03,247.36 L282.93,247.76 L282.83,248.16 L282.73,248.56 L282.64,248.96 L282.55,249.36 L282.47,249.76 L282.39,250.16 L282.32,250.56 L282.25,250.96 L282.19,251.36 L282.13,251.76 L282.07,252.16 L282.02,252.56 L281.97,252.96 L281.93,253.36 L281.90,253.76 L281.87,254.16 L281.85,254.56 L281.84,254.96 L281.83,255.36 L281.83,255.76 L281.83,256.16 L281.83,256.56 L281.83,256.96 L281.83,257.36 L281.83,257.76 L281.83,258.16 L281.83,258.56 L281.83,258.96 L281.83,259.36 L281.83,259.76 L281.83,260.16 L281.83,260.56 L281.83,260.96 L281.84,261.36 L281.85,261.76 L281.86,262.16 L281.88,262.56 L281.92,262.96 L281.95,263.36 L282.00,263.76 L282.05,264.16 L282.10,264.56 L282.16,264.96 L282.22,265.36 L282.28,265.76 L282.35,266.16 L282.42,266.56 L282.50,266.96 L282.59,267.36 L282.68,267.76 L282.78,268.16 L282.89,268.56 L283.02,268.96 L283.15,269.36 L283.29,269.76 L283.45,270.16 L283.61,270.56 L283.79,270.96 L283.97,271.36 L284.17,271.76 L284.37,272.16 L284.59,272.56 L284.81,272.96 L285.05,273.36 L285.29,273.76 L285.54,274.16 L285.79,274.56 L286.04,274.96 L286.28,275.36 L286.53,275.76 L286.77,276.16 L287.02,276.56 L287.26,276.96 L287.50,277.36 L287.74,277.76 L287.97,278.16 L288.21,278.56 L288.44,278.96 L288.67,279.36 L288.89,279.76 L289.11,280.16 L289.33,280.56 L289.55,280.96 L289.77,281.36 L289.98,281.76 L290.19,282.16 L290.40,282.56 L290.60,282.96 L290.81,283.36 L291.01,283.76 L291.21,284.16 L291.40,284.56 L291.60,284.96 L291.80,285.36 L292.00,285.76 L292.20,286.16 L292.40,286.56 L292.61,286.96 L292.81,287.36 L293.01,287.76 L293.20,288.16 L293.40,288.56 L293.59,288.96 L293.78,289.36 L293.97,289.76 L294.15,290.16 L294.34,290.56 L294.52,290.96 L294.69,291.36 L294.87,291.76 L295.04,292.16 L295.21,292.56 L295.38,292.96 L295.54,293.36 L295.71,293.76 L295.87,294.16 L296.03,294.56 L296.18,294.96 L296.34,295.36 L296.49,295.76 L296.64,296.16 L296.78,296.56 L296.92,296.96 L297.06,297.36 L297.20,297.76 L297.34,298.16 L297.48,298.56 L297.62,298.96 L297.76,299.36 L297.90,299.76 L298.04,300.16 L298.18,300.56 L298.32,300.96 L298.46,301.36 L298.60,301.76 L298.74,302.16 L298.87,302.56 L299.01,302.96 L299.14,303.36 L299.27,303.76 L299.39,304.16 L299.52,304.56 L299.63,304.96 L299.74,305.36 L299.84,305.76 L299.94,306.16 L300.02,306.56 L300.10,306.96 L300.17,307.36 L300.24,307.76 L300.31,308.16 L300.37,308.56 L300.43,308.96 L300.49,309.36 L300.54,309.76 L300.60,310.16 L300.65,310.56 L300.71,310.96 L300.77,311.36 L300.83,311.76 L300.89,312.16 L300.95,312.56 L301.02,312.96 L301.09,313.36 L301.17,313.76 L301.25,314.16 L301.33,314.56 L301.41,314.96 L301.48,315.36 L301.55,315.76 L301.62,316.16 L301.68,316.56 L301.74,316.96 L301.79,317.36 L301.84,317.76 L301.88,318.16 L301.92,318.56 L301.95,318.96 L301.99,319.36 L302.02,319.76 L302.05,320.16 L302.08,320.56 L302.11,320.96 L302.14,321.36 L302.17,321.76 L302.20,322.16 L302.23,322.56 L302.26,322.96 L302.29,323.36 L302.33,323.76 L302.36,324.16 L302.40,324.56 L302.44,324.96 L302.47,325.36 L302.51,325.76 L302.55,326.16 L302.59,326.56 L302.63,326.96 L302.67,327.36 L302.71,327.76 L302.74,328.16 L302.78,328.56 L302.82,328.96 L302.86,329.36 L302.89,329.76 L302.92,330.16 L302.94,330.56 L303.16,330.56 L303.18,330.16 L303.21,329.76 L303.24,329.36 L303.28,328.96 L303.32,328.56 L303.36,328.16 L303.39,327.76 L303.43,327.36 L303.47,326.96 L303.51,326.56 L303.55,326.16 L303.59,325.76 L303.63,325.36 L303.66,324.96 L303.70,324.56 L303.74,324.16 L303.77,323.76 L303.81,323.36 L303.84,322.96 L303.87,322.56 L303.90,322.16 L303.93,321.76 L303.96,321.36 L303.99,320.96 L304.02,320.56 L304.05,320.16 L304.08,319.76 L304.11,319.36 L304.15,318.96 L304.18,318.56 L304.22,318.16 L304.26,317.76 L304.31,317.36 L304.36,316.96 L304.42,316.56 L304.48,316.16 L304.55,315.76 L304.62,315.36 L304.69,314.96 L304.77,314.56 L304.85,314.16 L304.93,313.76 L305.01,313.36 L305.08,312.96 L305.15,312.56 L305.21,312.16 L305.27,311.76 L305.33,311.36 L305.39,310.96 L305.45,310.56 L305.50,310.16 L305.56,309.76 L305.61,309.36 L305.67,308.96 L305.73,308.56 L305.79,308.16 L305.86,307.76 L305.93,307.36 L306.00,306.96 L306.08,306.56 L306.16,306.16 L306.26,305.76 L306.36,305.36 L306.47,304.96 L306.58,304.56 L306.71,304.16 L306.83,303.76 L306.96,303.36 L307.09,302.96 L307.23,302.56 L307.36,302.16 L307.50,301.76 L307.64,301.36 L307.78,300.96 L307.92,300.56 L308.06,300.16 L308.20,299.76 L308.34,299.36 L308.48,298.96 L308.62,298.56 L308.76,298.16 L308.90,297.76 L309.04,297.36 L309.18,296.96 L309.32,296.56 L309.46,296.16 L309.61,295.76 L309.76,295.36 L309.92,294.96 L310.07,294.56 L310.23,294.16 L310.39,293.76 L310.56,293.36 L310.72,292.96 L310.89,292.56 L311.06,292.16 L311.23,291.76 L311.41,291.36 L311.58,290.96 L311.76,290.56 L311.95,290.16 L312.13,289.76 L312.32,289.36 L312.51,288.96 L312.70,288.56 L312.90,288.16 L313.09,287.76 L313.29,287.36 L313.49,286.96 L313.70,286.56 L313.90,286.16 L314.10,285.76 L314.30,285.36 L314.50,284.96 L314.70,284.56 L314.89,284.16 L315.09,283.76 L315.29,283.36 L315.50,282.96 L315.70,282.56 L315.91,282.16 L316.12,281.76 L316.33,281.36 L316.55,280.96 L316.77,280.56 L316.99,280.16 L317.21,279.76 L317.43,279.36 L317.66,278.96 L317.89,278.56 L318.13,278.16 L318.36,277.76 L318.60,277.36 L318.84,276.96 L319.08,276.56 L319.33,276.16 L319.57,275.76 L319.82,275.36 L320.06,274.96 L320.31,274.56 L320.56,274.16 L320.81,273.76 L321.05,273.36 L321.29,272.96 L321.51,272.56 L321.73,272.16 L321.93,271.76 L322.13,271.36 L322.31,270.96 L322.49,270.56 L322.65,270.16 L322.81,269.76 L322.95,269.36 L323.08,268.96 L323.21,268.56 L323.32,268.16 L323.42,267.76 L323.51,267.36 L323.60,266.96 L323.68,266.56 L323.75,266.16 L323.82,265.76 L323.88,265.36 L323.94,264.96 L324.00,264.56 L324.05,264.16 L324.10,263.76 L324.15,263.36 L324.18,262.96 L324.22,262.56 L324.24,262.16 L324.25,261.76 L324.26,261.36 L324.27,260.96 L324.27,260.56 L324.27,260.16 L324.27,259.76 L324.27,259.36 L324.27,258.96 L324.27,258.56 L324.27,258.16 L324.27,257.76 L324.27,257.36 L324.27,256.96 L324.27,256.56 L324.27,256.16 L324.27,255.76 L324.27,255.36 L324.26,254.96 L324.25,254.56 L324.23,254.16 L324.20,253.76 L324.17,253.36 L324.13,252.96 L324.08,252.56 L324.03,252.16 L323.97,251.76 L323.91,251.36 L323.85,250.96 L323.78,250.56 L323.71,250.16 L323.63,249.76 L323.55,249.36 L323.46,248.96 L323.37,248.56 L323.27,248.16 L323.17,247.76 L323.07,247.36 L322.95,246.96 L322.84,246.56 L322.71,246.16 L322.59,245.76 L322.45,245.36 L322.32,244.96 L322.18,244.56 L322.03,244.16 L321.88,243.76 L321.73,243.36 L321.57,242.96 L321.40,242.56 L321.24,242.16 L321.07,241.76 L320.90,241.36 L320.73,240.96 L320.56,240.56 L320.39,240.16 L320.21,239.76 L320.03,239.36 L319.85,238.96 L319.66,238.56 L319.47,238.16 L319.27,237.76 L319.07,237.36 L318.86,236.96 L318.65,236.56 L318.43,236.16 L318.21,235.76 L317.98,235.36 L317.75,234.96 L317.52,234.56 L317.29,234.16 L317.05,233.76 L316.82,233.36 L316.58,232.96 L316.34,232.56 L316.10,232.16 L315.85,231.76 L315.61,231.36 L315.37,230.96 L315.13,230.56 L314.89,230.16 L314.65,229.76 L314.41,229.36 L314.17,228.96 L313.93,228.56 L313.69,228.16 L313.45,227.76 L313.21,227.36 L312.97,226.96 L312.73,226.56 L312.49,226.16 L312.25,225.76 L312.01,225.36 L311.77,224.96 L311.53,224.56 L311.29,224.16 L311.04,223.76 L310.80,223.36 L310.55,222.96 L310.31,222.56 L310.07,222.16 L309.83,221.76 L309.60,221.36 L309.37,220.96 L309.15,220.56 L308.93,220.16 L308.72,219.76 L308.52,219.36 L308.31,218.96 L308.12,218.56 L307.92,218.16 L307.74,217.76 L307.56,217.36 L307.38,216.96 L307.20,216.56 L307.04,216.16 L306.87,215.76 L306.71,215.36 L306.56,214.96 L306.41,214.56 L306.26,214.16 L306.12,213.76 L305.99,213.36 L305.86,212.96 L305.74,212.56 L305.62,212.16 L305.50,211.76 L305.38,211.36 L305.27,210.96 L305.16,210.56 L305.05,210.16 L304.95,209.76 L304.84,209.36 L304.74,208.96 L304.66,208.56 L304.58,208.16 L304.50,207.76 L304.43,207.36 L304.36,206.96 L304.30,206.56 L304.24,206.16 L304.18,205.76 L304.12,205.36 L304.06,204.96 L304.01,204.56 L303.95,204.16 L303.90,203.76 L303.85,203.36 L303.81,202.96 L303.76,202.56 L303.72,202.16 L303.68,201.76 L303.64,201.36 L303.60,200.96 L303.56,200.56 L303.52,200.16 L303.49,199.76 L303.46,199.36 L303.43,198.96 L303.39,198.56 L303.36,198.16 L303.34,197.76 L303.31,197.36 L303.28,196.96 L303.25,196.56 L303.23,196.16 L303.21,195.76 L303.18,195.36 L303.16,194.96 L303.14,194.56 L303.13,194.16 L303.12,193.76Z" fill="#db8134" stroke="#303030" stroke-width="0.72" stroke-linejoin="round"/>
<line x1="302.85" x2="302.85" y1="193.76" y2="200.16" stroke="#222" stroke-width="0.45"/>
<line x1="302.85" x2="302.85" y1="326.56" y2="330.56" stroke="#222" stroke-width="0.45"/>
<line x1="302.75" x2="302.75" y1="205" y2="322" stroke="#222" stroke-width="0.5"/>
<line x1="303.05" x2="303.05" y1="245.0" y2="277.9" stroke="#333" stroke-width="1.9"/>
<rect x="302.05" y="260.50" width="2.0" height="0.6" fill="#fff" opacity="0.8"/>
<rect x="194.75" y="184.4" width="144.40" height="153.05" fill="none" stroke="#000" stroke-width="0.42"/>
<line x1="193.35" x2="194.75" y1="187.3" y2="187.3" stroke="#000" stroke-width="0.42"/>
<text transform="translate(191.40,189.40) scale(0.3425,0.33)" text-anchor="end" font-size="13.89">1.95</text>
<line x1="193.35" x2="194.75" y1="206.5" y2="206.5" stroke="#000" stroke-width="0.42"/>
<text transform="translate(191.40,208.60) scale(0.3425,0.33)" text-anchor="end" font-size="13.89">1.90</text>
<line x1="193.35" x2="194.75" y1="225.9" y2="225.9" stroke="#000" stroke-width="0.42"/>
<text transform="translate(191.40,228.00) scale(0.3425,0.33)" text-anchor="end" font-size="13.89">1.85</text>
<line x1="193.35" x2="194.75" y1="245.3" y2="245.3" stroke="#000" stroke-width="0.42"/>
<text transform="translate(191.40,247.40) scale(0.3425,0.33)" text-anchor="end" font-size="13.89">1.80</text>
<line x1="193.35" x2="194.75" y1="264.4" y2="264.4" stroke="#000" stroke-width="0.42"/>
<text transform="translate(191.40,266.50) scale(0.3425,0.33)" text-anchor="end" font-size="13.89">1.75</text>
<line x1="193.35" x2="194.75" y1="283.6" y2="283.6" stroke="#000" stroke-width="0.42"/>
<text transform="translate(191.40,285.70) scale(0.3425,0.33)" text-anchor="end" font-size="13.89">1.70</text>
<line x1="193.35" x2="194.75" y1="302.9" y2="302.9" stroke="#000" stroke-width="0.42"/>
<text transform="translate(191.40,305.00) scale(0.3425,0.33)" text-anchor="end" font-size="13.89">1.65</text>
<line x1="193.35" x2="194.75" y1="322.4" y2="322.4" stroke="#000" stroke-width="0.42"/>
<text transform="translate(191.40,324.50) scale(0.3425,0.33)" text-anchor="end" font-size="13.89">1.60</text>
<line x1="230.85" x2="230.85" y1="337.45" y2="338.85" stroke="#000" stroke-width="0.42"/>
<text transform="translate(230.85,343.90) scale(0.3425,0.33)" text-anchor="middle" font-size="13.89">SC</text>
<line x1="303.05" x2="303.05" y1="337.45" y2="338.85" stroke="#000" stroke-width="0.42"/>
<text transform="translate(303.05,343.90) scale(0.3425,0.33)" text-anchor="middle" font-size="13.89">IC</text>
<text transform="translate(266.95,349.60) scale(0.3425,0.33)" text-anchor="middle" font-size="13.89">Type</text>
<text transform="translate(266.95,182.10) scale(0.3425,0.33)" text-anchor="middle" font-size="16.67">MWL</text>
<text transform="translate(177.03,261.62) scale(0.3425,0.2933) rotate(-90)" text-anchor="middle" font-size="13.89">MWL</text>
<path d="M402.98,190.90 L402.97,191.30 L402.95,191.70 L402.93,192.10 L402.91,192.50 L402.88,192.90 L402.86,193.30 L402.84,193.70 L402.82,194.10 L402.80,194.50 L402.79,194.90 L402.77,195.30 L402.76,195.70 L402.75,196.10 L402.73,196.50 L402.73,196.90 L402.72,197.30 L402.71,197.70 L402.71,198.10 L402.71,198.50 L402.71,198.90 L402.71,199.30 L402.71,199.70 L402.71,200.10 L402.71,200.50 L402.71,200.90 L402.71,201.30 L402.71,201.70 L402.71,202.10 L402.71,202.50 L402.71,202.90 L402.71,203.30 L402.71,203.70 L402.71,204.10 L402.71,204.50 L402.71,204.90 L402.70,205.30 L402.70,205.70 L402.70,206.10 L402.69,206.50 L402.68,206.90 L402.67,207.30 L402.65,207.70 L402.64,208.10 L402.62,208.50 L402.60,208.90 L402.58,209.30 L402.56,209.70 L402.53,210.10 L402.50,210.50 L402.46,210.90 L402.41,211.30 L402.36,211.70 L402.30,212.10 L402.24,212.50 L402.18,212.90 L402.13,213.30 L402.07,213.70 L402.02,214.10 L401.96,214.50 L401.90,214.90 L401.85,215.30 L401.79,215.70 L401.73,216.10 L401.67,216.50 L401.61,216.90 L401.55,217.30 L401.49,217.70 L401.42,218.10 L401.34,218.50 L401.27,218.90 L401.19,219.30 L401.11,219.70 L401.03,220.10 L400.95,220.50 L400.87,220.90 L400.80,221.30 L400.72,221.70 L400.64,222.10 L400.56,222.50 L400.48,222.90 L400.39,223.30 L400.30,223.70 L400.19,224.10 L400.06,224.50 L399.92,224.90 L399.76,225.30 L399.57,225.70 L399.36,226.10 L399.13,226.50 L398.89,226.90 L398.63,227.30 L398.36,227.70 L398.09,228.10 L397.80,228.50 L397.50,228.90 L397.20,229.30 L396.88,229.70 L396.56,230.10 L396.23,230.50 L395.90,230.90 L395.58,231.30 L395.27,231.70 L394.97,232.10 L394.68,232.50 L394.40,232.90 L394.12,233.30 L393.84,233.70 L393.56,234.10 L393.28,234.50 L392.99,234.90 L392.70,235.30 L392.39,235.70 L392.08,236.10 L391.76,236.50 L391.44,236.90 L391.11,237.30 L390.79,237.70 L390.48,238.10 L390.17,238.50 L389.87,238.90 L389.59,239.30 L389.31,239.70 L389.03,240.10 L388.76,240.50 L388.48,240.90 L388.19,241.30 L387.90,241.70 L387.60,242.10 L387.29,242.50 L386.98,242.90 L386.65,243.30 L386.31,243.70 L385.94,244.10 L385.56,244.50 L385.14,244.90 L384.67,245.30 L384.15,245.70 L383.58,246.10 L382.96,246.50 L382.29,246.90 L381.61,247.30 L380.92,247.70 L380.23,248.10 L379.55,248.50 L378.89,248.90 L378.25,249.30 L377.65,249.70 L377.11,250.10 L376.62,250.50 L376.20,250.90 L375.83,251.30 L375.51,251.70 L375.24,252.10 L375.01,252.50 L374.83,252.90 L374.69,253.30 L374.58,253.70 L374.50,254.10 L374.44,254.50 L374.39,254.90 L374.37,255.30 L374.35,255.70 L374.36,256.10 L374.39,256.50 L374.43,256.90 L374.49,257.30 L374.56,257.70 L374.66,258.10 L374.78,258.50 L374.93,258.90 L375.11,259.30 L375.32,259.70 L375.55,260.10 L375.80,260.50 L376.07,260.90 L376.35,261.30 L376.65,261.70 L376.96,262.10 L377.29,262.50 L377.63,262.90 L377.99,263.30 L378.36,263.70 L378.75,264.10 L379.16,264.50 L379.59,264.90 L380.04,265.30 L380.51,265.70 L381.00,266.10 L381.52,266.50 L382.07,266.90 L382.64,267.30 L383.22,267.70 L383.81,268.10 L384.41,268.50 L385.00,268.90 L385.59,269.30 L386.17,269.70 L386.75,270.10 L387.32,270.50 L387.89,270.90 L388.45,271.30 L389.01,271.70 L389.56,272.10 L390.10,272.50 L390.64,272.90 L391.16,273.30 L391.69,273.70 L392.20,274.10 L392.71,274.50 L393.21,274.90 L393.70,275.30 L394.17,275.70 L394.64,276.10 L395.09,276.50 L395.53,276.90 L395.96,277.30 L396.38,277.70 L396.78,278.10 L397.17,278.50 L397.54,278.90 L397.90,279.30 L398.23,279.70 L398.54,280.10 L398.84,280.50 L399.13,280.90 L399.40,281.30 L399.65,281.70 L399.89,282.10 L400.12,282.50 L400.34,282.90 L400.55,283.30 L400.74,283.70 L400.93,284.10 L401.11,284.50 L401.28,284.90 L401.42,285.30 L401.54,285.70 L401.65,286.10 L401.73,286.50 L401.81,286.90 L401.87,287.30 L401.93,287.70 L401.98,288.10 L402.03,288.50 L402.08,288.90 L402.12,289.30 L402.16,289.70 L402.19,290.10 L402.22,290.50 L402.24,290.90 L402.26,291.30 L402.28,291.70 L402.30,292.10 L402.32,292.50 L402.34,292.90 L402.35,293.30 L402.36,293.70 L402.38,294.10 L402.39,294.50 L402.40,294.90 L402.41,295.30 L402.42,295.70 L402.43,296.10 L402.44,296.50 L402.45,296.90 L402.46,297.30 L402.47,297.70 L402.48,298.10 L402.48,298.50 L402.49,298.90 L402.50,299.30 L402.51,299.70 L402.52,300.10 L402.53,300.50 L402.55,300.90 L402.56,301.30 L402.57,301.70 L402.58,302.10 L402.59,302.50 L402.61,302.90 L402.62,303.30 L402.63,303.70 L402.65,304.10 L402.66,304.50 L402.68,304.90 L402.69,305.30 L402.71,305.70 L402.72,306.10 L402.74,306.50 L402.75,306.90 L402.77,307.30 L402.78,307.70 L402.80,308.10 L402.82,308.50 L402.83,308.90 L402.85,309.30 L402.87,309.70 L402.88,310.10 L402.90,310.50 L402.92,310.90 L402.93,311.30 L402.95,311.70 L402.97,312.10 L402.98,312.50 L403.12,312.50 L403.13,312.10 L403.15,311.70 L403.17,311.30 L403.18,310.90 L403.20,310.50 L403.22,310.10 L403.23,309.70 L403.25,309.30 L403.27,308.90 L403.28,308.50 L403.30,308.10 L403.32,307.70 L403.33,307.30 L403.35,306.90 L403.36,306.50 L403.38,306.10 L403.39,305.70 L403.41,305.30 L403.42,304.90 L403.44,304.50 L403.45,304.10 L403.47,303.70 L403.48,303.30 L403.49,302.90 L403.51,302.50 L403.52,302.10 L403.53,301.70 L403.54,301.30 L403.55,300.90 L403.57,300.50 L403.58,300.10 L403.59,299.70 L403.60,299.30 L403.61,298.90 L403.62,298.50 L403.62,298.10 L403.63,297.70 L403.64,297.30 L403.65,296.90 L403.66,296.50 L403.67,296.10 L403.68,295.70 L403.69,295.30 L403.70,294.90 L403.71,294.50 L403.72,294.10 L403.74,293.70 L403.75,293.30 L403.76,292.90 L403.78,292.50 L403.80,292.10 L403.82,291.70 L403.84,291.30 L403.86,290.90 L403.88,290.50 L403.91,290.10 L403.94,289.70 L403.98,289.30 L404.02,288.90 L404.07,288.50 L404.12,288.10 L404.17,287.70 L404.23,287.30 L404.29,286.90 L404.37,286.50 L404.45,286.10 L404.56,285.70 L404.68,285.30 L404.82,284.90 L404.99,284.50 L405.17,284.10 L405.36,283.70 L405.55,283.30 L405.76,282.90 L405.98,282.50 L406.21,282.10 L406.45,281.70 L406.70,281.30 L406.97,280.90 L407.26,280.50 L407.56,280.10 L407.87,279.70 L408.20,279.30 L408.56,278.90 L408.93,278.50 L409.32,278.10 L409.72,277.70 L410.14,277.30 L410.57,276.90 L411.01,276.50 L411.46,276.10 L411.93,275.70 L412.40,275.30 L412.89,274.90 L413.39,274.50 L413.90,274.10 L414.41,273.70 L414.94,273.30 L415.46,272.90 L416.00,272.50 L416.54,272.10 L417.09,271.70 L417.65,271.30 L418.21,270.90 L418.78,270.50 L419.35,270.10 L419.93,269.70 L420.51,269.30 L421.10,268.90 L421.69,268.50 L422.29,268.10 L422.88,267.70 L423.46,267.30 L424.03,266.90 L424.58,266.50 L425.10,266.10 L425.59,265.70 L426.06,265.30 L426.51,264.90 L426.94,264.50 L427.35,264.10 L427.74,263.70 L428.11,263.30 L428.47,262.90 L428.81,262.50 L429.14,262.10 L429.45,261.70 L429.75,261.30 L430.03,260.90 L430.30,260.50 L430.55,260.10 L430.78,259.70 L430.99,259.30 L431.17,258.90 L431.32,258.50 L431.44,258.10 L431.54,257.70 L431.61,257.30 L431.67,256.90 L431.71,256.50 L431.74,256.10 L431.75,255.70 L431.73,255.30 L431.71,254.90 L431.66,254.50 L431.60,254.10 L431.52,253.70 L431.41,253.30 L431.27,252.90 L431.09,252.50 L430.86,252.10 L430.59,251.70 L430.27,251.30 L429.90,250.90 L429.48,250.50 L428.99,250.10 L428.45,249.70 L427.85,249.30 L427.21,248.90 L426.55,248.50 L425.87,248.10 L425.18,247.70 L424.49,247.30 L423.81,246.90 L423.14,246.50 L422.52,246.10 L421.95,245.70 L421.43,245.30 L420.96,244.90 L420.54,244.50 L420.16,244.10 L419.79,243.70 L419.45,243.30 L419.12,242.90 L418.81,242.50 L418.50,242.10 L418.20,241.70 L417.91,241.30 L417.62,240.90 L417.34,240.50 L417.07,240.10 L416.79,239.70 L416.51,239.30 L416.23,238.90 L415.93,238.50 L415.62,238.10 L415.31,237.70 L414.99,237.30 L414.66,236.90 L414.34,236.50 L414.02,236.10 L413.71,235.70 L413.40,235.30 L413.11,234.90 L412.82,234.50 L412.54,234.10 L412.26,233.70 L411.98,233.30 L411.70,232.90 L411.42,232.50 L411.13,232.10 L410.83,231.70 L410.52,231.30 L410.20,230.90 L409.87,230.50 L409.54,230.10 L409.22,229.70 L408.90,229.30 L408.60,228.90 L408.30,228.50 L408.01,228.10 L407.74,227.70 L407.47,227.30 L407.21,226.90 L406.97,226.50 L406.74,226.10 L406.53,225.70 L406.34,225.30 L406.18,224.90 L406.04,224.50 L405.91,224.10 L405.80,223.70 L405.71,223.30 L405.62,222.90 L405.54,222.50 L405.46,222.10 L405.38,221.70 L405.30,221.30 L405.23,220.90 L405.15,220.50 L405.07,220.10 L404.99,219.70 L404.91,219.30 L404.83,218.90 L404.76,218.50 L404.68,218.10 L404.61,217.70 L404.55,217.30 L404.49,216.90 L404.43,216.50 L404.37,216.10 L404.31,215.70 L404.25,215.30 L404.20,214.90 L404.14,214.50 L404.08,214.10 L404.03,213.70 L403.97,213.30 L403.92,212.90 L403.86,212.50 L403.80,212.10 L403.74,211.70 L403.69,211.30 L403.64,210.90 L403.60,210.50 L403.57,210.10 L403.54,209.70 L403.52,209.30 L403.50,208.90 L403.48,208.50 L403.46,208.10 L403.45,207.70 L403.43,207.30 L403.42,206.90 L403.41,206.50 L403.40,206.10 L403.40,205.70 L403.40,205.30 L403.39,204.90 L403.39,204.50 L403.39,204.10 L403.39,203.70 L403.39,203.30 L403.39,202.90 L403.39,202.50 L403.39,202.10 L403.39,201.70 L403.39,201.30 L403.39,200.90 L403.39,200.50 L403.39,200.10 L403.39,199.70 L403.39,199.30 L403.39,198.90 L403.39,198.50 L403.39,198.10 L403.39,197.70 L403.38,197.30 L403.37,196.90 L403.37,196.50 L403.35,196.10 L403.34,195.70 L403.33,195.30 L403.31,194.90 L403.30,194.50 L403.28,194.10 L403.26,193.70 L403.24,193.30 L403.22,192.90 L403.19,192.50 L403.17,192.10 L403.15,191.70 L403.13,191.30 L403.12,190.90Z" fill="#457ca3" stroke="#303030" stroke-width="0.72" stroke-linejoin="round"/>
<line x1="402.85" x2="402.85" y1="190.90" y2="209.30" stroke="#222" stroke-width="0.45"/>
<line x1="402.85" x2="402.85" y1="302.50" y2="312.50" stroke="#222" stroke-width="0.45"/>
<line x1="402.75" x2="402.75" y1="222" y2="300" stroke="#222" stroke-width="0.5"/>
<line x1="403.05" x2="403.05" y1="247.7" y2="266.5" stroke="#333" stroke-width="1.9"/>
<rect x="402.05" y="256.80" width="2.0" height="0.6" fill="#fff" opacity="0.8"/>
<path d="M475.19,223.76 L475.19,224.16 L475.18,224.56 L475.17,224.96 L475.16,225.36 L475.14,225.76 L475.13,226.16 L475.11,226.56 L475.09,226.96 L475.07,227.36 L475.05,227.76 L475.03,228.16 L475.01,228.56 L474.99,228.96 L474.96,229.36 L474.94,229.76 L474.91,230.16 L474.88,230.56 L474.86,230.96 L474.83,231.36 L474.79,231.76 L474.76,232.16 L474.72,232.56 L474.68,232.96 L474.64,233.36 L474.59,233.76 L474.55,234.16 L474.51,234.56 L474.46,234.96 L474.41,235.36 L474.36,235.76 L474.31,236.16 L474.26,236.56 L474.20,236.96 L474.14,237.36 L474.08,237.76 L474.02,238.16 L473.95,238.56 L473.88,238.96 L473.81,239.36 L473.72,239.76 L473.63,240.16 L473.52,240.56 L473.40,240.96 L473.27,241.36 L473.13,241.76 L472.99,242.16 L472.84,242.56 L472.68,242.96 L472.51,243.36 L472.34,243.76 L472.16,244.16 L471.97,244.56 L471.77,244.96 L471.57,245.36 L471.36,245.76 L471.14,246.16 L470.91,246.56 L470.68,246.96 L470.44,247.36 L470.19,247.76 L469.94,248.16 L469.70,248.56 L469.45,248.96 L469.21,249.36 L468.97,249.76 L468.73,250.16 L468.49,250.56 L468.25,250.96 L468.01,251.36 L467.77,251.76 L467.53,252.16 L467.29,252.56 L467.05,252.96 L466.81,253.36 L466.57,253.76 L466.33,254.16 L466.09,254.56 L465.85,254.96 L465.61,255.36 L465.37,255.76 L465.12,256.16 L464.88,256.56 L464.63,256.96 L464.39,257.36 L464.15,257.76 L463.91,258.16 L463.68,258.56 L463.45,258.96 L463.23,259.36 L463.01,259.76 L462.80,260.16 L462.60,260.56 L462.40,260.96 L462.20,261.36 L462.01,261.76 L461.81,262.16 L461.61,262.56 L461.41,262.96 L461.21,263.36 L461.02,263.76 L460.82,264.16 L460.62,264.56 L460.42,264.96 L460.22,265.36 L460.02,265.76 L459.82,266.16 L459.62,266.56 L459.42,266.96 L459.22,267.36 L459.02,267.76 L458.82,268.16 L458.62,268.56 L458.42,268.96 L458.22,269.36 L458.01,269.76 L457.81,270.16 L457.61,270.56 L457.40,270.96 L457.18,271.36 L456.96,271.76 L456.72,272.16 L456.45,272.56 L456.16,272.96 L455.83,273.36 L455.47,273.76 L455.09,274.16 L454.69,274.56 L454.30,274.96 L453.94,275.36 L453.61,275.76 L453.32,276.16 L453.06,276.56 L452.83,276.96 L452.62,277.36 L452.43,277.76 L452.25,278.16 L452.10,278.56 L451.97,278.96 L451.85,279.36 L451.75,279.76 L451.66,280.16 L451.58,280.56 L451.51,280.96 L451.44,281.36 L451.39,281.76 L451.36,282.16 L451.34,282.56 L451.34,282.96 L451.36,283.36 L451.40,283.76 L451.46,284.16 L451.54,284.56 L451.63,284.96 L451.74,285.36 L451.86,285.76 L452.00,286.16 L452.16,286.56 L452.35,286.96 L452.57,287.36 L452.82,287.76 L453.09,288.16 L453.37,288.56 L453.67,288.96 L453.97,289.36 L454.28,289.76 L454.60,290.16 L454.92,290.56 L455.25,290.96 L455.59,291.36 L455.94,291.76 L456.29,292.16 L456.64,292.56 L457.00,292.96 L457.35,293.36 L457.71,293.76 L458.07,294.16 L458.43,294.56 L458.79,294.96 L459.15,295.36 L459.51,295.76 L459.87,296.16 L460.23,296.56 L460.60,296.96 L460.96,297.36 L461.32,297.76 L461.68,298.16 L462.04,298.56 L462.40,298.96 L462.76,299.36 L463.11,299.76 L463.46,300.16 L463.81,300.56 L464.16,300.96 L464.51,301.36 L464.85,301.76 L465.19,302.16 L465.52,302.56 L465.85,302.96 L466.17,303.36 L466.49,303.76 L466.81,304.16 L467.12,304.56 L467.42,304.96 L467.72,305.36 L468.01,305.76 L468.30,306.16 L468.58,306.56 L468.84,306.96 L469.11,307.36 L469.36,307.76 L469.61,308.16 L469.85,308.56 L470.08,308.96 L470.31,309.36 L470.54,309.76 L470.76,310.16 L470.98,310.56 L471.19,310.96 L471.40,311.36 L471.61,311.76 L471.81,312.16 L472.00,312.56 L472.19,312.96 L472.37,313.36 L472.54,313.76 L472.70,314.16 L472.86,314.56 L473.01,314.96 L473.15,315.36 L473.29,315.76 L473.42,316.16 L473.53,316.56 L473.63,316.96 L473.72,317.36 L473.79,317.76 L473.86,318.16 L473.92,318.56 L473.97,318.96 L474.03,319.36 L474.08,319.76 L474.13,320.16 L474.18,320.56 L474.22,320.96 L474.27,321.36 L474.32,321.76 L474.37,322.16 L474.42,322.56 L474.46,322.96 L474.51,323.36 L474.56,323.76 L474.60,324.16 L474.65,324.56 L474.69,324.96 L474.73,325.36 L474.77,325.76 L474.81,326.16 L474.85,326.56 L474.88,326.96 L474.92,327.36 L474.95,327.76 L474.99,328.16 L475.02,328.56 L475.06,328.96 L475.09,329.36 L475.12,329.76 L475.15,330.16 L475.17,330.56 L475.33,330.56 L475.35,330.16 L475.38,329.76 L475.41,329.36 L475.44,328.96 L475.48,328.56 L475.51,328.16 L475.55,327.76 L475.58,327.36 L475.62,326.96 L475.65,326.56 L475.69,326.16 L475.73,325.76 L475.77,325.36 L475.81,324.96 L475.85,324.56 L475.90,324.16 L475.94,323.76 L475.99,323.36 L476.04,322.96 L476.08,322.56 L476.13,322.16 L476.18,321.76 L476.23,321.36 L476.28,320.96 L476.32,320.56 L476.37,320.16 L476.42,319.76 L476.47,319.36 L476.53,318.96 L476.58,318.56 L476.64,318.16 L476.71,317.76 L476.78,317.36 L476.87,316.96 L476.97,316.56 L477.08,316.16 L477.21,315.76 L477.35,315.36 L477.49,314.96 L477.64,314.56 L477.80,314.16 L477.96,313.76 L478.13,313.36 L478.31,312.96 L478.50,312.56 L478.69,312.16 L478.89,311.76 L479.10,311.36 L479.31,310.96 L479.52,310.56 L479.74,310.16 L479.96,309.76 L480.19,309.36 L480.42,308.96 L480.65,308.56 L480.89,308.16 L481.14,307.76 L481.39,307.36 L481.66,306.96 L481.92,306.56 L482.20,306.16 L482.49,305.76 L482.78,305.36 L483.08,304.96 L483.38,304.56 L483.69,304.16 L484.01,303.76 L484.33,303.36 L484.65,302.96 L484.98,302.56 L485.31,302.16 L485.65,301.76 L485.99,301.36 L486.34,300.96 L486.69,300.56 L487.04,300.16 L487.39,299.76 L487.74,299.36 L488.10,298.96 L488.46,298.56 L488.82,298.16 L489.18,297.76 L489.54,297.36 L489.90,296.96 L490.27,296.56 L490.63,296.16 L490.99,295.76 L491.35,295.36 L491.71,294.96 L492.07,294.56 L492.43,294.16 L492.79,293.76 L493.15,293.36 L493.50,292.96 L493.86,292.56 L494.21,292.16 L494.56,291.76 L494.91,291.36 L495.25,290.96 L495.58,290.56 L495.90,290.16 L496.22,289.76 L496.53,289.36 L496.83,288.96 L497.13,288.56 L497.41,288.16 L497.68,287.76 L497.93,287.36 L498.15,286.96 L498.34,286.56 L498.50,286.16 L498.64,285.76 L498.76,285.36 L498.87,284.96 L498.96,284.56 L499.04,284.16 L499.10,283.76 L499.14,283.36 L499.16,282.96 L499.16,282.56 L499.14,282.16 L499.11,281.76 L499.06,281.36 L498.99,280.96 L498.92,280.56 L498.84,280.16 L498.75,279.76 L498.65,279.36 L498.53,278.96 L498.40,278.56 L498.25,278.16 L498.07,277.76 L497.88,277.36 L497.67,276.96 L497.44,276.56 L497.18,276.16 L496.89,275.76 L496.56,275.36 L496.20,274.96 L495.81,274.56 L495.41,274.16 L495.03,273.76 L494.67,273.36 L494.34,272.96 L494.05,272.56 L493.78,272.16 L493.54,271.76 L493.32,271.36 L493.10,270.96 L492.89,270.56 L492.69,270.16 L492.49,269.76 L492.28,269.36 L492.08,268.96 L491.88,268.56 L491.68,268.16 L491.48,267.76 L491.28,267.36 L491.08,266.96 L490.88,266.56 L490.68,266.16 L490.48,265.76 L490.28,265.36 L490.08,264.96 L489.88,264.56 L489.68,264.16 L489.48,263.76 L489.29,263.36 L489.09,262.96 L488.89,262.56 L488.69,262.16 L488.49,261.76 L488.30,261.36 L488.10,260.96 L487.90,260.56 L487.70,260.16 L487.49,259.76 L487.27,259.36 L487.05,258.96 L486.82,258.56 L486.59,258.16 L486.35,257.76 L486.11,257.36 L485.87,256.96 L485.62,256.56 L485.38,256.16 L485.13,255.76 L484.89,255.36 L484.65,254.96 L484.41,254.56 L484.17,254.16 L483.93,253.76 L483.69,253.36 L483.45,252.96 L483.21,252.56 L482.97,252.16 L482.73,251.76 L482.49,251.36 L482.25,250.96 L482.01,250.56 L481.77,250.16 L481.53,249.76 L481.29,249.36 L481.05,248.96 L480.80,248.56 L480.56,248.16 L480.31,247.76 L480.06,247.36 L479.82,246.96 L479.59,246.56 L479.36,246.16 L479.14,245.76 L478.93,245.36 L478.73,244.96 L478.53,244.56 L478.34,244.16 L478.16,243.76 L477.99,243.36 L477.82,242.96 L477.66,242.56 L477.51,242.16 L477.37,241.76 L477.23,241.36 L477.10,240.96 L476.98,240.56 L476.87,240.16 L476.78,239.76 L476.69,239.36 L476.62,238.96 L476.55,238.56 L476.48,238.16 L476.42,237.76 L476.36,237.36 L476.30,236.96 L476.24,236.56 L476.19,236.16 L476.14,235.76 L476.09,235.36 L476.04,234.96 L475.99,234.56 L475.95,234.16 L475.91,233.76 L475.86,233.36 L475.82,232.96 L475.78,232.56 L475.74,232.16 L475.71,231.76 L475.67,231.36 L475.64,230.96 L475.62,230.56 L475.59,230.16 L475.56,229.76 L475.54,229.36 L475.51,228.96 L475.49,228.56 L475.47,228.16 L475.45,227.76 L475.43,227.36 L475.41,226.96 L475.39,226.56 L475.37,226.16 L475.36,225.76 L475.34,225.36 L475.33,224.96 L475.32,224.56 L475.31,224.16 L475.31,223.76Z" fill="#db8134" stroke="#303030" stroke-width="0.72" stroke-linejoin="round"/>
<line x1="475.05" x2="475.05" y1="223.76" y2="231.76" stroke="#222" stroke-width="0.45"/>
<line x1="475.05" x2="475.05" y1="325.76" y2="330.56" stroke="#222" stroke-width="0.45"/>
<line x1="474.95" x2="474.95" y1="242" y2="322" stroke="#222" stroke-width="0.5"/>
<line x1="475.25" x2="475.25" y1="268.7" y2="291.0" stroke="#333" stroke-width="1.9"/>
<rect x="474.25" y="280.00" width="2.0" height="0.6" fill="#fff" opacity="0.8"/>
<rect x="366.95" y="184.4" width="144.40" height="153.05" fill="none" stroke="#000" stroke-width="0.42"/>
<line x1="365.55" x2="366.95" y1="208.3" y2="208.3" stroke="#000" stroke-width="0.42"/>
<text transform="translate(363.60,210.40) scale(0.3425,0.33)" text-anchor="end" font-size="13.89">1200</text>
<line x1="365.55" x2="366.95" y1="237.5" y2="237.5" stroke="#000" stroke-width="0.42"/>
<text transform="translate(363.60,239.60) scale(0.3425,0.33)" text-anchor="end" font-size="13.89">1000</text>
<line x1="365.55" x2="366.95" y1="267.1" y2="267.1" stroke="#000" stroke-width="0.42"/>
<text transform="translate(363.60,269.20) scale(0.3425,0.33)" text-anchor="end" font-size="13.89">800</text>
<line x1="365.55" x2="366.95" y1="296.5" y2="296.5" stroke="#000" stroke-width="0.42"/>
<text transform="translate(363.60,298.60) scale(0.3425,0.33)" text-anchor="end" font-size="13.89">600</text>
<line x1="365.55" x2="366.95" y1="325.9" y2="325.9" stroke="#000" stroke-width="0.42"/>
<text transform="translate(363.60,328.00) scale(0.3425,0.33)" text-anchor="end" font-size="13.89">400</text>
<line x1="403.05" x2="403.05" y1="337.45" y2="338.85" stroke="#000" stroke-width="0.42"/>
<text transform="translate(403.05,343.90) scale(0.3425,0.33)" text-anchor="middle" font-size="13.89">SC</text>
<line x1="475.25" x2="475.25" y1="337.45" y2="338.85" stroke="#000" stroke-width="0.42"/>
<text transform="translate(475.25,343.90) scale(0.3425,0.33)" text-anchor="middle" font-size="13.89">IC</text>
<text transform="translate(439.15,349.60) scale(0.3425,0.33)" text-anchor="middle" font-size="13.89">Type</text>
<text transform="translate(439.15,182.10) scale(0.3425,0.33)" text-anchor="middle" font-size="16.67">MWR</text>
<text transform="translate(347.72,261.62) scale(0.3425,0.2933) rotate(-90)" text-anchor="middle" font-size="13.89">MWR</text>
<path d="M575.13,190.90 L575.12,191.30 L575.11,191.70 L575.09,192.10 L575.08,192.50 L575.06,192.90 L575.04,193.30 L575.02,193.70 L575.01,194.10 L574.99,194.50 L574.98,194.90 L574.96,195.30 L574.95,195.70 L574.93,196.10 L574.92,196.50 L574.90,196.90 L574.89,197.30 L574.88,197.70 L574.86,198.10 L574.85,198.50 L574.84,198.90 L574.83,199.30 L574.82,199.70 L574.81,200.10 L574.80,200.50 L574.79,200.90 L574.78,201.30 L574.77,201.70 L574.76,202.10 L574.75,202.50 L574.74,202.90 L574.73,203.30 L574.72,203.70 L574.71,204.10 L574.70,204.50 L574.69,204.90 L574.68,205.30 L574.67,205.70 L574.67,206.10 L574.66,206.50 L574.65,206.90 L574.64,207.30 L574.64,207.70 L574.63,208.10 L574.62,208.50 L574.61,208.90 L574.60,209.30 L574.59,209.70 L574.58,210.10 L574.57,210.50 L574.56,210.90 L574.54,211.30 L574.51,211.70 L574.48,212.10 L574.44,212.50 L574.39,212.90 L574.34,213.30 L574.27,213.70 L574.20,214.10 L574.13,214.50 L574.06,214.90 L573.98,215.30 L573.90,215.70 L573.82,216.10 L573.72,216.50 L573.60,216.90 L573.48,217.30 L573.33,217.70 L573.18,218.10 L573.03,218.50 L572.87,218.90 L572.72,219.30 L572.56,219.70 L572.40,220.10 L572.24,220.50 L572.08,220.90 L571.92,221.30 L571.76,221.70 L571.60,222.10 L571.44,222.50 L571.28,222.90 L571.12,223.30 L570.96,223.70 L570.80,224.10 L570.64,224.50 L570.48,224.90 L570.31,225.30 L570.15,225.70 L569.98,226.10 L569.81,226.50 L569.63,226.90 L569.46,227.30 L569.28,227.70 L569.09,228.10 L568.90,228.50 L568.69,228.90 L568.48,229.30 L568.26,229.70 L568.03,230.10 L567.80,230.50 L567.56,230.90 L567.31,231.30 L567.06,231.70 L566.81,232.10 L566.56,232.50 L566.30,232.90 L566.05,233.30 L565.79,233.70 L565.53,234.10 L565.27,234.50 L565.01,234.90 L564.74,235.30 L564.47,235.70 L564.20,236.10 L563.92,236.50 L563.64,236.90 L563.36,237.30 L563.08,237.70 L562.80,238.10 L562.52,238.50 L562.25,238.90 L561.98,239.30 L561.71,239.70 L561.45,240.10 L561.19,240.50 L560.94,240.90 L560.68,241.30 L560.42,241.70 L560.15,242.10 L559.87,242.50 L559.58,242.90 L559.28,243.30 L558.97,243.70 L558.64,244.10 L558.30,244.50 L557.95,244.90 L557.58,245.30 L557.20,245.70 L556.81,246.10 L556.42,246.50 L556.02,246.90 L555.62,247.30 L555.21,247.70 L554.79,248.10 L554.37,248.50 L553.95,248.90 L553.52,249.30 L553.10,249.70 L552.68,250.10 L552.27,250.50 L551.87,250.90 L551.47,251.30 L551.08,251.70 L550.69,252.10 L550.32,252.50 L549.96,252.90 L549.62,253.30 L549.30,253.70 L549.00,254.10 L548.73,254.50 L548.47,254.90 L548.24,255.30 L548.01,255.70 L547.81,256.10 L547.62,256.50 L547.45,256.90 L547.30,257.30 L547.16,257.70 L547.04,258.10 L546.92,258.50 L546.82,258.90 L546.73,259.30 L546.65,259.70 L546.58,260.10 L546.54,260.50 L546.52,260.90 L546.52,261.30 L546.54,261.70 L546.59,262.10 L546.65,262.50 L546.73,262.90 L546.83,263.30 L546.93,263.70 L547.05,264.10 L547.18,264.50 L547.33,264.90 L547.50,265.30 L547.68,265.70 L547.89,266.10 L548.12,266.50 L548.37,266.90 L548.63,267.30 L548.92,267.70 L549.22,268.10 L549.55,268.50 L549.91,268.90 L550.29,269.30 L550.69,269.70 L551.11,270.10 L551.54,270.50 L551.98,270.90 L552.43,271.30 L552.89,271.70 L553.37,272.10 L553.85,272.50 L554.34,272.90 L554.85,273.30 L555.36,273.70 L555.88,274.10 L556.41,274.50 L556.95,274.90 L557.50,275.30 L558.06,275.70 L558.62,276.10 L559.19,276.50 L559.75,276.90 L560.31,277.30 L560.86,277.70 L561.39,278.10 L561.92,278.50 L562.43,278.90 L562.92,279.30 L563.41,279.70 L563.89,280.10 L564.36,280.50 L564.83,280.90 L565.28,281.30 L565.72,281.70 L566.16,282.10 L566.58,282.50 L567.00,282.90 L567.41,283.30 L567.81,283.70 L568.19,284.10 L568.55,284.50 L568.90,284.90 L569.23,285.30 L569.55,285.70 L569.86,286.10 L570.15,286.50 L570.43,286.90 L570.70,287.30 L570.95,287.70 L571.20,288.10 L571.44,288.50 L571.67,288.90 L571.90,289.30 L572.11,289.70 L572.32,290.10 L572.52,290.50 L572.70,290.90 L572.88,291.30 L573.04,291.70 L573.19,292.10 L573.34,292.50 L573.47,292.90 L573.58,293.30 L573.68,293.70 L573.77,294.10 L573.85,294.50 L573.92,294.90 L573.99,295.30 L574.06,295.70 L574.12,296.10 L574.18,296.50 L574.24,296.90 L574.31,297.30 L574.37,297.70 L574.43,298.10 L574.49,298.50 L574.56,298.90 L574.62,299.30 L574.69,299.70 L574.75,300.10 L574.81,300.50 L574.87,300.90 L574.93,301.30 L574.98,301.70 L575.03,302.10 L575.08,302.50 L575.11,302.90 L575.29,302.90 L575.32,302.50 L575.37,302.10 L575.42,301.70 L575.47,301.30 L575.53,300.90 L575.59,300.50 L575.65,300.10 L575.71,299.70 L575.78,299.30 L575.84,298.90 L575.91,298.50 L575.97,298.10 L576.03,297.70 L576.09,297.30 L576.16,296.90 L576.22,296.50 L576.28,296.10 L576.34,295.70 L576.41,295.30 L576.48,294.90 L576.55,294.50 L576.63,294.10 L576.72,293.70 L576.82,293.30 L576.93,292.90 L577.06,292.50 L577.21,292.10 L577.36,291.70 L577.52,291.30 L577.70,290.90 L577.88,290.50 L578.08,290.10 L578.29,289.70 L578.50,289.30 L578.73,288.90 L578.96,288.50 L579.20,288.10 L579.45,287.70 L579.70,287.30 L579.97,286.90 L580.25,286.50 L580.54,286.10 L580.85,285.70 L581.17,285.30 L581.50,284.90 L581.85,284.50 L582.21,284.10 L582.59,283.70 L582.99,283.30 L583.40,282.90 L583.82,282.50 L584.24,282.10 L584.68,281.70 L585.12,281.30 L585.57,280.90 L586.04,280.50 L586.51,280.10 L586.99,279.70 L587.48,279.30 L587.97,278.90 L588.48,278.50 L589.01,278.10 L589.54,277.70 L590.09,277.30 L590.65,276.90 L591.21,276.50 L591.78,276.10 L592.34,275.70 L592.90,275.30 L593.45,274.90 L593.99,274.50 L594.52,274.10 L595.04,273.70 L595.55,273.30 L596.06,272.90 L596.55,272.50 L597.03,272.10 L597.51,271.70 L597.97,271.30 L598.42,270.90 L598.86,270.50 L599.29,270.10 L599.71,269.70 L600.11,269.30 L600.49,268.90 L600.85,268.50 L601.18,268.10 L601.48,267.70 L601.77,267.30 L602.03,266.90 L602.28,266.50 L602.51,266.10 L602.72,265.70 L602.90,265.30 L603.07,264.90 L603.22,264.50 L603.35,264.10 L603.47,263.70 L603.57,263.30 L603.67,262.90 L603.75,262.50 L603.81,262.10 L603.86,261.70 L603.88,261.30 L603.88,260.90 L603.86,260.50 L603.82,260.10 L603.75,259.70 L603.67,259.30 L603.58,258.90 L603.48,258.50 L603.36,258.10 L603.24,257.70 L603.10,257.30 L602.95,256.90 L602.78,256.50 L602.59,256.10 L602.39,255.70 L602.16,255.30 L601.93,254.90 L601.67,254.50 L601.40,254.10 L601.10,253.70 L600.78,253.30 L600.44,252.90 L600.08,252.50 L599.71,252.10 L599.32,251.70 L598.93,251.30 L598.53,250.90 L598.13,250.50 L597.72,250.10 L597.30,249.70 L596.88,249.30 L596.45,248.90 L596.03,248.50 L595.61,248.10 L595.19,247.70 L594.78,247.30 L594.38,246.90 L593.98,246.50 L593.59,246.10 L593.20,245.70 L592.82,245.30 L592.45,244.90 L592.10,244.50 L591.76,244.10 L591.43,243.70 L591.12,243.30 L590.82,242.90 L590.53,242.50 L590.25,242.10 L589.98,241.70 L589.72,241.30 L589.46,240.90 L589.21,240.50 L588.95,240.10 L588.69,239.70 L588.42,239.30 L588.15,238.90 L587.88,238.50 L587.60,238.10 L587.32,237.70 L587.04,237.30 L586.76,236.90 L586.48,236.50 L586.20,236.10 L585.93,235.70 L585.66,235.30 L585.39,234.90 L585.13,234.50 L584.87,234.10 L584.61,233.70 L584.35,233.30 L584.10,232.90 L583.84,232.50 L583.59,232.10 L583.34,231.70 L583.09,231.30 L582.84,230.90 L582.60,230.50 L582.37,230.10 L582.14,229.70 L581.92,229.30 L581.71,228.90 L581.50,228.50 L581.31,228.10 L581.12,227.70 L580.94,227.30 L580.77,226.90 L580.59,226.50 L580.42,226.10 L580.25,225.70 L580.09,225.30 L579.92,224.90 L579.76,224.50 L579.60,224.10 L579.44,223.70 L579.28,223.30 L579.12,222.90 L578.96,222.50 L578.80,222.10 L578.64,221.70 L578.48,221.30 L578.32,220.90 L578.16,220.50 L578.00,220.10 L577.84,219.70 L577.68,219.30 L577.53,218.90 L577.37,218.50 L577.22,218.10 L577.07,217.70 L576.92,217.30 L576.80,216.90 L576.68,216.50 L576.58,216.10 L576.50,215.70 L576.42,215.30 L576.34,214.90 L576.27,214.50 L576.20,214.10 L576.13,213.70 L576.06,213.30 L576.01,212.90 L575.96,212.50 L575.92,212.10 L575.89,211.70 L575.86,211.30 L575.84,210.90 L575.83,210.50 L575.82,210.10 L575.81,209.70 L575.80,209.30 L575.79,208.90 L575.78,208.50 L575.77,208.10 L575.76,207.70 L575.76,207.30 L575.75,206.90 L575.74,206.50 L575.73,206.10 L575.73,205.70 L575.72,205.30 L575.71,204.90 L575.70,204.50 L575.69,204.10 L575.68,203.70 L575.67,203.30 L575.66,202.90 L575.65,202.50 L575.64,202.10 L575.63,201.70 L575.62,201.30 L575.61,200.90 L575.60,200.50 L575.59,200.10 L575.58,199.70 L575.57,199.30 L575.56,198.90 L575.55,198.50 L575.54,198.10 L575.52,197.70 L575.51,197.30 L575.50,196.90 L575.48,196.50 L575.47,196.10 L575.45,195.70 L575.44,195.30 L575.42,194.90 L575.41,194.50 L575.39,194.10 L575.38,193.70 L575.36,193.30 L575.34,192.90 L575.32,192.50 L575.31,192.10 L575.29,191.70 L575.28,191.30 L575.27,190.90Z" fill="#457ca3" stroke="#303030" stroke-width="0.72" stroke-linejoin="round"/>
<line x1="575.00" x2="575.00" y1="190.90" y2="202.50" stroke="#222" stroke-width="0.45"/>
<line x1="575.00" x2="575.00" y1="299.70" y2="302.90" stroke="#222" stroke-width="0.45"/>
<line x1="574.90" x2="574.90" y1="224" y2="296" stroke="#222" stroke-width="0.5"/>
<line x1="575.20" x2="575.20" y1="248.3" y2="269.6" stroke="#333" stroke-width="1.9"/>
<rect x="574.20" y="259.90" width="2.0" height="0.6" fill="#fff" opacity="0.8"/>
<path d="M647.34,218.56 L647.33,218.96 L647.31,219.36 L647.29,219.76 L647.27,220.16 L647.25,220.56 L647.22,220.96 L647.19,221.36 L647.15,221.76 L647.12,222.16 L647.08,222.56 L647.04,222.96 L646.99,223.36 L646.95,223.76 L646.89,224.16 L646.83,224.56 L646.77,224.96 L646.71,225.36 L646.64,225.76 L646.57,226.16 L646.50,226.56 L646.43,226.96 L646.35,227.36 L646.27,227.76 L646.18,228.16 L646.09,228.56 L645.99,228.96 L645.88,229.36 L645.76,229.76 L645.62,230.16 L645.46,230.56 L645.29,230.96 L645.11,231.36 L644.92,231.76 L644.73,232.16 L644.54,232.56 L644.33,232.96 L644.12,233.36 L643.90,233.76 L643.68,234.16 L643.44,234.56 L643.20,234.96 L642.96,235.36 L642.70,235.76 L642.44,236.16 L642.18,236.56 L641.90,236.96 L641.62,237.36 L641.33,237.76 L641.04,238.16 L640.73,238.56 L640.42,238.96 L640.10,239.36 L639.78,239.76 L639.45,240.16 L639.11,240.56 L638.76,240.96 L638.41,241.36 L638.05,241.76 L637.68,242.16 L637.31,242.56 L636.93,242.96 L636.55,243.36 L636.16,243.76 L635.77,244.16 L635.37,244.56 L634.96,244.96 L634.56,245.36 L634.16,245.76 L633.76,246.16 L633.37,246.56 L632.98,246.96 L632.60,247.36 L632.23,247.76 L631.86,248.16 L631.49,248.56 L631.14,248.96 L630.79,249.36 L630.45,249.76 L630.12,250.16 L629.80,250.56 L629.49,250.96 L629.19,251.36 L628.89,251.76 L628.61,252.16 L628.35,252.56 L628.10,252.96 L627.86,253.36 L627.65,253.76 L627.44,254.16 L627.25,254.56 L627.07,254.96 L626.90,255.36 L626.74,255.76 L626.61,256.16 L626.49,256.56 L626.39,256.96 L626.30,257.36 L626.22,257.76 L626.16,258.16 L626.11,258.56 L626.07,258.96 L626.05,259.36 L626.05,259.76 L626.07,260.16 L626.11,260.56 L626.16,260.96 L626.23,261.36 L626.30,261.76 L626.39,262.16 L626.49,262.56 L626.61,262.96 L626.74,263.36 L626.88,263.76 L627.03,264.16 L627.18,264.56 L627.33,264.96 L627.47,265.36 L627.61,265.76 L627.75,266.16 L627.88,266.56 L628.00,266.96 L628.12,267.36 L628.24,267.76 L628.35,268.16 L628.46,268.56 L628.57,268.96 L628.66,269.36 L628.76,269.76 L628.85,270.16 L628.93,270.56 L629.01,270.96 L629.08,271.36 L629.15,271.76 L629.22,272.16 L629.27,272.56 L629.32,272.96 L629.36,273.36 L629.39,273.76 L629.41,274.16 L629.42,274.56 L629.42,274.96 L629.42,275.36 L629.43,275.76 L629.43,276.16 L629.43,276.56 L629.44,276.96 L629.47,277.36 L629.51,277.76 L629.59,278.16 L629.69,278.56 L629.82,278.96 L629.97,279.36 L630.14,279.76 L630.32,280.16 L630.50,280.56 L630.70,280.96 L630.91,281.36 L631.13,281.76 L631.36,282.16 L631.60,282.56 L631.85,282.96 L632.10,283.36 L632.36,283.76 L632.61,284.16 L632.87,284.56 L633.13,284.96 L633.39,285.36 L633.65,285.76 L633.92,286.16 L634.18,286.56 L634.44,286.96 L634.69,287.36 L634.94,287.76 L635.19,288.16 L635.44,288.56 L635.68,288.96 L635.93,289.36 L636.17,289.76 L636.40,290.16 L636.64,290.56 L636.87,290.96 L637.10,291.36 L637.32,291.76 L637.55,292.16 L637.77,292.56 L637.99,292.96 L638.21,293.36 L638.43,293.76 L638.64,294.16 L638.85,294.56 L639.06,294.96 L639.26,295.36 L639.47,295.76 L639.67,296.16 L639.87,296.56 L640.06,296.96 L640.26,297.36 L640.45,297.76 L640.64,298.16 L640.83,298.56 L641.01,298.96 L641.20,299.36 L641.38,299.76 L641.55,300.16 L641.73,300.56 L641.90,300.96 L642.07,301.36 L642.24,301.76 L642.41,302.16 L642.57,302.56 L642.73,302.96 L642.89,303.36 L643.05,303.76 L643.21,304.16 L643.36,304.56 L643.51,304.96 L643.65,305.36 L643.80,305.76 L643.94,306.16 L644.08,306.56 L644.22,306.96 L644.36,307.36 L644.49,307.76 L644.62,308.16 L644.75,308.56 L644.88,308.96 L645.01,309.36 L645.13,309.76 L645.25,310.16 L645.37,310.56 L645.48,310.96 L645.59,311.36 L645.68,311.76 L645.77,312.16 L645.84,312.56 L645.91,312.96 L645.97,313.36 L646.03,313.76 L646.08,314.16 L646.13,314.56 L646.18,314.96 L646.23,315.36 L646.28,315.76 L646.32,316.16 L646.37,316.56 L646.41,316.96 L646.46,317.36 L646.50,317.76 L646.54,318.16 L646.58,318.56 L646.62,318.96 L646.66,319.36 L646.70,319.76 L646.74,320.16 L646.78,320.56 L646.81,320.96 L646.85,321.36 L646.88,321.76 L646.90,322.16 L646.93,322.56 L646.95,322.96 L646.97,323.36 L646.99,323.76 L647.01,324.16 L647.03,324.56 L647.05,324.96 L647.07,325.36 L647.09,325.76 L647.11,326.16 L647.13,326.56 L647.15,326.96 L647.17,327.36 L647.19,327.76 L647.21,328.16 L647.23,328.56 L647.25,328.96 L647.27,329.36 L647.29,329.76 L647.31,330.16 L647.32,330.56 L647.48,330.56 L647.49,330.16 L647.51,329.76 L647.53,329.36 L647.55,328.96 L647.57,328.56 L647.59,328.16 L647.61,327.76 L647.63,327.36 L647.65,326.96 L647.67,326.56 L647.69,326.16 L647.71,325.76 L647.73,325.36 L647.75,324.96 L647.77,324.56 L647.79,324.16 L647.81,323.76 L647.83,323.36 L647.85,322.96 L647.87,322.56 L647.90,322.16 L647.92,321.76 L647.95,321.36 L647.99,320.96 L648.02,320.56 L648.06,320.16 L648.10,319.76 L648.14,319.36 L648.18,318.96 L648.22,318.56 L648.26,318.16 L648.30,317.76 L648.34,317.36 L648.39,316.96 L648.43,316.56 L648.48,316.16 L648.52,315.76 L648.57,315.36 L648.62,314.96 L648.67,314.56 L648.72,314.16 L648.77,313.76 L648.83,313.36 L648.89,312.96 L648.96,312.56 L649.03,312.16 L649.12,311.76 L649.21,311.36 L649.32,310.96 L649.43,310.56 L649.55,310.16 L649.67,309.76 L649.79,309.36 L649.92,308.96 L650.05,308.56 L650.18,308.16 L650.31,307.76 L650.44,307.36 L650.58,306.96 L650.72,306.56 L650.86,306.16 L651.00,305.76 L651.15,305.36 L651.29,304.96 L651.44,304.56 L651.59,304.16 L651.75,303.76 L651.91,303.36 L652.07,302.96 L652.23,302.56 L652.39,302.16 L652.56,301.76 L652.73,301.36 L652.90,300.96 L653.07,300.56 L653.25,300.16 L653.42,299.76 L653.60,299.36 L653.79,298.96 L653.97,298.56 L654.16,298.16 L654.35,297.76 L654.54,297.36 L654.74,296.96 L654.93,296.56 L655.13,296.16 L655.33,295.76 L655.54,295.36 L655.74,294.96 L655.95,294.56 L656.16,294.16 L656.37,293.76 L656.59,293.36 L656.81,292.96 L657.03,292.56 L657.25,292.16 L657.48,291.76 L657.70,291.36 L657.93,290.96 L658.16,290.56 L658.40,290.16 L658.63,289.76 L658.87,289.36 L659.12,288.96 L659.36,288.56 L659.61,288.16 L659.86,287.76 L660.11,287.36 L660.36,286.96 L660.62,286.56 L660.88,286.16 L661.15,285.76 L661.41,285.36 L661.67,284.96 L661.93,284.56 L662.19,284.16 L662.44,283.76 L662.70,283.36 L662.95,282.96 L663.20,282.56 L663.44,282.16 L663.67,281.76 L663.89,281.36 L664.10,280.96 L664.30,280.56 L664.48,280.16 L664.66,279.76 L664.83,279.36 L664.98,278.96 L665.11,278.56 L665.21,278.16 L665.29,277.76 L665.33,277.36 L665.36,276.96 L665.37,276.56 L665.37,276.16 L665.37,275.76 L665.38,275.36 L665.38,274.96 L665.38,274.56 L665.39,274.16 L665.41,273.76 L665.44,273.36 L665.48,272.96 L665.53,272.56 L665.58,272.16 L665.65,271.76 L665.72,271.36 L665.79,270.96 L665.87,270.56 L665.95,270.16 L666.04,269.76 L666.14,269.36 L666.23,268.96 L666.34,268.56 L666.45,268.16 L666.56,267.76 L666.68,267.36 L666.80,266.96 L666.92,266.56 L667.05,266.16 L667.19,265.76 L667.33,265.36 L667.47,264.96 L667.62,264.56 L667.77,264.16 L667.92,263.76 L668.06,263.36 L668.19,262.96 L668.31,262.56 L668.41,262.16 L668.50,261.76 L668.57,261.36 L668.64,260.96 L668.69,260.56 L668.73,260.16 L668.75,259.76 L668.75,259.36 L668.73,258.96 L668.69,258.56 L668.64,258.16 L668.58,257.76 L668.50,257.36 L668.41,256.96 L668.31,256.56 L668.19,256.16 L668.06,255.76 L667.90,255.36 L667.73,254.96 L667.55,254.56 L667.36,254.16 L667.15,253.76 L666.94,253.36 L666.70,252.96 L666.45,252.56 L666.19,252.16 L665.91,251.76 L665.61,251.36 L665.31,250.96 L665.00,250.56 L664.68,250.16 L664.35,249.76 L664.01,249.36 L663.66,248.96 L663.31,248.56 L662.94,248.16 L662.57,247.76 L662.20,247.36 L661.82,246.96 L661.43,246.56 L661.04,246.16 L660.64,245.76 L660.24,245.36 L659.84,244.96 L659.43,244.56 L659.03,244.16 L658.64,243.76 L658.25,243.36 L657.87,242.96 L657.49,242.56 L657.12,242.16 L656.75,241.76 L656.39,241.36 L656.04,240.96 L655.69,240.56 L655.35,240.16 L655.02,239.76 L654.70,239.36 L654.38,238.96 L654.07,238.56 L653.76,238.16 L653.47,237.76 L653.18,237.36 L652.90,236.96 L652.62,236.56 L652.36,236.16 L652.10,235.76 L651.84,235.36 L651.60,234.96 L651.36,234.56 L651.12,234.16 L650.90,233.76 L650.68,233.36 L650.47,232.96 L650.26,232.56 L650.07,232.16 L649.88,231.76 L649.69,231.36 L649.51,230.96 L649.34,230.56 L649.18,230.16 L649.04,229.76 L648.92,229.36 L648.81,228.96 L648.71,228.56 L648.62,228.16 L648.53,227.76 L648.45,227.36 L648.37,226.96 L648.30,226.56 L648.23,226.16 L648.16,225.76 L648.09,225.36 L648.03,224.96 L647.97,224.56 L647.91,224.16 L647.85,223.76 L647.81,223.36 L647.76,222.96 L647.72,222.56 L647.68,222.16 L647.65,221.76 L647.61,221.36 L647.58,220.96 L647.55,220.56 L647.53,220.16 L647.51,219.76 L647.49,219.36 L647.47,218.96 L647.46,218.56Z" fill="#db8134" stroke="#303030" stroke-width="0.72" stroke-linejoin="round"/>
<line x1="647.20" x2="647.20" y1="218.56" y2="223.76" stroke="#222" stroke-width="0.45"/>
<line x1="647.20" x2="647.20" y1="322.96" y2="330.56" stroke="#222" stroke-width="0.45"/>
<line x1="647.10" x2="647.10" y1="230" y2="325" stroke="#222" stroke-width="0.5"/>
<line x1="647.40" x2="647.40" y1="256.1" y2="285.1" stroke="#333" stroke-width="1.9"/>
<rect x="646.40" y="269.00" width="2.0" height="0.6" fill="#fff" opacity="0.8"/>
<rect x="539.1" y="184.4" width="144.40" height="153.05" fill="none" stroke="#000" stroke-width="0.42"/>
<line x1="537.70" x2="539.1" y1="185.2" y2="185.2" stroke="#000" stroke-width="0.42"/>
<text transform="translate(535.75,187.30) scale(0.3425,0.33)" text-anchor="end" font-size="13.89">500</text>
<line x1="537.70" x2="539.1" y1="207.2" y2="207.2" stroke="#000" stroke-width="0.42"/>
<text transform="translate(535.75,209.30) scale(0.3425,0.33)" text-anchor="end" font-size="13.89">450</text>
<line x1="537.70" x2="539.1" y1="229.5" y2="229.5" stroke="#000" stroke-width="0.42"/>
<text transform="translate(535.75,231.60) scale(0.3425,0.33)" text-anchor="end" font-size="13.89">400</text>
<line x1="537.70" x2="539.1" y1="251.7" y2="251.7" stroke="#000" stroke-width="0.42"/>
<text transform="translate(535.75,253.80) scale(0.3425,0.33)" text-anchor="end" font-size="13.89">350</text>
<line x1="537.70" x2="539.1" y1="273.9" y2="273.9" stroke="#000" stroke-width="0.42"/>
<text transform="translate(535.75,276.00) scale(0.3425,0.33)" text-anchor="end" font-size="13.89">300</text>
<line x1="537.70" x2="539.1" y1="296.1" y2="296.1" stroke="#000" stroke-width="0.42"/>
<text transform="translate(535.75,298.20) scale(0.3425,0.33)" text-anchor="end" font-size="13.89">250</text>
<line x1="537.70" x2="539.1" y1="318.3" y2="318.3" stroke="#000" stroke-width="0.42"/>
<text transform="translate(535.75,320.40) scale(0.3425,0.33)" text-anchor="end" font-size="13.89">200</text>
<line x1="575.20" x2="575.20" y1="337.45" y2="338.85" stroke="#000" stroke-width="0.42"/>
<text transform="translate(575.20,343.90) scale(0.3425,0.33)" text-anchor="middle" font-size="13.89">SC</text>
<line x1="647.40" x2="647.40" y1="337.45" y2="338.85" stroke="#000" stroke-width="0.42"/>
<text transform="translate(647.40,343.90) scale(0.3425,0.33)" text-anchor="middle" font-size="13.89">IC</text>
<text transform="translate(611.30,349.60) scale(0.3425,0.33)" text-anchor="middle" font-size="13.89">Type</text>
<text transform="translate(611.30,182.10) scale(0.3425,0.33)" text-anchor="middle" font-size="16.67">MCR</text>
<text transform="translate(522.89,261.62) scale(0.3425,0.2933) rotate(-90)" text-anchor="middle" font-size="13.89">MCR</text>
</svg>
</body></html>
